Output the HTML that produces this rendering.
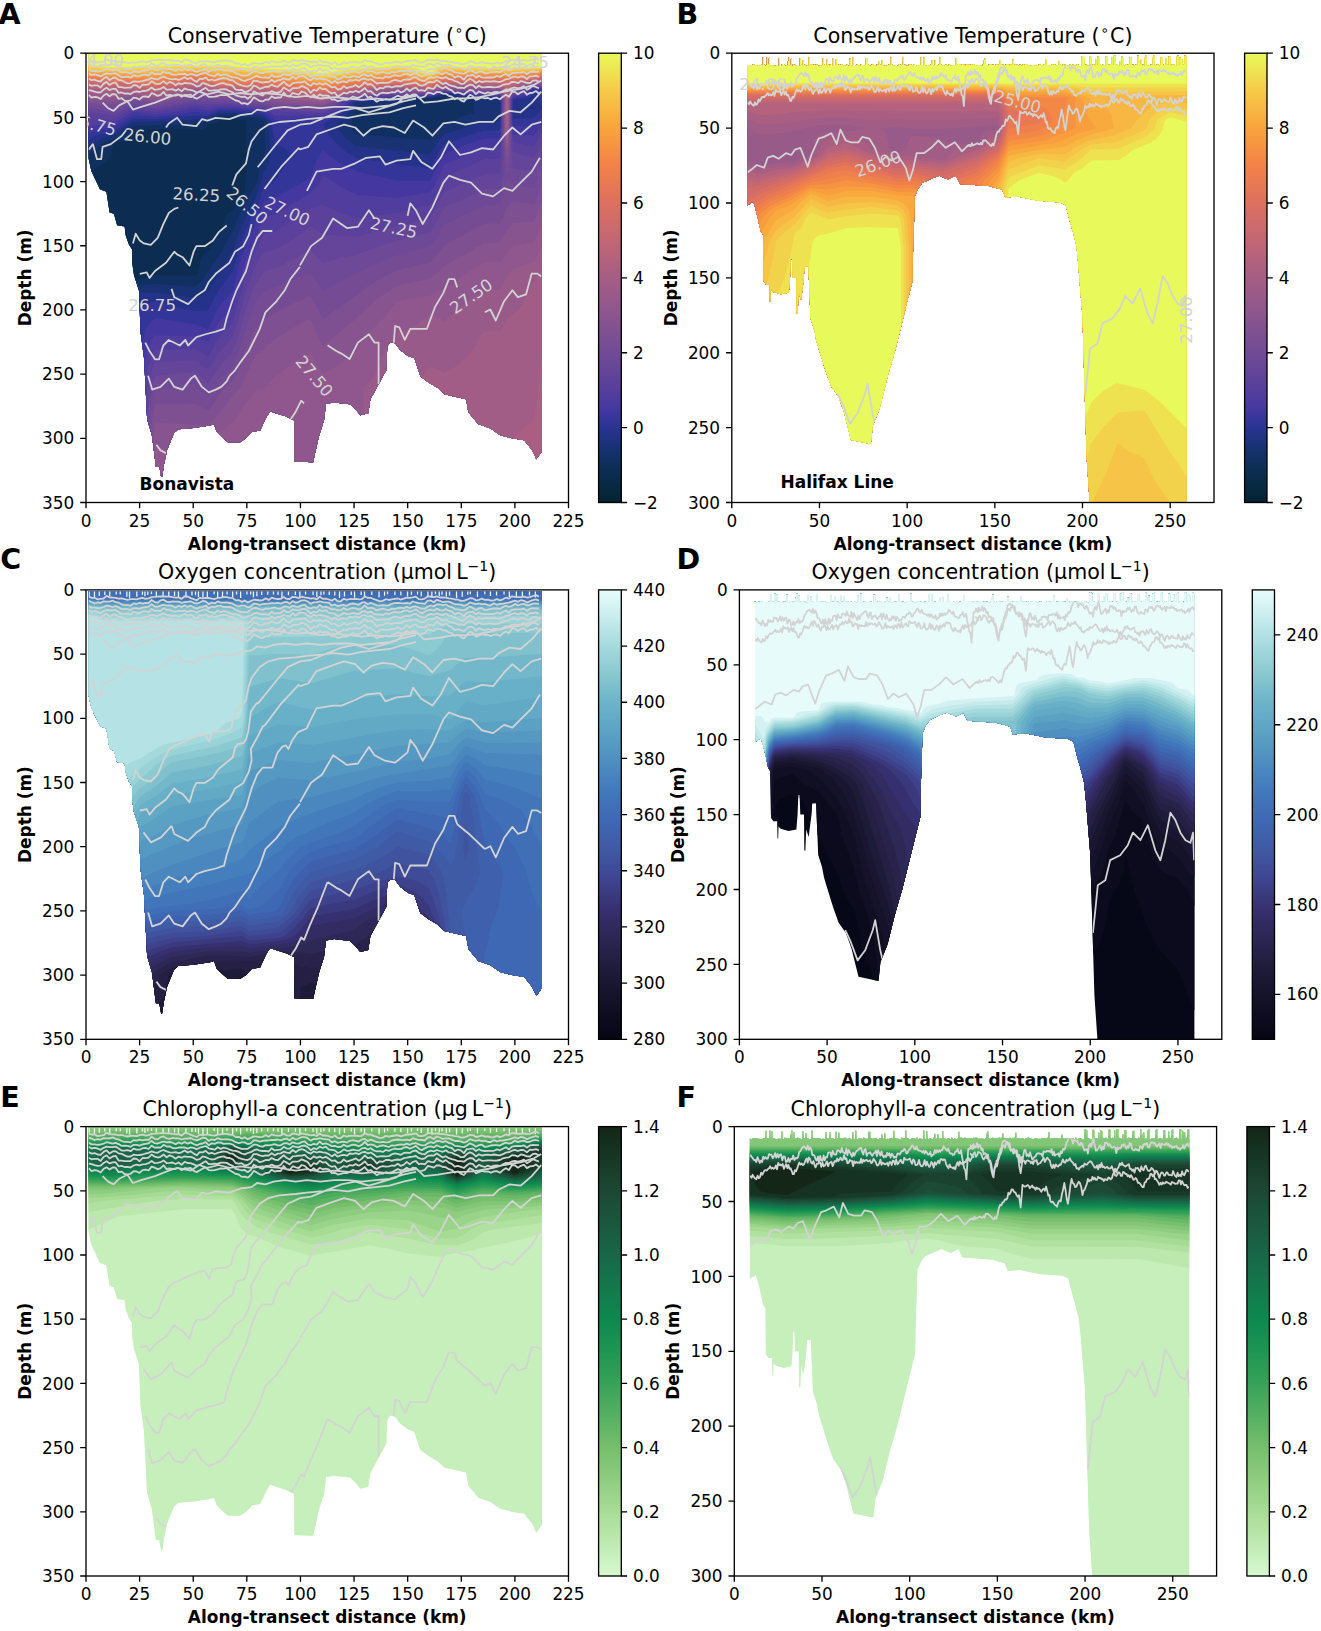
<!DOCTYPE html><html><head><meta charset="utf-8"><style>html,body{margin:0;padding:0;background:#fff;}svg{display:block;}</style></head><body><svg width="1321" height="1631" viewBox="0 0 1321 1631" font-family="'DejaVu Sans','Liberation Sans',sans-serif">
<rect width="1321" height="1631" fill="#fff"/>
<defs><clipPath id="clipA"><polygon points="88.6,54.2 88.6,158.5 91.4,171.3 95.7,180.3 99.9,189.3 106.4,191.8 109.6,212.4 113.9,213.7 117.1,225.2 124.6,226.5 125.7,235.5 128.9,244.5 132.1,249.6 132.3,263.7 134.0,275.3 139.0,290.7 140.5,331.8 144.1,358.7 147.1,419.1 152.0,435.7 155.9,466.6 159.3,466.6 161.1,476.8 162.1,476.8 164.1,464.0 167.1,449.9 173.9,433.2 178.2,429.3 193.2,428.0 209.9,425.5 214.0,424.2 216.8,431.9 222.0,437.0 228.0,442.2 240.0,442.2 246.0,438.3 252.0,431.9 260.1,430.6 266.1,417.8 270.0,411.4 276.0,413.3 286.1,416.5 294.0,420.3 294.4,461.4 313.1,462.2 316.1,448.6 319.1,435.7 324.0,420.3 326.0,403.7 334.1,402.4 350.2,404.2 356.2,410.1 360.3,415.2 368.2,413.2 370.4,399.2 376.4,388.2 380.2,381.2 386.2,370.3 387.3,346.3 390.3,342.2 395.2,343.2 400.4,350.3 408.3,356.2 414.3,358.2 420.3,376.2 428.3,382.2 438.3,388.2 444.3,394.2 466.2,399.2 468.4,412.3 478.4,424.2 490.2,428.2 500.3,435.2 512.3,438.2 524.3,440.2 532.3,450.3 536.3,459.2 541.9,451.2 541.9,54.2"/></clipPath><clipPath id="axA"><rect x="86.0" y="53.2" width="482.5" height="449.3"/></clipPath><linearGradient id="gA" x1="0" y1="0" x2="0" y2="1"><stop offset="0.000" stop-color="#e8fa5b"/><stop offset="0.080" stop-color="#f5cc48"/><stop offset="0.170" stop-color="#faa23c"/><stop offset="0.250" stop-color="#f28248"/><stop offset="0.330" stop-color="#de705e"/><stop offset="0.420" stop-color="#c16676"/><stop offset="0.500" stop-color="#a55e84"/><stop offset="0.580" stop-color="#8c568e"/><stop offset="0.670" stop-color="#704a96"/><stop offset="0.750" stop-color="#563f9c"/><stop offset="0.792" stop-color="#4438a0"/><stop offset="0.833" stop-color="#2a3394"/><stop offset="0.875" stop-color="#183274"/><stop offset="0.920" stop-color="#0d2f57"/><stop offset="0.960" stop-color="#082942"/><stop offset="1.000" stop-color="#042333"/></linearGradient><clipPath id="clipB"><polygon points="747.4,65.2 747.4,205.4 753.4,201.5 757.0,214.6 760.7,231.4 763.0,234.4 763.4,280.8 766.0,284.4 769.5,284.4 769.8,301.8 770.6,301.8 770.9,289.8 773.0,292.1 780.9,294.3 788.8,292.8 790.0,277.9 790.7,258.4 791.9,258.4 792.6,277.9 796.3,277.9 796.7,313.8 797.7,313.8 798.6,292.8 801.1,300.3 803.5,280.8 804.6,266.5 808.4,266.5 810.5,318.3 814.4,330.3 816.3,340.8 820.0,352.7 825.6,370.7 830.9,385.7 838.2,396.2 843.7,411.1 850.9,440.0 870.8,444.1 872.8,425.5 880.0,407.4 887.2,378.2 894.5,352.7 901.7,324.0 907.1,302.1 912.6,280.4 912.9,256.9 914.9,196.1 918.5,188.0 922.2,183.0 929.6,179.5 939.1,175.7 948.2,179.5 955.7,175.7 959.9,184.1 988.9,186.0 1002.2,189.8 1005.2,197.6 1017.6,196.5 1036.9,200.4 1060.0,202.4 1065.8,205.2 1069.7,220.6 1073.5,234.1 1076.4,245.7 1078.3,264.4 1079.5,280.8 1082.5,316.8 1084.9,400.1 1086.7,458.2 1089.7,502.5 1186.6,502.5 1186.6,65.2 1186.6,56.2 1185.6,56.2 1185.6,55.8 1184.6,55.8 1184.6,64.4 1183.6,64.4 1183.6,64.9 1182.6,64.9 1182.6,59.2 1181.6,59.2 1181.6,58.9 1180.6,58.9 1180.6,57.4 1179.6,57.4 1179.6,65.8 1178.7,65.8 1178.7,55.7 1177.7,55.7 1177.7,55.9 1176.7,55.9 1176.7,66.0 1175.7,66.0 1175.7,65.0 1174.7,65.0 1174.7,64.4 1173.7,64.4 1173.7,64.8 1172.7,64.8 1172.7,64.5 1171.7,64.5 1171.7,65.7 1170.7,65.7 1170.7,55.9 1169.7,55.9 1169.7,56.8 1168.7,56.8 1168.7,65.0 1167.7,65.0 1167.7,64.4 1166.7,64.4 1166.7,57.9 1165.7,57.9 1165.7,65.1 1164.7,65.1 1164.7,65.3 1163.7,65.3 1163.7,64.8 1162.7,64.8 1162.7,57.2 1161.7,57.2 1161.7,57.0 1160.7,57.0 1160.7,65.3 1159.7,65.3 1159.7,65.9 1158.7,65.9 1158.7,64.8 1157.7,64.8 1157.7,64.5 1156.7,64.5 1156.7,65.6 1155.7,65.6 1155.7,65.2 1154.7,65.2 1154.7,55.5 1153.7,55.5 1153.7,56.9 1152.7,56.9 1152.7,65.3 1151.7,65.3 1151.7,64.8 1150.7,64.8 1150.7,65.4 1149.7,65.4 1149.7,65.1 1148.7,65.1 1148.7,66.0 1147.7,66.0 1147.7,65.5 1146.7,65.5 1146.7,55.6 1145.7,55.6 1145.7,57.0 1144.7,57.0 1144.7,66.1 1143.7,66.1 1143.7,64.8 1142.7,64.8 1142.7,65.5 1141.7,65.5 1141.7,59.0 1140.7,59.0 1140.7,64.5 1139.7,64.5 1139.7,60.4 1138.7,60.4 1138.7,55.7 1137.7,55.7 1137.7,65.0 1136.7,65.0 1136.7,64.4 1135.7,64.4 1135.7,65.3 1134.7,65.3 1134.7,65.8 1133.7,65.8 1133.7,64.8 1132.7,64.8 1132.7,64.9 1131.7,64.9 1131.7,57.4 1130.7,57.4 1130.7,57.6 1129.7,57.6 1129.7,64.6 1128.7,64.6 1128.7,64.7 1127.7,64.7 1127.7,65.3 1126.7,65.3 1126.7,64.3 1125.7,64.3 1125.7,64.9 1124.7,64.9 1124.7,66.0 1123.7,66.0 1123.7,57.0 1122.7,57.0 1122.7,56.6 1121.7,56.6 1121.7,65.5 1120.7,65.5 1120.7,61.0 1119.7,61.0 1119.7,65.9 1118.7,65.9 1118.7,65.0 1117.7,65.0 1117.7,64.5 1116.7,64.5 1116.7,64.4 1115.7,64.4 1115.7,55.6 1114.7,55.6 1114.7,55.9 1113.7,55.9 1113.7,64.9 1112.7,64.9 1112.7,56.9 1111.7,56.9 1111.7,64.5 1110.7,64.5 1110.7,64.3 1109.7,64.3 1109.7,65.4 1108.7,65.4 1108.7,64.7 1107.7,64.7 1107.7,56.2 1106.7,56.2 1106.7,56.3 1105.7,56.3 1105.7,65.8 1104.7,65.8 1104.7,65.1 1103.7,65.1 1103.7,64.4 1102.7,64.4 1102.7,64.9 1101.7,64.9 1101.7,65.8 1100.7,65.8 1100.7,64.3 1099.7,64.3 1099.7,57.6 1098.7,57.6 1098.7,56.6 1097.7,56.6 1097.7,65.3 1096.7,65.3 1096.7,59.3 1095.7,59.3 1095.7,65.8 1094.7,65.8 1094.7,64.8 1093.7,64.8 1093.7,64.6 1092.7,64.6 1092.7,65.2 1091.7,65.2 1091.7,57.2 1090.7,57.2 1090.7,56.2 1089.7,56.2 1089.7,65.7 1088.7,65.7 1088.7,65.8 1087.7,65.8 1087.7,65.8 1086.7,65.8 1086.7,64.7 1085.7,64.7 1085.7,64.9 1084.7,64.9 1084.7,57.1 1083.7,57.1 1083.7,56.1 1082.7,56.1 1082.7,56.0 1081.7,56.0 1081.7,66.0 1080.7,66.0 1080.7,66.0 1079.7,66.0 1079.7,66.0 1078.7,66.0 1078.7,64.7 1077.7,64.7 1077.7,64.6 1076.7,64.6 1076.7,65.4 1075.7,65.4 1075.7,65.8 1074.7,65.8 1074.7,65.5 1073.7,65.5 1073.7,64.4 1072.7,64.4 1072.7,65.9 1071.7,65.9 1071.7,65.6 1070.7,65.6 1070.7,64.6 1069.7,64.6 1069.7,64.9 1068.7,64.9 1068.7,66.0 1067.7,66.0 1067.7,65.0 1066.7,65.0 1066.7,65.6 1065.7,65.6 1065.7,64.5 1064.7,64.5 1064.7,65.9 1063.7,65.9 1063.7,64.5 1062.7,64.5 1062.7,66.0 1061.7,66.0 1061.7,64.9 1060.7,64.9 1060.7,64.5 1059.7,64.5 1059.7,61.3 1058.7,61.3 1058.7,65.2 1057.7,65.2 1057.7,65.1 1056.7,65.1 1056.7,65.8 1055.7,65.8 1055.7,64.7 1054.7,64.7 1054.7,64.7 1053.7,64.7 1053.7,64.7 1052.7,64.7 1052.7,64.5 1051.7,64.5 1051.7,64.9 1050.7,64.9 1050.7,65.3 1049.7,65.3 1049.7,65.0 1048.7,65.0 1048.7,65.2 1047.7,65.2 1047.7,65.2 1046.7,65.2 1046.7,58.9 1045.7,58.9 1045.7,64.3 1044.7,64.3 1044.7,64.6 1043.7,64.6 1043.7,65.6 1042.7,65.6 1042.7,64.9 1041.7,64.9 1041.7,65.3 1040.7,65.3 1040.7,64.5 1039.7,64.5 1039.7,64.7 1038.7,64.7 1038.7,65.7 1037.7,65.7 1037.7,65.3 1036.7,65.3 1036.7,65.9 1035.7,65.9 1035.7,65.4 1034.7,65.4 1034.7,65.2 1033.7,65.2 1033.7,65.1 1032.7,65.1 1032.7,65.1 1031.7,65.1 1031.7,65.5 1030.7,65.5 1030.7,66.0 1029.7,66.0 1029.7,65.3 1028.7,65.3 1028.7,65.8 1027.7,65.8 1027.7,64.5 1026.7,64.5 1026.7,64.4 1025.7,64.4 1025.7,64.4 1024.7,64.4 1024.7,65.7 1023.7,65.7 1023.7,64.6 1022.7,64.6 1022.7,65.5 1021.7,65.5 1021.7,65.9 1020.7,65.9 1020.7,64.7 1019.7,64.7 1019.7,65.0 1018.7,65.0 1018.7,66.1 1017.7,66.1 1017.7,64.6 1016.7,64.6 1016.7,65.2 1015.7,65.2 1015.7,64.6 1014.7,64.6 1014.7,65.6 1013.7,65.6 1013.7,59.4 1012.7,59.4 1012.7,64.3 1011.7,64.3 1011.7,65.4 1010.7,65.4 1010.7,64.4 1009.7,64.4 1009.7,65.7 1008.7,65.7 1008.7,64.5 1007.7,64.5 1007.7,64.4 1006.7,64.4 1006.7,64.8 1005.7,64.8 1005.7,65.0 1004.7,65.0 1004.7,65.8 1003.7,65.8 1003.7,64.6 1002.7,64.6 1002.7,65.3 1001.7,65.3 1001.7,64.4 1000.7,64.4 1000.7,60.0 999.7,60.0 999.7,64.4 998.7,64.4 998.7,65.4 997.7,65.4 997.7,64.4 996.7,64.4 996.7,64.4 995.7,64.4 995.7,65.1 994.7,65.1 994.7,65.3 993.7,65.3 993.7,64.8 992.7,64.8 992.7,65.2 991.7,65.2 991.7,64.5 990.8,64.5 990.8,64.4 989.8,64.4 989.8,64.8 988.8,64.8 988.8,65.6 987.8,65.6 987.8,65.2 986.8,65.2 986.8,64.9 985.8,64.9 985.8,58.1 984.8,58.1 984.8,60.2 983.8,60.2 983.8,64.6 982.8,64.6 982.8,66.0 981.8,66.0 981.8,65.8 980.8,65.8 980.8,65.2 979.8,65.2 979.8,65.0 978.8,65.0 978.8,65.5 977.8,65.5 977.8,64.9 976.8,64.9 976.8,65.6 975.8,65.6 975.8,65.0 974.8,65.0 974.8,64.4 973.8,64.4 973.8,64.4 972.8,64.4 972.8,64.7 971.8,64.7 971.8,64.4 970.8,64.4 970.8,65.8 969.8,65.8 969.8,64.8 968.8,64.8 968.8,64.8 967.8,64.8 967.8,64.6 966.8,64.6 966.8,64.8 965.8,64.8 965.8,66.0 964.8,66.0 964.8,64.7 963.8,64.7 963.8,64.8 962.8,64.8 962.8,64.3 961.8,64.3 961.8,65.1 960.8,65.1 960.8,64.6 959.8,64.6 959.8,64.3 958.8,64.3 958.8,64.4 957.8,64.4 957.8,64.4 956.8,64.4 956.8,58.3 955.8,58.3 955.8,65.3 954.8,65.3 954.8,65.6 953.8,65.6 953.8,65.6 952.8,65.6 952.8,65.0 951.8,65.0 951.8,66.1 950.8,66.1 950.8,65.6 949.8,65.6 949.8,64.4 948.8,64.4 948.8,65.9 947.8,65.9 947.8,65.6 946.8,65.6 946.8,64.5 945.8,64.5 945.8,65.2 944.8,65.2 944.8,65.7 943.8,65.7 943.8,65.3 942.8,65.3 942.8,65.5 941.8,65.5 941.8,64.7 940.8,64.7 940.8,57.5 939.8,57.5 939.8,64.5 938.8,64.5 938.8,65.3 937.8,65.3 937.8,65.4 936.8,65.4 936.8,65.2 935.8,65.2 935.8,60.5 934.8,60.5 934.8,65.2 933.8,65.2 933.8,65.5 932.8,65.5 932.8,60.3 931.8,60.3 931.8,64.4 930.8,64.4 930.8,65.6 929.8,65.6 929.8,65.6 928.8,65.6 928.8,65.2 927.8,65.2 927.8,65.1 926.8,65.1 926.8,65.7 925.8,65.7 925.8,65.4 924.8,65.4 924.8,57.6 923.8,57.6 923.8,65.6 922.8,65.6 922.8,65.3 921.8,65.3 921.8,57.2 920.8,57.2 920.8,65.5 919.8,65.5 919.8,65.5 918.8,65.5 918.8,65.2 917.8,65.2 917.8,65.1 916.8,65.1 916.8,65.9 915.8,65.9 915.8,66.0 914.8,66.0 914.8,64.3 913.8,64.3 913.8,65.8 912.8,65.8 912.8,65.1 911.8,65.1 911.8,64.7 910.8,64.7 910.8,64.7 909.8,64.7 909.8,64.5 908.8,64.5 908.8,66.0 907.8,66.0 907.8,65.8 906.8,65.8 906.8,65.9 905.8,65.9 905.8,64.7 904.8,64.7 904.8,65.2 903.8,65.2 903.8,57.0 902.8,57.0 902.8,65.1 901.8,65.1 901.8,64.5 900.8,64.5 900.8,64.9 899.8,64.9 899.8,64.3 898.8,64.3 898.8,65.8 897.8,65.8 897.8,65.9 896.8,65.9 896.8,65.9 895.8,65.9 895.8,65.0 894.8,65.0 894.8,66.1 893.8,66.1 893.8,64.9 892.8,64.9 892.8,64.8 891.8,64.8 891.8,57.4 890.8,57.4 890.8,64.8 889.8,64.8 889.8,64.7 888.8,64.7 888.8,65.2 887.8,65.2 887.8,65.0 886.8,65.0 886.8,65.9 885.8,65.9 885.8,65.4 884.8,65.4 884.8,66.0 883.8,66.0 883.8,65.6 882.8,65.6 882.8,60.2 881.8,60.2 881.8,65.6 880.8,65.6 880.8,64.8 879.8,64.8 879.8,61.1 878.8,61.1 878.8,65.1 877.8,65.1 877.8,64.8 876.8,64.8 876.8,66.0 875.8,66.0 875.8,65.5 874.8,65.5 874.8,65.3 873.8,65.3 873.8,64.6 872.8,64.6 872.8,64.7 871.8,64.7 871.8,65.2 870.8,65.2 870.8,65.9 869.8,65.9 869.8,65.1 868.8,65.1 868.8,64.6 867.8,64.6 867.8,58.5 866.8,58.5 866.8,58.0 865.8,58.0 865.8,65.3 864.8,65.3 864.8,65.6 863.8,65.6 863.8,65.0 862.8,65.0 862.8,65.0 861.8,65.0 861.8,64.4 860.8,64.4 860.8,66.0 859.8,66.0 859.8,65.2 858.8,65.2 858.8,65.8 857.8,65.8 857.8,64.8 856.8,64.8 856.8,65.0 855.8,65.0 855.8,66.0 854.8,66.0 854.8,65.9 853.8,65.9 853.8,57.1 852.8,57.1 852.8,65.9 851.8,65.9 851.8,65.3 850.8,65.3 850.8,58.7 849.8,58.7 849.8,65.8 848.8,65.8 848.8,66.0 847.8,66.0 847.8,64.5 846.8,64.5 846.8,65.2 845.8,65.2 845.8,66.0 844.8,66.0 844.8,65.4 843.8,65.4 843.8,65.1 842.8,65.1 842.8,64.4 841.8,64.4 841.8,64.7 840.8,64.7 840.8,65.4 839.8,65.4 839.8,64.5 838.8,64.5 838.8,65.4 837.8,65.4 837.8,64.5 836.8,64.5 836.8,59.3 835.8,59.3 835.8,65.0 834.8,65.0 834.8,65.4 833.8,65.4 833.8,58.3 832.8,58.3 832.8,66.0 831.8,66.0 831.8,65.9 830.8,65.9 830.8,64.7 829.8,64.7 829.8,66.0 828.8,66.0 828.8,64.8 827.8,64.8 827.8,59.2 826.8,59.2 826.8,65.0 825.8,65.0 825.8,65.5 824.8,65.5 824.8,64.7 823.8,64.7 823.8,58.5 822.8,58.5 822.8,65.5 821.8,65.5 821.8,65.7 820.8,65.7 820.8,65.2 819.8,65.2 819.8,66.0 818.8,66.0 818.8,65.8 817.8,65.8 817.8,64.7 816.8,64.7 816.8,64.8 815.8,64.8 815.8,65.2 814.8,65.2 814.8,64.7 813.8,64.7 813.8,65.5 812.8,65.5 812.8,64.5 811.8,64.5 811.8,64.7 810.8,64.7 810.8,64.5 809.8,64.5 809.8,57.2 808.8,57.2 808.8,65.9 807.8,65.9 807.8,65.6 806.8,65.6 806.8,66.0 805.8,66.0 805.8,64.6 804.8,64.6 804.8,65.6 803.8,65.6 803.8,59.9 802.8,59.9 802.8,65.0 801.9,65.0 801.9,64.6 800.9,64.6 800.9,58.2 799.9,58.2 799.9,66.0 798.9,66.0 798.9,66.0 797.9,66.0 797.9,64.9 796.9,64.9 796.9,65.8 795.9,65.8 795.9,64.4 794.9,64.4 794.9,65.0 793.9,65.0 793.9,64.6 792.9,64.6 792.9,65.9 791.9,65.9 791.9,58.8 790.9,58.8 790.9,65.7 789.9,65.7 789.9,57.1 788.9,57.1 788.9,61.1 787.9,61.1 787.9,65.6 786.9,65.6 786.9,64.9 785.9,64.9 785.9,66.0 784.9,66.0 784.9,64.8 783.9,64.8 783.9,64.9 782.9,64.9 782.9,64.3 781.9,64.3 781.9,65.9 780.9,65.9 780.9,66.0 779.9,66.0 779.9,58.0 778.9,58.0 778.9,66.0 777.9,66.0 777.9,65.0 776.9,65.0 776.9,65.1 775.9,65.1 775.9,66.0 774.9,66.0 774.9,65.7 773.9,65.7 773.9,65.8 772.9,65.8 772.9,65.4 771.9,65.4 771.9,64.9 770.9,64.9 770.9,65.7 769.9,65.7 769.9,57.8 768.9,57.8 768.9,64.7 767.9,64.7 767.9,57.1 766.9,57.1 766.9,64.9 765.9,64.9 765.9,65.9 764.9,65.9 764.9,64.8 763.9,64.8 763.9,57.4 762.9,57.4 762.9,65.6 761.9,65.6 761.9,64.7 760.9,64.7 760.9,65.4 759.9,65.4 759.9,65.6 758.9,65.6 758.9,65.5 757.9,65.5 757.9,65.8 756.9,65.8 756.9,65.3 755.9,65.3 755.9,65.6 754.9,65.6 754.9,64.7 753.9,64.7 753.9,64.6 752.9,64.6 752.9,65.3 751.9,65.3 751.9,65.0 750.9,65.0 750.9,65.2 749.9,65.2 749.9,65.7 748.9,65.7 748.9,66.1 747.9,66.1 747.9,65.1 746.9,65.1 747.4,65.2"/></clipPath><clipPath id="axB"><rect x="731.8" y="53.2" width="482.2" height="449.3"/></clipPath><linearGradient id="gB" x1="0" y1="0" x2="0" y2="1"><stop offset="0.000" stop-color="#e8fa5b"/><stop offset="0.080" stop-color="#f5cc48"/><stop offset="0.170" stop-color="#faa23c"/><stop offset="0.250" stop-color="#f28248"/><stop offset="0.330" stop-color="#de705e"/><stop offset="0.420" stop-color="#c16676"/><stop offset="0.500" stop-color="#a55e84"/><stop offset="0.580" stop-color="#8c568e"/><stop offset="0.670" stop-color="#704a96"/><stop offset="0.750" stop-color="#563f9c"/><stop offset="0.792" stop-color="#4438a0"/><stop offset="0.833" stop-color="#2a3394"/><stop offset="0.875" stop-color="#183274"/><stop offset="0.920" stop-color="#0d2f57"/><stop offset="0.960" stop-color="#082942"/><stop offset="1.000" stop-color="#042333"/></linearGradient><clipPath id="clipC"><polygon points="88.6,590.9 88.6,695.2 91.4,708.0 95.7,717.0 99.9,726.0 106.4,728.6 109.6,749.1 113.9,750.4 117.1,762.0 124.6,763.2 125.7,772.2 128.9,781.2 132.1,786.4 132.3,800.5 134.0,812.0 139.0,827.4 140.5,868.5 144.1,895.5 147.1,955.8 152.0,972.5 155.9,1003.3 159.3,1003.3 161.1,1013.6 162.1,1013.6 164.1,1000.8 167.1,986.7 173.9,970.0 178.2,966.1 193.2,964.8 209.9,962.3 214.0,961.0 216.8,968.7 222.0,973.8 228.0,979.0 240.0,979.0 246.0,975.1 252.0,968.7 260.1,967.4 266.1,954.6 270.0,948.1 276.0,950.1 286.1,953.3 294.0,957.1 294.4,998.2 313.1,999.0 316.1,985.4 319.1,972.5 324.0,957.1 326.0,940.4 334.1,939.1 350.2,940.9 356.2,946.9 360.3,952.0 368.2,949.9 370.4,935.9 376.4,925.0 380.2,918.0 386.2,907.0 387.3,883.0 390.3,878.9 395.2,880.0 400.4,887.0 408.3,892.9 414.3,895.0 420.3,913.0 428.3,919.0 438.3,925.0 444.3,930.9 466.2,935.9 468.4,949.0 478.4,961.0 490.2,965.0 500.3,972.0 512.3,975.0 524.3,977.0 532.3,987.0 536.3,996.0 541.9,987.9 541.9,590.9"/></clipPath><linearGradient id="gC" x1="0" y1="0" x2="0" y2="1"><stop offset="0.000" stop-color="#e8fbfb"/><stop offset="0.062" stop-color="#c8eced"/><stop offset="0.125" stop-color="#a5dadc"/><stop offset="0.194" stop-color="#86c6cf"/><stop offset="0.256" stop-color="#6ab2c8"/><stop offset="0.325" stop-color="#5aa0c4"/><stop offset="0.387" stop-color="#4d8cc0"/><stop offset="0.450" stop-color="#4278bb"/><stop offset="0.512" stop-color="#3f68b4"/><stop offset="0.581" stop-color="#4058a3"/><stop offset="0.644" stop-color="#3f4590"/><stop offset="0.713" stop-color="#372f6e"/><stop offset="0.775" stop-color="#2c2652"/><stop offset="0.844" stop-color="#1f1b3a"/><stop offset="0.906" stop-color="#141228"/><stop offset="1.000" stop-color="#050614"/></linearGradient><clipPath id="clipD"><polygon points="755.0,601.9 755.0,742.1 761.0,738.2 764.7,751.4 768.3,768.2 770.6,771.2 771.0,817.6 773.6,821.2 777.1,821.2 777.5,838.6 778.2,838.6 778.5,826.6 780.6,828.8 788.5,831.1 796.4,829.6 797.6,814.6 798.3,795.1 799.6,795.1 800.3,814.6 804.0,814.6 804.3,850.6 805.4,850.6 806.2,829.6 808.7,837.1 811.1,817.6 812.2,803.2 816.1,803.2 818.2,855.0 822.0,867.0 824.0,877.5 827.6,889.5 833.2,907.5 838.5,922.5 845.9,932.9 851.3,947.9 858.5,976.8 878.5,980.9 880.4,962.3 887.6,944.2 894.8,915.0 902.2,889.5 909.4,860.7 914.8,838.9 920.3,817.1 920.6,793.6 922.5,732.8 926.2,724.7 929.9,719.8 937.3,716.2 946.7,712.4 955.9,716.2 963.4,712.4 967.6,720.8 996.6,722.8 1009.9,726.5 1012.9,734.3 1025.3,733.3 1044.6,737.2 1067.8,739.1 1073.6,741.9 1077.4,757.4 1081.3,770.9 1084.1,782.4 1086.0,801.1 1087.3,817.6 1090.2,853.5 1092.7,936.8 1094.4,995.0 1097.4,1039.3 1194.4,1039.3 1194.4,601.9 1194.4,592.9 1193.4,592.9 1193.4,592.5 1192.4,592.5 1192.4,601.1 1191.4,601.1 1191.4,601.6 1190.4,601.6 1190.4,595.9 1189.4,595.9 1189.4,595.6 1188.4,595.6 1188.4,594.1 1187.4,594.1 1187.4,602.5 1186.4,602.5 1186.4,592.4 1185.4,592.4 1185.4,592.6 1184.4,592.6 1184.4,602.7 1183.4,602.7 1183.4,601.7 1182.4,601.7 1182.4,601.1 1181.4,601.1 1181.4,601.5 1180.4,601.5 1180.4,601.2 1179.4,601.2 1179.4,602.5 1178.4,602.5 1178.4,592.6 1177.4,592.6 1177.4,593.5 1176.4,593.5 1176.4,601.7 1175.4,601.7 1175.4,601.1 1174.4,601.1 1174.4,594.6 1173.4,594.6 1173.4,601.8 1172.4,601.8 1172.4,602.0 1171.4,602.0 1171.4,601.5 1170.4,601.5 1170.4,593.9 1169.4,593.9 1169.4,593.7 1168.4,593.7 1168.4,602.0 1167.4,602.0 1167.4,602.6 1166.4,602.6 1166.4,601.5 1165.4,601.5 1165.4,601.2 1164.4,601.2 1164.4,602.3 1163.4,602.3 1163.4,601.9 1162.4,601.9 1162.4,592.2 1161.4,592.2 1161.4,593.6 1160.4,593.6 1160.4,602.0 1159.4,602.0 1159.4,601.5 1158.4,601.5 1158.4,602.1 1157.4,602.1 1157.4,601.8 1156.4,601.8 1156.4,602.7 1155.4,602.7 1155.4,602.2 1154.4,602.2 1154.4,592.3 1153.4,592.3 1153.4,593.7 1152.4,593.7 1152.4,602.8 1151.4,602.8 1151.4,601.5 1150.4,601.5 1150.4,602.2 1149.4,602.2 1149.4,595.7 1148.4,595.7 1148.4,601.2 1147.4,601.2 1147.4,597.1 1146.4,597.1 1146.4,592.4 1145.4,592.4 1145.4,601.7 1144.4,601.7 1144.4,601.1 1143.4,601.1 1143.4,602.0 1142.4,602.0 1142.4,602.5 1141.4,602.5 1141.4,601.5 1140.4,601.5 1140.4,601.6 1139.4,601.6 1139.4,594.1 1138.4,594.1 1138.4,594.3 1137.4,594.3 1137.4,601.3 1136.4,601.3 1136.4,601.4 1135.4,601.4 1135.4,602.0 1134.4,602.0 1134.4,601.0 1133.4,601.0 1133.4,601.6 1132.4,601.6 1132.4,602.7 1131.4,602.7 1131.4,593.7 1130.4,593.7 1130.4,593.3 1129.4,593.3 1129.4,602.2 1128.4,602.2 1128.4,597.7 1127.4,597.7 1127.4,602.6 1126.4,602.6 1126.4,601.7 1125.4,601.7 1125.4,601.2 1124.4,601.2 1124.4,601.1 1123.4,601.1 1123.4,592.3 1122.4,592.3 1122.4,592.6 1121.4,592.6 1121.4,601.6 1120.4,601.6 1120.4,593.6 1119.4,593.6 1119.4,601.2 1118.4,601.2 1118.4,601.0 1117.4,601.0 1117.4,602.1 1116.4,602.1 1116.4,601.4 1115.4,601.4 1115.4,592.9 1114.4,592.9 1114.4,593.0 1113.4,593.0 1113.4,602.5 1112.4,602.5 1112.4,601.8 1111.4,601.8 1111.4,601.1 1110.4,601.1 1110.4,601.6 1109.4,601.6 1109.4,602.5 1108.4,602.5 1108.4,601.0 1107.4,601.0 1107.4,594.3 1106.4,594.3 1106.4,593.3 1105.4,593.3 1105.4,602.0 1104.4,602.0 1104.4,596.0 1103.4,596.0 1103.4,602.5 1102.4,602.5 1102.4,601.5 1101.4,601.5 1101.4,601.3 1100.4,601.3 1100.4,601.9 1099.4,601.9 1099.4,593.9 1098.4,593.9 1098.4,592.9 1097.4,592.9 1097.4,602.4 1096.4,602.4 1096.4,602.5 1095.4,602.5 1095.4,602.5 1094.4,602.5 1094.4,601.4 1093.4,601.4 1093.4,601.6 1092.4,601.6 1092.4,593.8 1091.4,593.8 1091.4,592.8 1090.4,592.8 1090.4,592.7 1089.4,592.7 1089.4,602.7 1088.4,602.7 1088.4,602.7 1087.4,602.7 1087.4,602.7 1086.4,602.7 1086.4,601.4 1085.4,601.4 1085.4,601.3 1084.4,601.3 1084.4,602.1 1083.4,602.1 1083.4,602.5 1082.4,602.5 1082.4,602.2 1081.4,602.2 1081.4,601.1 1080.4,601.1 1080.4,602.6 1079.4,602.6 1079.4,602.3 1078.4,602.3 1078.4,601.3 1077.4,601.3 1077.4,601.6 1076.4,601.6 1076.4,602.7 1075.4,602.7 1075.4,601.7 1074.4,601.7 1074.4,602.3 1073.4,602.3 1073.4,601.2 1072.4,601.2 1072.4,602.6 1071.4,602.6 1071.4,601.2 1070.4,601.2 1070.4,602.7 1069.4,602.7 1069.4,601.6 1068.4,601.6 1068.4,601.2 1067.4,601.2 1067.4,598.0 1066.4,598.0 1066.4,601.9 1065.4,601.9 1065.4,601.8 1064.4,601.8 1064.4,602.5 1063.5,602.5 1063.5,601.4 1062.5,601.4 1062.5,601.4 1061.5,601.4 1061.5,601.5 1060.5,601.5 1060.5,601.2 1059.5,601.2 1059.5,601.6 1058.5,601.6 1058.5,602.0 1057.5,602.0 1057.5,601.7 1056.5,601.7 1056.5,601.9 1055.5,601.9 1055.5,601.9 1054.5,601.9 1054.5,595.6 1053.5,595.6 1053.5,601.0 1052.5,601.0 1052.5,601.3 1051.5,601.3 1051.5,602.3 1050.5,602.3 1050.5,601.6 1049.5,601.6 1049.5,602.0 1048.5,602.0 1048.5,601.2 1047.5,601.2 1047.5,601.4 1046.5,601.4 1046.5,602.4 1045.5,602.4 1045.5,602.0 1044.5,602.0 1044.5,602.6 1043.5,602.6 1043.5,602.1 1042.5,602.1 1042.5,601.9 1041.5,601.9 1041.5,601.8 1040.5,601.8 1040.5,601.8 1039.5,601.8 1039.5,602.2 1038.5,602.2 1038.5,602.7 1037.5,602.7 1037.5,602.0 1036.5,602.0 1036.5,602.5 1035.5,602.5 1035.5,601.2 1034.5,601.2 1034.5,601.1 1033.5,601.1 1033.5,601.1 1032.5,601.1 1032.5,602.4 1031.5,602.4 1031.5,601.3 1030.5,601.3 1030.5,602.2 1029.5,602.2 1029.5,602.6 1028.5,602.6 1028.5,601.4 1027.5,601.4 1027.5,601.7 1026.5,601.7 1026.5,602.8 1025.5,602.8 1025.5,601.3 1024.5,601.3 1024.5,601.9 1023.5,601.9 1023.5,601.3 1022.5,601.3 1022.5,602.3 1021.5,602.3 1021.5,596.1 1020.5,596.1 1020.5,601.0 1019.5,601.0 1019.5,602.1 1018.5,602.1 1018.5,601.1 1017.5,601.1 1017.5,602.4 1016.5,602.4 1016.5,601.2 1015.5,601.2 1015.5,601.1 1014.5,601.1 1014.5,601.5 1013.5,601.5 1013.5,601.7 1012.5,601.7 1012.5,602.5 1011.5,602.5 1011.5,601.3 1010.5,601.3 1010.5,602.0 1009.5,602.0 1009.5,601.1 1008.5,601.1 1008.5,596.7 1007.5,596.7 1007.5,601.1 1006.5,601.1 1006.5,602.1 1005.5,602.1 1005.5,601.1 1004.5,601.1 1004.5,601.1 1003.5,601.1 1003.5,601.8 1002.5,601.8 1002.5,602.0 1001.5,602.0 1001.5,601.5 1000.5,601.5 1000.5,601.9 999.5,601.9 999.5,601.2 998.5,601.2 998.5,601.1 997.5,601.1 997.5,601.5 996.5,601.5 996.5,602.4 995.5,602.4 995.5,601.9 994.5,601.9 994.5,601.6 993.5,601.6 993.5,594.8 992.5,594.8 992.5,596.9 991.5,596.9 991.5,601.3 990.5,601.3 990.5,602.7 989.5,602.7 989.5,602.5 988.5,602.5 988.5,601.9 987.5,601.9 987.5,601.7 986.5,601.7 986.5,602.2 985.5,602.2 985.5,601.6 984.5,601.6 984.5,602.3 983.5,602.3 983.5,601.7 982.5,601.7 982.5,601.1 981.5,601.1 981.5,601.1 980.5,601.1 980.5,601.4 979.5,601.4 979.5,601.1 978.5,601.1 978.5,602.6 977.5,602.6 977.5,601.5 976.5,601.5 976.5,601.5 975.5,601.5 975.5,601.3 974.5,601.3 974.5,601.5 973.5,601.5 973.5,602.7 972.5,602.7 972.5,601.4 971.5,601.4 971.5,601.5 970.5,601.5 970.5,601.0 969.5,601.0 969.5,601.8 968.5,601.8 968.5,601.3 967.5,601.3 967.5,601.0 966.5,601.0 966.5,601.1 965.5,601.1 965.5,601.1 964.5,601.1 964.5,595.0 963.5,595.0 963.5,602.0 962.5,602.0 962.5,602.3 961.5,602.3 961.5,602.3 960.5,602.3 960.5,601.7 959.5,601.7 959.5,602.8 958.5,602.8 958.5,602.3 957.5,602.3 957.5,601.1 956.5,601.1 956.5,602.6 955.5,602.6 955.5,602.3 954.5,602.3 954.5,601.2 953.5,601.2 953.5,601.9 952.5,601.9 952.5,602.4 951.5,602.4 951.5,602.0 950.5,602.0 950.5,602.2 949.5,602.2 949.5,601.4 948.5,601.4 948.5,594.2 947.5,594.2 947.5,601.2 946.5,601.2 946.5,602.0 945.5,602.0 945.5,602.1 944.5,602.1 944.5,601.9 943.5,601.9 943.5,597.2 942.5,597.2 942.5,601.9 941.5,601.9 941.5,602.2 940.5,602.2 940.5,597.0 939.5,597.0 939.5,601.1 938.5,601.1 938.5,602.3 937.5,602.3 937.5,602.3 936.5,602.3 936.5,601.9 935.5,601.9 935.5,601.8 934.5,601.8 934.5,602.4 933.5,602.4 933.5,602.1 932.5,602.1 932.5,594.3 931.5,594.3 931.5,602.3 930.5,602.3 930.5,602.0 929.5,602.0 929.5,593.9 928.5,593.9 928.5,602.2 927.5,602.2 927.5,602.2 926.5,602.2 926.5,601.9 925.5,601.9 925.5,601.8 924.5,601.8 924.5,602.6 923.5,602.6 923.5,602.7 922.5,602.7 922.5,601.0 921.5,601.0 921.5,602.5 920.5,602.5 920.5,601.8 919.5,601.8 919.5,601.4 918.5,601.4 918.5,601.4 917.5,601.4 917.5,601.2 916.5,601.2 916.5,602.7 915.5,602.7 915.5,602.5 914.5,602.5 914.5,602.6 913.5,602.6 913.5,601.4 912.5,601.4 912.5,601.9 911.5,601.9 911.5,593.7 910.5,593.7 910.5,601.8 909.5,601.8 909.5,601.2 908.5,601.2 908.5,601.6 907.5,601.6 907.5,601.0 906.5,601.0 906.5,602.5 905.5,602.5 905.5,602.7 904.5,602.7 904.5,602.6 903.5,602.6 903.5,601.7 902.5,601.7 902.5,602.8 901.5,602.8 901.5,601.6 900.5,601.6 900.5,601.5 899.5,601.5 899.5,594.1 898.5,594.1 898.5,601.5 897.5,601.5 897.5,601.4 896.5,601.4 896.5,601.9 895.5,601.9 895.5,601.7 894.5,601.7 894.5,602.6 893.5,602.6 893.5,602.1 892.5,602.1 892.5,602.7 891.5,602.7 891.5,602.3 890.5,602.3 890.5,596.9 889.5,596.9 889.5,602.3 888.5,602.3 888.5,601.5 887.5,601.5 887.5,597.8 886.5,597.8 886.5,601.8 885.5,601.8 885.5,601.5 884.5,601.5 884.5,602.7 883.5,602.7 883.5,602.2 882.5,602.2 882.5,602.0 881.5,602.0 881.5,601.3 880.5,601.3 880.5,601.4 879.5,601.4 879.5,601.9 878.5,601.9 878.5,602.6 877.5,602.6 877.5,601.8 876.5,601.8 876.5,601.3 875.5,601.3 875.5,595.2 874.5,595.2 874.5,594.7 873.5,594.7 873.5,602.0 872.5,602.0 872.5,602.3 871.5,602.3 871.5,601.7 870.5,601.7 870.5,601.7 869.5,601.7 869.5,601.1 868.5,601.1 868.5,602.7 867.5,602.7 867.5,601.9 866.5,601.9 866.5,602.5 865.5,602.5 865.5,601.5 864.5,601.5 864.5,601.7 863.5,601.7 863.5,602.7 862.5,602.7 862.5,602.6 861.5,602.6 861.5,593.8 860.5,593.8 860.5,602.6 859.5,602.6 859.5,602.0 858.5,602.0 858.5,595.4 857.5,595.4 857.5,602.5 856.5,602.5 856.5,602.7 855.5,602.7 855.5,601.2 854.5,601.2 854.5,601.9 853.5,601.9 853.5,602.7 852.5,602.7 852.5,602.1 851.5,602.1 851.5,601.8 850.5,601.8 850.5,601.1 849.5,601.1 849.5,601.4 848.5,601.4 848.5,602.1 847.5,602.1 847.5,601.2 846.5,601.2 846.5,602.1 845.5,602.1 845.5,601.2 844.5,601.2 844.5,596.0 843.5,596.0 843.5,601.7 842.5,601.7 842.5,602.1 841.5,602.1 841.5,595.0 840.5,595.0 840.5,602.7 839.5,602.7 839.5,602.6 838.5,602.6 838.5,601.4 837.5,601.4 837.5,602.7 836.5,602.7 836.5,601.5 835.5,601.5 835.5,595.9 834.5,595.9 834.5,601.7 833.5,601.7 833.5,602.2 832.5,602.2 832.5,601.4 831.5,601.4 831.5,595.2 830.5,595.2 830.5,602.2 829.5,602.2 829.5,602.4 828.5,602.4 828.5,601.9 827.5,601.9 827.5,602.7 826.5,602.7 826.5,602.5 825.5,602.5 825.5,601.4 824.5,601.4 824.5,601.5 823.5,601.5 823.5,601.9 822.5,601.9 822.5,601.4 821.5,601.4 821.5,602.2 820.5,602.2 820.5,601.2 819.5,601.2 819.5,601.4 818.5,601.4 818.5,601.2 817.5,601.2 817.5,593.9 816.5,593.9 816.5,602.6 815.5,602.6 815.5,602.3 814.5,602.3 814.5,602.7 813.5,602.7 813.5,601.3 812.5,601.3 812.5,602.3 811.5,602.3 811.5,596.6 810.5,596.6 810.5,601.7 809.5,601.7 809.5,601.3 808.5,601.3 808.5,594.9 807.5,594.9 807.5,602.7 806.5,602.7 806.5,602.7 805.5,602.7 805.5,601.6 804.5,601.6 804.5,602.5 803.5,602.5 803.5,601.1 802.5,601.1 802.5,601.7 801.5,601.7 801.5,601.3 800.5,601.3 800.5,602.6 799.5,602.6 799.5,595.5 798.5,595.5 798.5,602.4 797.5,602.4 797.5,593.8 796.5,593.8 796.5,597.8 795.5,597.8 795.5,602.3 794.5,602.3 794.5,601.6 793.5,601.6 793.5,602.7 792.5,602.7 792.5,601.5 791.5,601.5 791.5,601.6 790.5,601.6 790.5,601.0 789.5,601.0 789.5,602.6 788.5,602.6 788.5,602.7 787.5,602.7 787.5,594.7 786.5,594.7 786.5,602.7 785.5,602.7 785.5,601.7 784.5,601.7 784.5,601.8 783.5,601.8 783.5,602.7 782.5,602.7 782.5,602.4 781.5,602.4 781.5,602.5 780.5,602.5 780.5,602.1 779.5,602.1 779.5,601.6 778.5,601.6 778.5,602.4 777.5,602.4 777.5,594.5 776.5,594.5 776.5,601.4 775.5,601.4 775.5,593.8 774.5,593.8 774.5,601.6 773.5,601.6 773.5,602.6 772.5,602.6 772.5,601.5 771.5,601.5 771.5,594.1 770.5,594.1 770.5,602.3 769.5,602.3 769.5,601.4 768.5,601.4 768.5,602.1 767.5,602.1 767.5,602.3 766.5,602.3 766.5,602.2 765.5,602.2 765.5,602.5 764.5,602.5 764.5,602.0 763.5,602.0 763.5,602.3 762.5,602.3 762.5,601.4 761.5,601.4 761.5,601.3 760.5,601.3 760.5,602.0 759.5,602.0 759.5,601.7 758.5,601.7 758.5,601.9 757.5,601.9 757.5,602.4 756.5,602.4 756.5,602.8 755.5,602.8 755.5,601.8 754.5,601.8 755.0,601.9"/></clipPath><linearGradient id="gD" x1="0" y1="0" x2="0" y2="1"><stop offset="0.000" stop-color="#e8fbfb"/><stop offset="0.062" stop-color="#c8eced"/><stop offset="0.125" stop-color="#a5dadc"/><stop offset="0.194" stop-color="#86c6cf"/><stop offset="0.256" stop-color="#6ab2c8"/><stop offset="0.325" stop-color="#5aa0c4"/><stop offset="0.387" stop-color="#4d8cc0"/><stop offset="0.450" stop-color="#4278bb"/><stop offset="0.512" stop-color="#3f68b4"/><stop offset="0.581" stop-color="#4058a3"/><stop offset="0.644" stop-color="#3f4590"/><stop offset="0.713" stop-color="#372f6e"/><stop offset="0.775" stop-color="#2c2652"/><stop offset="0.844" stop-color="#1f1b3a"/><stop offset="0.906" stop-color="#141228"/><stop offset="1.000" stop-color="#050614"/></linearGradient><clipPath id="clipE"><polygon points="88.6,1127.6 88.6,1231.9 91.4,1244.7 95.7,1253.7 99.9,1262.7 106.4,1265.3 109.6,1285.8 113.9,1287.1 117.1,1298.7 124.6,1299.9 125.7,1308.9 128.9,1317.9 132.1,1323.1 132.3,1337.2 134.0,1348.7 139.0,1364.1 140.5,1405.2 144.1,1432.2 147.1,1492.5 152.0,1509.2 155.9,1540.0 159.3,1540.0 161.1,1550.3 162.1,1550.3 164.1,1537.5 167.1,1523.4 173.9,1506.7 178.2,1502.8 193.2,1501.5 209.9,1499.0 214.0,1497.7 216.8,1505.4 222.0,1510.5 228.0,1515.7 240.0,1515.7 246.0,1511.8 252.0,1505.4 260.1,1504.1 266.1,1491.3 270.0,1484.8 276.0,1486.8 286.1,1490.0 294.0,1493.8 294.4,1534.9 313.1,1535.7 316.1,1522.1 319.1,1509.2 324.0,1493.8 326.0,1477.1 334.1,1475.8 350.2,1477.6 356.2,1483.6 360.3,1488.7 368.2,1486.6 370.4,1472.6 376.4,1461.7 380.2,1454.7 386.2,1443.7 387.3,1419.7 390.3,1415.6 395.2,1416.7 400.4,1423.7 408.3,1429.6 414.3,1431.7 420.3,1449.7 428.3,1455.7 438.3,1461.7 444.3,1467.6 466.2,1472.6 468.4,1485.7 478.4,1497.7 490.2,1501.7 500.3,1508.7 512.3,1511.7 524.3,1513.7 532.3,1523.7 536.3,1532.7 541.9,1524.6 541.9,1127.6"/></clipPath><linearGradient id="gE" x1="0" y1="0" x2="0" y2="1"><stop offset="0.000" stop-color="#132618"/><stop offset="0.143" stop-color="#1c4834"/><stop offset="0.286" stop-color="#196748"/><stop offset="0.357" stop-color="#14784c"/><stop offset="0.429" stop-color="#0d8950"/><stop offset="0.500" stop-color="#1e9653"/><stop offset="0.571" stop-color="#37a258"/><stop offset="0.714" stop-color="#76be6c"/><stop offset="0.857" stop-color="#a8dc96"/><stop offset="1.000" stop-color="#d7f9d0"/></linearGradient><clipPath id="clipF"><polygon points="749.9,1138.6 749.9,1278.8 755.9,1274.9 759.6,1288.1 763.2,1304.9 765.5,1307.9 765.9,1354.3 768.5,1357.9 772.0,1357.9 772.4,1375.3 773.1,1375.3 773.4,1363.3 775.5,1365.5 783.4,1367.8 791.3,1366.3 792.5,1351.3 793.2,1331.8 794.5,1331.8 795.2,1351.3 798.8,1351.3 799.2,1387.3 800.2,1387.3 801.1,1366.3 803.6,1373.8 806.0,1354.3 807.1,1339.9 810.9,1339.9 813.0,1391.7 816.9,1403.7 818.8,1414.2 822.5,1426.2 828.1,1444.2 833.4,1459.2 840.8,1469.6 846.2,1484.6 853.4,1513.5 873.4,1517.6 875.3,1499.0 882.5,1480.9 889.7,1451.7 897.1,1426.2 904.2,1397.4 909.7,1375.6 915.1,1353.8 915.5,1330.3 917.4,1269.5 921.1,1261.4 924.8,1256.5 932.1,1252.9 941.6,1249.1 950.7,1252.9 958.3,1249.1 962.5,1257.5 991.4,1259.5 1004.7,1263.2 1007.7,1271.0 1020.2,1270.0 1039.5,1273.9 1062.6,1275.8 1068.4,1278.6 1072.3,1294.1 1076.1,1307.6 1078.9,1319.1 1080.9,1337.8 1082.1,1354.3 1085.1,1390.2 1087.5,1473.5 1089.3,1531.7 1092.3,1576.0 1189.2,1576.0 1189.2,1138.6 1189.2,1129.6 1188.2,1129.6 1188.2,1129.2 1187.2,1129.2 1187.2,1137.8 1186.2,1137.8 1186.2,1138.3 1185.2,1138.3 1185.2,1132.6 1184.2,1132.6 1184.2,1132.3 1183.2,1132.3 1183.2,1130.8 1182.2,1130.8 1182.2,1139.2 1181.2,1139.2 1181.2,1129.1 1180.2,1129.1 1180.2,1129.3 1179.2,1129.3 1179.2,1139.4 1178.2,1139.4 1178.2,1138.4 1177.2,1138.4 1177.2,1137.8 1176.2,1137.8 1176.2,1138.2 1175.2,1138.2 1175.2,1137.9 1174.2,1137.9 1174.2,1139.2 1173.2,1139.2 1173.2,1129.3 1172.2,1129.3 1172.2,1130.2 1171.2,1130.2 1171.2,1138.4 1170.2,1138.4 1170.2,1137.8 1169.2,1137.8 1169.2,1131.3 1168.2,1131.3 1168.2,1138.5 1167.2,1138.5 1167.2,1138.7 1166.2,1138.7 1166.2,1138.2 1165.2,1138.2 1165.2,1130.6 1164.2,1130.6 1164.2,1130.4 1163.2,1130.4 1163.2,1138.7 1162.2,1138.7 1162.2,1139.3 1161.2,1139.3 1161.2,1138.2 1160.2,1138.2 1160.2,1137.9 1159.3,1137.9 1159.3,1139.0 1158.3,1139.0 1158.3,1138.6 1157.3,1138.6 1157.3,1128.9 1156.3,1128.9 1156.3,1130.3 1155.3,1130.3 1155.3,1138.7 1154.3,1138.7 1154.3,1138.2 1153.3,1138.2 1153.3,1138.8 1152.3,1138.8 1152.3,1138.5 1151.3,1138.5 1151.3,1139.4 1150.3,1139.4 1150.3,1138.9 1149.3,1138.9 1149.3,1129.0 1148.3,1129.0 1148.3,1130.4 1147.3,1130.4 1147.3,1139.5 1146.3,1139.5 1146.3,1138.2 1145.3,1138.2 1145.3,1138.9 1144.3,1138.9 1144.3,1132.4 1143.3,1132.4 1143.3,1137.9 1142.3,1137.9 1142.3,1133.8 1141.3,1133.8 1141.3,1129.1 1140.3,1129.1 1140.3,1138.4 1139.3,1138.4 1139.3,1137.8 1138.3,1137.8 1138.3,1138.7 1137.3,1138.7 1137.3,1139.2 1136.3,1139.2 1136.3,1138.2 1135.3,1138.2 1135.3,1138.3 1134.3,1138.3 1134.3,1130.8 1133.3,1130.8 1133.3,1131.0 1132.3,1131.0 1132.3,1138.0 1131.3,1138.0 1131.3,1138.1 1130.3,1138.1 1130.3,1138.7 1129.3,1138.7 1129.3,1137.7 1128.3,1137.7 1128.3,1138.3 1127.3,1138.3 1127.3,1139.4 1126.3,1139.4 1126.3,1130.4 1125.3,1130.4 1125.3,1130.0 1124.3,1130.0 1124.3,1138.9 1123.3,1138.9 1123.3,1134.4 1122.3,1134.4 1122.3,1139.3 1121.3,1139.3 1121.3,1138.4 1120.3,1138.4 1120.3,1137.9 1119.3,1137.9 1119.3,1137.8 1118.3,1137.8 1118.3,1129.0 1117.3,1129.0 1117.3,1129.3 1116.3,1129.3 1116.3,1138.3 1115.3,1138.3 1115.3,1130.3 1114.3,1130.3 1114.3,1137.9 1113.3,1137.9 1113.3,1137.7 1112.3,1137.7 1112.3,1138.8 1111.3,1138.8 1111.3,1138.1 1110.3,1138.1 1110.3,1129.6 1109.3,1129.6 1109.3,1129.7 1108.3,1129.7 1108.3,1139.2 1107.3,1139.2 1107.3,1138.5 1106.3,1138.5 1106.3,1137.8 1105.3,1137.8 1105.3,1138.3 1104.3,1138.3 1104.3,1139.2 1103.3,1139.2 1103.3,1137.7 1102.3,1137.7 1102.3,1131.0 1101.3,1131.0 1101.3,1130.0 1100.3,1130.0 1100.3,1138.7 1099.3,1138.7 1099.3,1132.7 1098.3,1132.7 1098.3,1139.2 1097.3,1139.2 1097.3,1138.2 1096.3,1138.2 1096.3,1138.0 1095.3,1138.0 1095.3,1138.6 1094.3,1138.6 1094.3,1130.6 1093.3,1130.6 1093.3,1129.6 1092.3,1129.6 1092.3,1139.1 1091.3,1139.1 1091.3,1139.2 1090.3,1139.2 1090.3,1139.2 1089.3,1139.2 1089.3,1138.1 1088.3,1138.1 1088.3,1138.3 1087.3,1138.3 1087.3,1130.5 1086.3,1130.5 1086.3,1129.5 1085.3,1129.5 1085.3,1129.4 1084.3,1129.4 1084.3,1139.4 1083.3,1139.4 1083.3,1139.4 1082.3,1139.4 1082.3,1139.4 1081.3,1139.4 1081.3,1138.1 1080.3,1138.1 1080.3,1138.0 1079.3,1138.0 1079.3,1138.8 1078.3,1138.8 1078.3,1139.2 1077.3,1139.2 1077.3,1138.9 1076.3,1138.9 1076.3,1137.8 1075.3,1137.8 1075.3,1139.3 1074.3,1139.3 1074.3,1139.0 1073.3,1139.0 1073.3,1138.0 1072.3,1138.0 1072.3,1138.3 1071.3,1138.3 1071.3,1139.4 1070.3,1139.4 1070.3,1138.4 1069.3,1138.4 1069.3,1139.0 1068.3,1139.0 1068.3,1137.9 1067.3,1137.9 1067.3,1139.3 1066.3,1139.3 1066.3,1137.9 1065.3,1137.9 1065.3,1139.4 1064.3,1139.4 1064.3,1138.3 1063.3,1138.3 1063.3,1137.9 1062.3,1137.9 1062.3,1134.7 1061.3,1134.7 1061.3,1138.6 1060.3,1138.6 1060.3,1138.5 1059.3,1138.5 1059.3,1139.2 1058.3,1139.2 1058.3,1138.1 1057.3,1138.1 1057.3,1138.1 1056.3,1138.1 1056.3,1138.2 1055.3,1138.2 1055.3,1137.9 1054.3,1137.9 1054.3,1138.3 1053.3,1138.3 1053.3,1138.7 1052.3,1138.7 1052.3,1138.4 1051.3,1138.4 1051.3,1138.6 1050.3,1138.6 1050.3,1138.6 1049.3,1138.6 1049.3,1132.3 1048.3,1132.3 1048.3,1137.7 1047.3,1137.7 1047.3,1138.0 1046.3,1138.0 1046.3,1139.0 1045.3,1139.0 1045.3,1138.3 1044.3,1138.3 1044.3,1138.7 1043.3,1138.7 1043.3,1137.9 1042.3,1137.9 1042.3,1138.1 1041.3,1138.1 1041.3,1139.1 1040.3,1139.1 1040.3,1138.7 1039.3,1138.7 1039.3,1139.3 1038.3,1139.3 1038.3,1138.8 1037.3,1138.8 1037.3,1138.6 1036.3,1138.6 1036.3,1138.5 1035.3,1138.5 1035.3,1138.5 1034.3,1138.5 1034.3,1138.9 1033.3,1138.9 1033.3,1139.4 1032.3,1139.4 1032.3,1138.7 1031.3,1138.7 1031.3,1139.2 1030.3,1139.2 1030.3,1137.9 1029.3,1137.9 1029.3,1137.8 1028.3,1137.8 1028.3,1137.8 1027.3,1137.8 1027.3,1139.1 1026.3,1139.1 1026.3,1138.0 1025.3,1138.0 1025.3,1138.9 1024.3,1138.9 1024.3,1139.3 1023.3,1139.3 1023.3,1138.1 1022.3,1138.1 1022.3,1138.4 1021.3,1138.4 1021.3,1139.5 1020.3,1139.5 1020.3,1138.0 1019.3,1138.0 1019.3,1138.6 1018.3,1138.6 1018.3,1138.0 1017.3,1138.0 1017.3,1139.0 1016.3,1139.0 1016.3,1132.8 1015.3,1132.8 1015.3,1137.7 1014.3,1137.7 1014.3,1138.8 1013.3,1138.8 1013.3,1137.8 1012.3,1137.8 1012.3,1139.1 1011.3,1139.1 1011.3,1137.9 1010.3,1137.9 1010.3,1137.8 1009.3,1137.8 1009.3,1138.2 1008.3,1138.2 1008.3,1138.4 1007.3,1138.4 1007.3,1139.2 1006.3,1139.2 1006.3,1138.0 1005.3,1138.0 1005.3,1138.7 1004.3,1138.7 1004.3,1137.8 1003.3,1137.8 1003.3,1133.4 1002.3,1133.4 1002.3,1137.8 1001.3,1137.8 1001.3,1138.8 1000.3,1138.8 1000.3,1137.8 999.3,1137.8 999.3,1137.8 998.3,1137.8 998.3,1138.5 997.3,1138.5 997.3,1138.7 996.3,1138.7 996.3,1138.2 995.3,1138.2 995.3,1138.6 994.3,1138.6 994.3,1137.9 993.3,1137.9 993.3,1137.8 992.3,1137.8 992.3,1138.2 991.3,1138.2 991.3,1139.1 990.3,1139.1 990.3,1138.6 989.3,1138.6 989.3,1138.3 988.3,1138.3 988.3,1131.5 987.3,1131.5 987.3,1133.6 986.3,1133.6 986.3,1138.0 985.3,1138.0 985.3,1139.4 984.3,1139.4 984.3,1139.2 983.3,1139.2 983.3,1138.6 982.3,1138.6 982.3,1138.4 981.3,1138.4 981.3,1138.9 980.3,1138.9 980.3,1138.3 979.3,1138.3 979.3,1139.0 978.3,1139.0 978.3,1138.4 977.3,1138.4 977.3,1137.8 976.3,1137.8 976.3,1137.8 975.3,1137.8 975.3,1138.1 974.3,1138.1 974.3,1137.8 973.3,1137.8 973.3,1139.3 972.3,1139.3 972.3,1138.2 971.3,1138.2 971.3,1138.2 970.3,1138.2 970.3,1138.0 969.3,1138.0 969.3,1138.2 968.3,1138.2 968.3,1139.4 967.3,1139.4 967.3,1138.1 966.3,1138.1 966.3,1138.2 965.3,1138.2 965.3,1137.7 964.3,1137.7 964.3,1138.5 963.3,1138.5 963.3,1138.0 962.3,1138.0 962.3,1137.7 961.3,1137.7 961.3,1137.8 960.3,1137.8 960.3,1137.8 959.3,1137.8 959.3,1131.7 958.3,1131.7 958.3,1138.7 957.3,1138.7 957.3,1139.0 956.3,1139.0 956.3,1139.0 955.3,1139.0 955.3,1138.4 954.3,1138.4 954.3,1139.5 953.3,1139.5 953.3,1139.0 952.3,1139.0 952.3,1137.8 951.3,1137.8 951.3,1139.3 950.3,1139.3 950.3,1139.0 949.3,1139.0 949.3,1137.9 948.3,1137.9 948.3,1138.6 947.3,1138.6 947.3,1139.1 946.3,1139.1 946.3,1138.7 945.3,1138.7 945.3,1138.9 944.3,1138.9 944.3,1138.1 943.3,1138.1 943.3,1130.9 942.3,1130.9 942.3,1137.9 941.3,1137.9 941.3,1138.7 940.3,1138.7 940.3,1138.8 939.3,1138.8 939.3,1138.6 938.3,1138.6 938.3,1133.9 937.3,1133.9 937.3,1138.6 936.3,1138.6 936.3,1138.9 935.3,1138.9 935.3,1133.7 934.3,1133.7 934.3,1137.8 933.3,1137.8 933.3,1139.0 932.3,1139.0 932.3,1139.0 931.3,1139.0 931.3,1138.6 930.3,1138.6 930.3,1138.5 929.3,1138.5 929.3,1139.1 928.3,1139.1 928.3,1138.8 927.3,1138.8 927.3,1131.0 926.3,1131.0 926.3,1139.0 925.3,1139.0 925.3,1138.7 924.3,1138.7 924.3,1130.6 923.3,1130.6 923.3,1138.9 922.3,1138.9 922.3,1138.9 921.3,1138.9 921.3,1138.6 920.3,1138.6 920.3,1138.5 919.3,1138.5 919.3,1139.3 918.3,1139.3 918.3,1139.4 917.3,1139.4 917.3,1137.7 916.3,1137.7 916.3,1139.2 915.3,1139.2 915.3,1138.5 914.3,1138.5 914.3,1138.1 913.3,1138.1 913.3,1138.1 912.3,1138.1 912.3,1137.9 911.3,1137.9 911.3,1139.4 910.3,1139.4 910.3,1139.2 909.3,1139.2 909.3,1139.3 908.3,1139.3 908.3,1138.1 907.3,1138.1 907.3,1138.6 906.3,1138.6 906.3,1130.4 905.3,1130.4 905.3,1138.5 904.3,1138.5 904.3,1137.9 903.3,1137.9 903.3,1138.3 902.3,1138.3 902.3,1137.7 901.3,1137.7 901.3,1139.2 900.3,1139.2 900.3,1139.4 899.3,1139.4 899.3,1139.3 898.3,1139.3 898.3,1138.4 897.3,1138.4 897.3,1139.5 896.3,1139.5 896.3,1138.3 895.3,1138.3 895.3,1138.2 894.3,1138.2 894.3,1130.8 893.3,1130.8 893.3,1138.2 892.3,1138.2 892.3,1138.1 891.3,1138.1 891.3,1138.6 890.3,1138.6 890.3,1138.4 889.3,1138.4 889.3,1139.3 888.3,1139.3 888.3,1138.8 887.3,1138.8 887.3,1139.4 886.3,1139.4 886.3,1139.0 885.3,1139.0 885.3,1133.6 884.3,1133.6 884.3,1139.0 883.3,1139.0 883.3,1138.2 882.3,1138.2 882.3,1134.5 881.3,1134.5 881.3,1138.5 880.3,1138.5 880.3,1138.2 879.3,1138.2 879.3,1139.4 878.3,1139.4 878.3,1138.9 877.3,1138.9 877.3,1138.7 876.3,1138.7 876.3,1138.0 875.3,1138.0 875.3,1138.1 874.3,1138.1 874.3,1138.6 873.3,1138.6 873.3,1139.3 872.3,1139.3 872.3,1138.5 871.3,1138.5 871.3,1138.0 870.3,1138.0 870.3,1131.9 869.3,1131.9 869.3,1131.4 868.3,1131.4 868.3,1138.7 867.3,1138.7 867.3,1139.0 866.3,1139.0 866.3,1138.4 865.3,1138.4 865.3,1138.4 864.3,1138.4 864.3,1137.8 863.3,1137.8 863.3,1139.4 862.3,1139.4 862.3,1138.6 861.3,1138.6 861.3,1139.2 860.3,1139.2 860.3,1138.2 859.3,1138.2 859.3,1138.4 858.3,1138.4 858.3,1139.4 857.3,1139.4 857.3,1139.3 856.3,1139.3 856.3,1130.5 855.3,1130.5 855.3,1139.3 854.3,1139.3 854.3,1138.7 853.3,1138.7 853.3,1132.1 852.3,1132.1 852.3,1139.2 851.3,1139.2 851.3,1139.4 850.4,1139.4 850.4,1137.9 849.4,1137.9 849.4,1138.6 848.4,1138.6 848.4,1139.4 847.4,1139.4 847.4,1138.8 846.4,1138.8 846.4,1138.5 845.4,1138.5 845.4,1137.8 844.4,1137.8 844.4,1138.1 843.4,1138.1 843.4,1138.8 842.4,1138.8 842.4,1137.9 841.4,1137.9 841.4,1138.8 840.4,1138.8 840.4,1137.9 839.4,1137.9 839.4,1132.7 838.4,1132.7 838.4,1138.4 837.4,1138.4 837.4,1138.8 836.4,1138.8 836.4,1131.7 835.4,1131.7 835.4,1139.4 834.4,1139.4 834.4,1139.3 833.4,1139.3 833.4,1138.1 832.4,1138.1 832.4,1139.4 831.4,1139.4 831.4,1138.2 830.4,1138.2 830.4,1132.6 829.4,1132.6 829.4,1138.4 828.4,1138.4 828.4,1138.9 827.4,1138.9 827.4,1138.1 826.4,1138.1 826.4,1131.9 825.4,1131.9 825.4,1138.9 824.4,1138.9 824.4,1139.1 823.4,1139.1 823.4,1138.6 822.4,1138.6 822.4,1139.4 821.4,1139.4 821.4,1139.2 820.4,1139.2 820.4,1138.1 819.4,1138.1 819.4,1138.2 818.4,1138.2 818.4,1138.6 817.4,1138.6 817.4,1138.1 816.4,1138.1 816.4,1138.9 815.4,1138.9 815.4,1137.9 814.4,1137.9 814.4,1138.1 813.4,1138.1 813.4,1137.9 812.4,1137.9 812.4,1130.6 811.4,1130.6 811.4,1139.3 810.4,1139.3 810.4,1139.0 809.4,1139.0 809.4,1139.4 808.4,1139.4 808.4,1138.0 807.4,1138.0 807.4,1139.0 806.4,1139.0 806.4,1133.3 805.4,1133.3 805.4,1138.4 804.4,1138.4 804.4,1138.0 803.4,1138.0 803.4,1131.6 802.4,1131.6 802.4,1139.4 801.4,1139.4 801.4,1139.4 800.4,1139.4 800.4,1138.3 799.4,1138.3 799.4,1139.2 798.4,1139.2 798.4,1137.8 797.4,1137.8 797.4,1138.4 796.4,1138.4 796.4,1138.0 795.4,1138.0 795.4,1139.3 794.4,1139.3 794.4,1132.2 793.4,1132.2 793.4,1139.1 792.4,1139.1 792.4,1130.5 791.4,1130.5 791.4,1134.5 790.4,1134.5 790.4,1139.0 789.4,1139.0 789.4,1138.3 788.4,1138.3 788.4,1139.4 787.4,1139.4 787.4,1138.2 786.4,1138.2 786.4,1138.3 785.4,1138.3 785.4,1137.7 784.4,1137.7 784.4,1139.3 783.4,1139.3 783.4,1139.4 782.4,1139.4 782.4,1131.4 781.4,1131.4 781.4,1139.4 780.4,1139.4 780.4,1138.4 779.4,1138.4 779.4,1138.5 778.4,1138.5 778.4,1139.4 777.4,1139.4 777.4,1139.1 776.4,1139.1 776.4,1139.2 775.4,1139.2 775.4,1138.8 774.4,1138.8 774.4,1138.3 773.4,1138.3 773.4,1139.1 772.4,1139.1 772.4,1131.2 771.4,1131.2 771.4,1138.1 770.4,1138.1 770.4,1130.5 769.4,1130.5 769.4,1138.3 768.4,1138.3 768.4,1139.3 767.4,1139.3 767.4,1138.2 766.4,1138.2 766.4,1130.8 765.4,1130.8 765.4,1139.0 764.4,1139.0 764.4,1138.1 763.4,1138.1 763.4,1138.8 762.4,1138.8 762.4,1139.0 761.4,1139.0 761.4,1138.9 760.4,1138.9 760.4,1139.2 759.4,1139.2 759.4,1138.7 758.4,1138.7 758.4,1139.0 757.4,1139.0 757.4,1138.1 756.4,1138.1 756.4,1138.0 755.4,1138.0 755.4,1138.7 754.4,1138.7 754.4,1138.4 753.4,1138.4 753.4,1138.6 752.4,1138.6 752.4,1139.1 751.4,1139.1 751.4,1139.5 750.4,1139.5 750.4,1138.5 749.4,1138.5 749.9,1138.6"/></clipPath><linearGradient id="gF" x1="0" y1="0" x2="0" y2="1"><stop offset="0.000" stop-color="#132618"/><stop offset="0.143" stop-color="#1c4834"/><stop offset="0.286" stop-color="#196748"/><stop offset="0.357" stop-color="#14784c"/><stop offset="0.429" stop-color="#0d8950"/><stop offset="0.500" stop-color="#1e9653"/><stop offset="0.571" stop-color="#37a258"/><stop offset="0.714" stop-color="#76be6c"/><stop offset="0.857" stop-color="#a8dc96"/><stop offset="1.000" stop-color="#d7f9d0"/></linearGradient></defs>
<g clip-path="url(#clipA)">
<rect x="86.0" y="53.2" width="482.5" height="449.3" fill="#052538"/>
<path d="M87.0 53.2 569.0 53.2 569.0 503.2 86.0 503.2 86.0 53.2Z" fill="#082943"/>
<path d="M87.0 53.2 569.0 53.2 569.0 503.2 86.0 503.2 86.0 53.2Z" fill="#0c2d51"/>
<path d="M87.0 53.2 569.0 53.2 569.0 503.2 116.7 503.2 116.7 310.2 118.3 290.2 121.0 285.4 125.0 282.7 145.0 278.2 154.0 275.2 195.0 275.7 197.6 273.2 199.8 262.2 202.0 256.7 205.0 253.2 208.0 251.3 211.5 246.2 214.4 237.2 219.0 232.7 222.1 227.2 225.5 216.2 228.0 213.0 233.0 210.3 238.6 196.2 245.0 191.2 245.4 180.2 246.6 174.2 246.6 120.2 236.0 119.6 233.0 117.7 219.0 117.7 218.1 122.2 217.0 123.1 207.6 124.2 206.0 127.9 203.0 128.9 155.0 129.1 133.0 131.4 131.2 133.2 129.3 138.2 127.0 140.4 113.5 143.2 111.6 153.2 109.0 158.6 99.9 166.2 93.0 170.0 88.0 179.8 86.0 179.8 86.0 53.2Z" fill="#113062"/>
<path d="M87.0 53.2 569.0 53.2 569.0 503.2 122.2 503.2 122.2 310.2 126.2 291.2 133.0 286.2 155.0 283.7 195.0 286.7 202.5 280.2 218.6 256.2 233.0 230.5 239.6 214.2 256.0 184.3 258.7 175.2 261.0 162.2 265.7 149.2 264.3 120.2 255.0 117.7 245.0 117.3 233.0 115.2 219.0 115.2 210.0 120.6 195.0 123.7 133.0 126.0 121.0 135.7 103.2 143.2 100.0 146.4 93.0 150.8 88.0 156.0 86.0 156.0 86.0 53.2ZM443.5 94.2 442.0 96.6 440.0 97.5 406.0 100.2 401.0 105.7 397.0 108.5 356.0 108.7 352.6 118.2 351.4 125.2 351.8 130.2 357.0 134.3 430.0 140.1 433.8 135.2 436.0 129.8 439.0 127.0 453.0 122.2 461.0 116.6 473.6 113.2 473.6 100.2 451.9 98.2 444.0 94.1Z" fill="#183274"/>
<path d="M87.0 53.2 569.0 53.2 569.0 503.2 127.7 503.2 127.7 310.2 132.0 296.2 134.0 293.4 155.0 292.4 195.0 297.9 203.0 294.4 208.0 290.7 233.0 250.7 240.9 227.2 256.9 195.2 264.0 171.2 267.3 166.2 270.0 159.2 270.7 149.2 267.9 121.2 266.8 119.2 264.0 117.2 256.0 115.2 245.0 114.8 233.0 113.1 219.0 113.1 208.0 118.6 177.0 120.8 133.0 122.1 116.0 133.7 100.2 139.2 88.0 146.9 86.0 146.9 86.0 53.2ZM441.4 94.2 438.6 96.2 433.0 97.2 397.0 98.7 379.0 101.0 355.6 102.2 348.2 113.2 343.0 117.2 337.8 124.2 338.9 130.2 347.0 138.9 356.0 146.0 430.0 154.4 437.4 142.2 444.0 134.5 484.0 121.6 499.0 121.3 500.0 119.2 500.0 98.8 469.0 97.7 460.0 96.6 452.4 94.2 442.0 94.0ZM533.5 106.2 529.8 108.2 535.0 109.3 535.7 108.2 534.0 105.9Z" fill="#243389"/>
<path d="M87.0 53.2 569.0 53.2 569.0 503.2 133.1 503.2 133.6 310.2 155.0 301.1 174.0 306.4 195.0 310.9 208.0 310.2 219.0 289.8 233.0 270.9 241.0 242.4 250.1 220.2 258.0 204.2 264.0 185.7 274.9 181.2 290.9 156.2 289.0 152.2 285.0 148.3 275.0 144.1 271.0 120.2 264.0 114.7 255.0 112.3 219.0 111.0 208.0 116.1 195.0 115.7 155.0 119.2 133.0 118.7 114.0 130.9 95.0 135.7 88.0 140.5 86.0 140.5 86.0 53.2ZM534.6 91.2 532.8 95.2 530.0 97.5 513.0 100.0 513.0 118.8 534.0 118.0 542.9 108.2 535.0 90.3ZM443.3 93.2 431.0 96.8 398.0 97.9 355.8 101.2 352.5 102.2 348.9 107.2 342.3 113.2 333.1 117.2 323.3 125.2 329.9 136.2 337.0 144.6 346.0 152.1 356.0 157.9 430.0 168.6 438.0 152.9 444.0 144.0 484.0 130.5 499.0 130.2 500.0 128.3 500.8 113.2 500.7 100.2 500.0 97.8 477.0 97.0 459.7 94.2 444.0 93.1Z" fill="#333598"/>
<path d="M87.0 53.2 569.0 53.2 569.0 95.6 543.0 95.6 540.1 89.2 532.4 89.2 530.3 93.2 527.0 95.7 513.0 98.4 512.0 113.2 513.0 126.4 534.0 126.1 543.0 115.7 569.0 115.7 569.0 503.2 135.3 503.2 136.0 411.2 138.1 367.2 140.1 351.2 143.3 337.2 146.7 328.2 151.3 321.2 155.0 318.1 195.0 323.9 208.0 329.2 219.0 306.6 233.0 291.0 238.3 268.2 244.0 249.3 260.4 211.2 264.0 200.8 275.0 198.1 310.0 178.0 311.3 176.2 316.1 160.2 323.0 149.4 330.0 156.4 337.0 161.6 356.0 171.0 361.0 172.6 397.0 180.6 430.0 180.7 444.0 154.2 463.0 145.8 484.0 138.5 499.0 138.2 500.0 136.7 500.6 127.2 501.1 99.2 500.0 96.8 499.0 96.6 484.0 96.5 467.0 94.2 444.0 92.6 431.0 96.2 398.0 97.0 356.0 100.4 349.4 102.2 345.0 107.2 339.0 111.7 328.0 116.2 323.0 117.2 310.0 117.2 275.0 120.7 270.0 115.6 263.9 112.2 256.0 110.7 233.0 109.1 219.0 109.1 208.0 113.2 195.0 111.7 178.0 114.5 155.0 116.8 133.0 115.2 114.0 127.2 94.0 130.9 88.0 134.2 86.0 134.2 86.0 53.2Z" fill="#4438a0"/>
<path d="M87.0 53.2 569.0 53.2 569.0 88.7 535.0 88.0 530.1 89.2 528.0 92.2 524.0 94.8 513.0 97.3 511.9 100.2 511.6 113.2 513.0 134.2 534.0 135.7 543.0 122.9 569.0 122.9 569.0 503.2 137.5 503.2 138.4 427.2 140.9 384.2 142.7 369.2 145.4 356.2 148.5 347.2 154.0 336.2 155.0 335.2 195.0 336.8 208.0 342.6 219.0 322.2 233.0 308.1 245.0 261.8 264.0 216.9 275.0 214.8 310.0 193.2 317.9 185.2 323.0 175.2 342.0 187.4 357.0 195.0 397.0 197.8 430.0 192.8 433.5 187.2 444.0 164.5 459.0 158.6 476.8 149.2 484.0 146.6 499.0 146.3 500.0 145.2 501.7 114.2 501.6 99.2 500.0 95.8 499.0 95.6 485.0 95.6 444.0 92.0 431.0 95.6 398.0 96.2 357.0 99.5 346.3 102.2 341.0 107.2 336.0 110.5 323.0 115.4 275.0 115.8 269.0 111.6 264.0 110.1 233.0 107.3 219.0 107.3 208.0 110.2 195.0 108.0 176.0 111.7 155.0 114.4 133.0 111.8 114.0 123.4 93.0 125.9 88.0 128.1 86.0 128.1 86.0 53.2Z" fill="#503d9d"/>
<path d="M87.0 53.2 569.0 53.2 569.0 87.9 535.0 87.4 527.9 89.2 522.0 93.9 513.0 96.3 511.5 99.2 511.1 113.2 513.0 142.3 534.0 146.7 543.0 130.2 569.0 130.2 569.0 503.2 139.7 503.2 139.7 465.2 142.7 401.2 147.4 369.2 151.1 357.2 155.0 349.7 195.0 348.9 208.0 356.0 209.0 355.0 219.0 337.6 233.0 322.3 245.0 277.2 255.0 251.0 264.0 233.0 275.0 231.5 310.0 208.4 323.0 204.8 340.0 212.7 356.0 218.7 375.0 215.3 398.0 212.8 430.0 204.9 435.9 195.2 444.0 177.6 485.0 158.7 499.0 158.7 500.0 157.5 501.1 142.2 502.1 99.2 500.0 94.8 499.0 94.6 485.0 94.6 444.0 91.5 430.0 95.1 398.0 95.4 356.0 98.9 343.1 102.2 334.0 109.1 323.0 113.6 284.0 112.1 275.0 111.1 264.0 108.4 233.0 105.4 219.0 105.4 208.0 107.3 195.0 105.5 155.0 112.0 133.0 109.3 126.0 112.2 114.0 119.7 93.0 119.5 88.0 122.0 86.0 122.0 86.0 53.2Z" fill="#5b419b"/>
<path d="M87.0 53.2 569.0 53.2 569.0 87.0 535.0 86.9 525.7 89.2 521.9 92.2 513.0 95.3 512.3 96.2 511.1 99.2 510.7 113.2 513.0 151.3 522.0 154.8 534.0 157.9 543.0 141.3 569.0 141.3 569.0 503.2 141.8 503.2 141.8 465.2 144.6 411.2 149.2 381.2 152.2 369.2 155.0 362.6 195.0 360.3 208.0 369.6 209.0 368.7 219.0 353.0 233.0 336.5 238.2 320.2 245.0 292.6 255.0 266.9 264.0 251.9 274.0 250.2 278.0 248.3 294.6 238.2 310.0 226.8 324.0 234.6 356.0 236.8 375.0 231.5 430.0 218.5 444.0 192.6 485.0 174.0 500.0 173.4 501.7 154.2 502.5 99.2 500.2 94.2 499.0 93.7 485.0 93.7 444.0 91.0 430.0 94.5 398.0 94.6 356.0 98.1 340.0 102.2 332.0 107.9 323.0 111.8 275.0 109.1 264.0 106.7 245.0 105.4 233.0 103.6 208.0 104.4 195.0 103.0 155.0 109.5 133.0 106.9 122.0 111.1 114.0 115.9 93.0 112.6 88.0 115.9 86.0 115.9 86.0 53.2Z" fill="#644599"/>
<path d="M87.0 53.2 569.0 53.2 569.0 86.1 535.0 86.3 523.4 89.2 519.0 92.1 513.0 94.2 512.0 95.6 510.6 99.2 510.3 113.2 511.5 155.2 513.0 167.9 534.0 171.7 543.0 152.5 569.0 152.5 569.0 503.2 144.0 503.2 144.0 465.2 147.4 412.2 151.0 390.4 155.0 376.0 195.0 371.7 208.0 383.3 209.0 382.4 219.0 367.1 233.0 350.6 238.7 335.2 248.2 301.2 255.0 284.4 264.0 271.0 275.0 268.3 282.0 265.2 297.0 257.6 310.0 249.8 323.0 263.2 324.0 263.1 338.0 258.5 356.0 254.8 390.0 242.4 430.0 232.2 434.3 226.2 444.0 207.6 485.0 189.3 500.0 189.0 503.3 175.2 503.0 99.2 500.9 94.2 499.0 92.7 444.0 90.5 430.0 94.0 398.0 93.8 356.0 97.3 336.9 102.2 330.0 106.8 323.0 110.0 275.0 107.2 264.0 105.0 245.0 103.7 233.0 101.7 209.0 101.6 196.0 100.5 155.0 107.4 133.0 104.4 123.0 107.6 114.0 112.1 93.0 108.8 86.0 110.4 86.0 53.2Z" fill="#6d4997"/>
<path d="M87.0 53.2 569.0 53.2 569.0 85.3 534.0 85.8 521.2 89.2 513.0 93.2 512.0 94.4 510.1 100.2 510.4 138.2 509.4 164.2 508.6 171.2 507.0 175.2 505.3 166.2 503.5 142.2 503.5 99.2 500.0 91.9 444.0 89.9 430.0 93.4 397.0 93.0 357.0 96.5 336.6 101.2 323.0 108.2 275.0 105.3 264.0 103.3 245.0 102.0 233.0 99.8 219.0 99.8 196.0 98.0 155.0 105.5 133.0 101.9 123.0 104.6 114.0 108.4 93.0 106.1 86.0 107.3 86.0 53.2ZM543.0 163.7 569.0 163.7 569.0 503.2 146.2 503.2 146.2 465.2 148.2 435.2 150.4 411.2 155.0 390.1 177.0 387.0 195.0 383.2 201.4 391.2 208.0 397.1 219.0 380.8 233.0 365.4 239.6 349.2 255.0 302.5 264.0 292.5 274.0 287.2 294.0 279.9 310.0 272.8 316.5 281.2 323.0 292.0 346.0 277.9 376.0 263.5 397.0 255.2 430.0 246.0 437.0 237.7 444.0 224.5 485.0 204.7 500.0 204.5 504.0 193.0 507.0 175.3 509.7 181.2 513.0 184.6 534.0 188.0 535.0 187.1 542.8 164.2Z" fill="#754c94"/>
<path d="M87.0 53.2 569.0 53.2 569.0 84.4 543.0 84.4 534.0 85.3 521.0 88.4 512.1 93.2 509.7 100.2 509.8 139.2 507.0 162.8 503.9 136.2 503.9 99.2 502.3 94.2 500.0 90.9 444.0 89.4 430.0 92.8 398.0 92.1 390.0 92.8 349.0 97.1 333.4 101.2 323.0 106.4 275.0 103.5 264.0 101.6 245.0 100.3 233.0 98.0 219.0 98.0 208.0 95.7 196.0 95.5 155.0 103.6 133.0 99.4 114.0 104.6 93.0 103.3 86.0 104.2 86.0 53.2ZM543.0 181.6 569.0 181.6 569.0 503.2 148.3 503.2 148.3 465.2 152.4 418.2 155.0 404.3 195.0 404.0 208.0 410.8 212.6 405.2 219.0 394.5 234.6 378.2 239.1 369.2 245.0 351.5 255.0 328.5 264.0 320.0 283.0 308.6 310.0 295.8 323.0 319.0 324.0 318.7 356.0 295.8 368.0 286.2 381.0 278.1 398.0 270.2 430.0 262.4 436.2 256.2 444.0 245.7 457.0 238.2 485.0 223.8 500.0 223.5 507.0 206.9 512.0 201.8 534.0 204.4 535.0 203.5 542.7 182.2Z" fill="#7e5092"/>
<path d="M87.0 53.2 569.0 53.2 569.0 83.6 543.0 83.6 534.0 84.7 520.0 87.9 512.0 92.1 509.3 99.2 509.3 136.2 507.0 152.3 504.5 135.2 504.4 99.2 502.5 93.2 500.0 89.9 444.0 88.7 430.0 92.3 397.0 91.3 351.0 95.9 334.0 99.9 323.0 104.5 275.0 101.6 264.0 99.8 245.0 98.6 233.0 96.1 219.0 96.1 208.0 93.7 195.0 93.6 155.0 101.7 133.0 97.4 114.0 101.6 93.0 100.6 86.0 101.2 86.0 53.2ZM543.0 199.5 569.0 199.5 569.0 503.2 150.5 503.2 150.5 465.2 155.0 422.6 195.0 424.8 208.0 424.6 215.0 418.2 239.6 388.2 249.1 369.2 255.0 354.5 264.0 349.7 274.0 339.9 294.4 327.2 310.0 318.8 321.3 342.2 323.0 345.3 324.0 345.1 334.3 337.2 344.8 327.2 357.0 318.0 375.2 300.2 392.0 288.7 398.0 285.5 431.0 278.4 444.0 266.8 484.0 243.3 500.0 242.6 507.0 229.8 513.0 223.0 534.0 221.6 542.7 200.2Z" fill="#875490"/>
<path d="M87.0 53.2 569.0 53.2 569.0 82.8 542.0 82.9 522.0 86.5 512.0 90.9 508.9 99.2 508.7 135.2 507.0 148.0 505.1 135.2 504.9 99.2 503.0 92.7 500.0 88.9 444.0 87.9 430.0 91.6 397.0 90.4 352.0 94.9 336.0 98.3 323.0 102.8 245.0 96.9 233.0 94.3 219.0 94.3 208.0 92.5 196.0 92.1 155.0 99.9 133.0 95.8 114.0 99.4 86.0 98.1 86.0 53.2ZM543.0 217.6 569.0 217.6 569.0 503.2 208.3 503.2 208.6 438.2 224.4 429.2 235.0 420.3 244.0 405.6 256.0 389.9 264.0 388.2 275.0 376.5 310.0 351.6 316.0 363.2 323.0 373.4 334.9 367.2 346.0 359.9 356.0 351.7 373.1 328.2 386.0 315.2 397.6 301.2 431.0 295.0 452.0 283.7 466.1 273.2 485.0 261.9 500.0 261.8 513.0 245.8 534.0 241.9 537.0 235.7 542.8 218.2ZM155.0 445.2 163.0 448.5 170.0 453.2 175.0 458.5 179.0 465.2 179.1 503.2 152.7 503.2 152.7 465.2 155.0 445.2Z" fill="#8f578d"/>
<path d="M87.0 53.2 569.0 53.2 569.0 82.0 542.0 82.1 522.0 85.7 512.0 89.7 509.9 93.2 508.5 99.2 508.1 135.2 507.0 143.7 505.7 135.2 505.3 99.2 503.6 92.2 500.0 87.9 444.0 87.0 430.0 91.0 397.0 89.5 356.0 93.3 336.4 97.2 323.0 101.4 245.0 95.6 233.0 93.1 219.0 93.1 208.0 91.3 196.0 90.7 155.0 98.0 133.0 94.3 114.0 97.2 86.0 95.8 86.0 53.2ZM543.0 242.2 569.0 242.2 569.0 503.2 363.1 503.2 363.1 387.2 370.8 380.2 376.4 372.2 380.8 362.2 384.7 348.2 398.0 332.5 416.0 325.0 430.0 315.6 431.0 315.3 444.0 321.2 464.0 304.3 485.0 290.0 500.0 289.7 509.0 273.2 513.0 268.7 535.0 261.3 542.6 243.2Z" fill="#985a89"/>
<path d="M87.0 53.2 569.0 53.2 569.0 81.3 542.0 81.4 521.0 85.2 512.0 88.5 509.5 92.2 508.0 99.2 507.0 139.4 505.7 98.2 504.0 91.2 500.0 87.0 444.0 86.2 430.0 90.3 397.0 88.5 356.0 92.3 336.0 96.3 323.0 100.1 264.0 95.0 245.0 94.3 233.0 91.9 219.0 91.9 196.0 89.3 155.0 96.1 133.0 92.8 114.0 95.0 93.0 93.2 86.0 93.4 86.0 53.2ZM543.0 267.0 569.0 267.0 569.0 503.2 415.9 503.2 415.9 387.2 419.0 380.3 424.0 372.9 430.0 366.9 431.0 366.6 444.0 372.7 459.0 364.4 469.5 354.2 475.0 346.0 479.6 336.2 485.0 331.5 500.0 331.3 507.0 319.0 517.0 311.3 523.0 304.2 527.8 295.2 531.5 284.2 535.0 281.7 542.9 267.2Z" fill="#a15d86"/>
<path d="M87.0 53.2 569.0 53.2 569.0 80.6 542.0 80.7 519.0 84.8 511.0 88.1 508.7 92.2 507.6 99.2 507.0 132.6 505.8 95.2 504.0 89.2 500.0 86.0 444.0 85.3 430.0 89.5 397.0 87.6 356.0 91.2 323.0 98.8 264.0 93.4 245.0 93.0 233.0 90.7 219.0 90.7 196.0 87.9 155.0 94.2 133.0 91.2 114.0 92.8 93.0 90.8 86.0 91.1 86.0 53.2ZM543.0 344.2 569.0 344.2 569.0 503.2 512.0 503.2 512.0 439.2 534.0 419.5 537.6 396.2 543.0 344.2Z" fill="#aa5f82"/>
<path d="M87.0 53.2 569.0 53.2 569.0 79.9 543.0 79.9 525.0 82.7 513.0 85.6 510.0 87.6 508.3 90.2 507.0 102.5 505.2 89.2 502.2 86.2 499.0 85.0 444.0 84.4 430.0 88.8 397.0 86.7 356.0 90.2 323.0 97.5 264.0 91.9 245.0 91.7 233.0 89.6 219.0 89.6 196.0 86.4 155.0 92.6 133.0 89.7 114.0 90.6 93.0 88.4 86.0 88.7 86.0 53.2Z" fill="#b4627d"/>
<path d="M87.0 53.2 569.0 53.2 569.0 79.2 543.0 79.2 519.0 83.0 509.9 86.2 507.4 89.2 507.0 92.6 506.5 89.2 505.1 87.2 500.0 84.1 444.0 83.6 430.0 88.1 397.0 85.8 357.0 89.1 323.0 96.2 264.0 90.3 245.0 90.4 233.0 88.4 219.0 88.4 195.0 85.0 154.0 91.1 133.0 88.1 114.0 88.4 93.0 86.0 86.0 86.4 86.0 53.2Z" fill="#bd6578"/>
<path d="M87.0 53.2 569.0 53.2 569.0 78.4 543.0 78.4 526.0 80.8 512.0 83.7 507.0 87.6 504.0 84.7 499.0 83.0 444.0 82.7 430.0 87.4 397.0 84.9 356.0 88.1 323.0 94.9 264.0 88.7 255.0 88.3 245.0 89.1 233.0 87.2 219.0 87.2 195.0 83.5 154.0 89.5 133.0 86.6 113.0 86.1 93.0 83.8 86.0 84.1 86.0 53.2Z" fill="#c76871"/>
<path d="M87.0 53.2 569.0 53.2 569.0 77.7 542.0 77.9 515.0 81.9 509.9 83.2 507.0 85.1 504.0 83.2 499.0 82.1 444.0 81.9 430.0 86.7 397.0 83.9 356.0 87.1 323.0 93.6 264.0 87.1 255.0 86.7 245.0 87.8 233.0 86.0 219.0 86.0 195.0 82.1 154.0 87.9 133.0 85.4 114.0 84.9 93.0 82.4 86.0 82.8 86.0 53.2Z" fill="#d06b6a"/>
<path d="M87.0 53.2 569.0 53.2 569.0 77.0 543.0 77.0 519.0 80.1 507.0 82.6 500.0 81.1 444.0 81.0 430.0 86.0 397.0 83.0 356.0 86.1 323.0 92.3 264.0 85.6 255.0 85.1 245.0 86.5 233.0 84.9 219.0 84.9 195.0 80.7 154.0 86.3 93.0 81.3 86.0 81.6 86.0 53.2Z" fill="#d86e63"/>
<path d="M87.0 53.2 569.0 53.2 569.0 76.3 543.0 76.3 512.0 80.2 444.0 80.1 430.0 85.2 398.0 82.1 393.0 82.3 356.0 85.1 323.0 91.0 264.0 84.0 255.0 83.6 245.0 85.3 233.0 83.7 219.0 83.7 195.0 79.3 154.0 84.8 93.0 80.2 86.0 80.4 86.0 53.2Z" fill="#e1725b"/>
<path d="M87.0 53.2 569.0 53.2 569.0 75.5 543.0 75.5 512.0 79.1 444.0 78.8 430.0 84.2 398.0 81.2 385.0 81.8 351.0 84.6 323.0 89.6 310.0 87.4 264.0 82.6 255.0 82.2 245.0 84.0 233.0 82.5 219.0 82.5 195.0 77.9 154.0 83.2 93.0 79.0 86.0 79.2 86.0 53.2Z" fill="#e87953"/>
<path d="M87.0 53.2 569.0 53.2 569.0 74.6 543.0 74.6 512.0 78.0 444.0 77.5 430.0 83.1 397.0 79.9 357.0 82.6 323.0 88.2 310.0 85.8 264.0 81.2 255.0 80.8 245.0 82.7 233.0 81.3 219.0 81.3 208.0 78.5 195.0 76.5 154.0 81.7 86.0 78.0 86.0 53.2Z" fill="#ef7f4c"/>
<path d="M87.0 53.2 569.0 53.2 569.0 73.7 543.0 73.7 512.0 76.9 444.0 76.2 430.0 82.0 397.0 78.4 356.0 81.2 323.0 86.6 310.0 84.2 264.0 79.7 255.0 79.4 245.0 81.3 233.0 80.1 219.0 80.1 208.0 77.0 195.0 75.1 155.0 80.1 133.0 79.4 86.0 76.8 86.0 53.2Z" fill="#f38846"/>
<path d="M87.0 53.2 569.0 53.2 569.0 72.9 543.0 72.9 512.0 75.8 444.0 74.9 430.0 81.0 397.0 76.8 356.0 79.6 323.0 85.0 310.0 82.6 264.0 78.3 255.0 78.0 245.0 79.5 233.0 78.4 219.0 78.4 208.0 75.6 195.0 73.9 155.0 78.3 133.0 78.2 86.0 75.6 86.0 53.2Z" fill="#f69342"/>
<path d="M87.0 53.2 569.0 53.2 569.0 72.0 543.0 72.0 512.0 74.6 444.0 73.5 430.0 79.9 397.0 75.2 356.0 78.0 323.0 83.5 310.0 81.0 265.0 77.0 255.0 76.6 245.0 77.7 219.0 76.6 208.0 74.2 195.0 72.7 155.0 76.6 133.0 76.7 86.0 74.3 86.0 53.2Z" fill="#f99e3e"/>
<path d="M87.0 53.2 569.0 53.2 569.0 71.2 543.0 71.2 512.0 73.5 444.0 72.2 430.0 78.8 397.0 73.7 356.0 76.4 323.0 81.9 310.0 79.4 275.0 76.1 219.0 74.9 196.0 71.5 155.0 74.8 133.0 75.0 86.0 72.7 86.0 53.2Z" fill="#f9aa3e"/>
<path d="M87.0 53.2 569.0 53.2 569.0 70.3 543.0 70.3 512.0 72.4 485.0 72.4 444.0 70.9 430.0 77.7 397.0 72.1 356.0 74.9 323.0 80.3 310.0 77.8 275.0 74.6 219.0 73.1 196.0 70.3 155.0 73.0 134.0 73.3 86.0 71.2 86.0 53.2Z" fill="#f8b742"/>
<path d="M87.0 53.2 569.0 53.2 569.0 69.5 543.0 69.5 512.0 71.3 485.0 71.3 444.0 69.6 430.0 76.7 397.0 70.5 356.0 73.3 323.0 78.7 310.0 76.2 275.0 73.1 219.0 71.3 196.0 69.1 133.0 71.6 86.0 69.6 86.0 53.2Z" fill="#f6c446"/>
<path d="M87.0 53.2 569.0 53.2 569.0 68.6 485.0 70.2 444.0 68.2 430.0 75.6 397.0 69.0 356.0 71.7 323.0 77.2 310.0 74.6 275.0 71.5 219.0 69.5 196.0 67.9 133.0 69.9 114.0 69.8 86.0 68.1 86.0 53.2Z" fill="#f3d24b"/>
<path d="M87.0 53.2 569.0 53.2 569.0 67.7 485.0 69.1 444.0 66.9 439.0 68.4 435.0 72.2 430.0 74.5 417.6 72.2 409.0 69.0 397.0 67.4 354.0 70.3 323.0 75.6 304.0 72.4 233.0 67.8 195.0 66.6 114.0 68.4 86.0 66.6 86.0 53.2Z" fill="#efe251"/>
<path d="M87.0 53.2 569.0 53.2 569.0 66.9 485.0 68.0 444.0 65.6 436.0 67.5 432.8 72.2 430.0 73.4 424.1 72.2 421.0 69.6 416.0 67.8 397.0 65.8 345.0 69.3 323.0 74.0 311.0 71.5 289.0 69.4 255.0 68.3 233.0 66.0 195.0 65.4 114.0 67.0 93.0 65.7 86.0 65.0 86.0 53.2Z" fill="#e8fa5b"/>
<path d="M88.8 149.6 92.9 144.1 97.0 159.2 101.2 159.2 102.6 146.8 110.8 144.1 121.9 135.8 126.0 130.3M166.0 127.5 168.8 123.4 177.1 117.8 182.6 124.7 196.4 126.1 201.9 119.2 207.4 120.6 215.7 117.8 229.5 119.2 240.5 115.1 251.6 113.7 257.1 109.6 265.4 110.9 273.6 108.2 284.7 106.8 295.7 108.2 306.8 106.8 320.5 108.2 334.3 106.8 348.1 106.8 361.9 108.2 375.7 106.8 389.5 105.4 403.3 101.3 416.0 98.5M102.6 102.7 108.1 108.2 113.6 110.9 119.1 105.4 127.4 101.3 132.9 109.6 141.2 106.8 155.0 102.7 168.8 97.2 177.1 94.4 190.9 97.2 199.1 91.6 207.4 94.4 218.5 91.6 229.5 94.4 240.5 93.0 251.6 94.4 262.6 93.0 279.2 94.4 295.7 97.2 306.8 95.8 320.5 98.5 334.3 97.2 348.1 98.5 361.9 99.9 375.7 98.5 389.5 99.9 403.3 98.5 416.0 95.8M232.2 185.5 236.4 174.4 246.0 163.4 248.8 149.6 251.6 141.3 259.8 130.3 268.1 124.7 279.2 122.0 295.7 120.6 306.8 119.2 320.5 117.8 334.3 116.5 348.1 117.8 361.9 115.1 375.7 113.7 389.5 112.3 403.3 108.2 416.0 105.4M257.7 167.2 274.1 146.8 287.7 130.4 300.0 124.7M264.5 189.0 280.9 167.2 298.6 148.1 300.0 149.5M132.9 243.4 135.7 233.7 139.8 240.6 143.9 243.4 150.8 244.8 157.7 237.9 163.3 224.1 168.8 213.0 174.3 208.9 178.4 207.5M139.8 273.8 146.7 272.4 149.5 277.9 155.0 271.0 166.0 262.7 174.3 251.7 177.1 254.4 182.6 257.2 189.5 265.5 193.6 251.7 196.4 246.2 204.7 246.2 212.9 240.6 218.5 232.4 226.7 225.5M171.5 288.9 174.3 297.2 188.1 304.1 196.4 295.8 204.7 290.3 208.8 282.0 215.7 273.8 229.5 262.7 235.0 251.7 243.3 246.2 248.8 235.1 251.6 224.1M145.3 342.7 149.5 351.0 155.0 359.3 159.1 359.3 163.3 345.5 168.8 340.0 174.3 342.7 179.8 345.5 185.3 340.0 188.1 345.5 196.4 337.2 204.7 334.5 215.7 331.7 224.0 328.9 226.7 317.9 232.2 301.3 236.4 290.3 240.5 282.0 246.0 271.0 251.6 251.7 257.1 237.9 262.6 231.0 272.3 231.0M148.1 375.8 152.2 389.6 160.5 386.9 168.8 378.6 174.3 386.9 182.6 389.6 190.9 378.6 195.0 375.8 201.9 386.9 208.8 392.4 215.7 389.6 221.2 386.9 226.7 381.4 229.5 375.8 235.0 370.3 240.5 362.1 248.8 351.0 254.3 340.0 259.8 328.9 265.4 312.4 276.4 301.3 284.7 290.3 290.2 279.3 299.9 266.9M290.2 420.0 295.7 411.7 301.2 400.7 304.0 403.4M156.4 444.8 160.5 450.4 166.0 453.1M300.0 124.7 311.0 123.3 327.6 116.4 341.4 110.9 355.2 108.2 368.9 112.3 382.7 108.2 396.5 104.0 404.8 97.1 415.8 94.4 424.1 102.6 437.9 101.3 454.4 98.5 465.5 98.5 479.3 97.1 493.1 94.4 504.1 91.6 520.6 88.9 534.4 84.7 541.3 80.6M300.0 149.5 308.3 146.8 316.5 134.4 335.9 127.5 344.1 124.7 355.2 127.5 363.4 135.7 371.7 128.8 382.7 126.1 393.8 127.5 404.8 133.0 413.1 120.6 424.1 127.5 432.4 135.7 443.4 123.3 454.4 121.9 465.5 124.7 479.3 121.9 493.1 121.9 498.6 116.4 509.6 110.9 520.6 112.3 531.7 102.6 541.3 91.6M306.9 190.9 316.5 171.6 333.1 168.8 341.4 168.8 355.2 163.3 366.2 157.8 380.0 156.4 385.5 164.7 396.5 160.6 410.3 159.2 413.1 150.9 421.3 161.9 432.4 168.8 440.7 157.8 448.9 141.3 460.0 155.0 471.0 152.3 482.0 148.1 493.1 149.5 504.1 135.7 512.4 127.5 520.6 134.4 531.7 124.7 541.3 121.9M300.0 265.4 311.0 246.1 322.1 237.8 333.1 218.5 346.9 228.1 357.9 226.7 368.9 210.2 374.5 218.5M407.6 215.7 410.3 203.3 415.8 210.2 422.7 224.0 432.4 207.4 443.4 182.6 448.9 175.7 460.0 179.9 471.0 182.6 482.0 193.7 493.1 196.4 504.1 188.1 512.4 190.9 520.6 182.6 531.7 171.6 539.9 157.8M327.6 345.3 335.9 350.8 341.4 353.6 349.6 359.1 357.9 342.6 368.9 334.3 374.5 342.6 378.6 342.6 378.6 383.9M393.8 342.6 395.1 326.0 399.3 327.4 404.8 339.8 410.3 328.8 415.8 328.8 426.9 328.8 435.1 306.7 443.4 292.9 448.9 279.1 454.4 279.1 457.2 287.4M484.8 312.2 490.3 309.5 495.8 320.5 504.1 301.2 512.4 290.2 517.9 297.1 526.1 294.3 531.7 273.6 537.2 273.6 541.3 276.4M88.6 59.9 91.6 61.1 94.6 61.1 97.6 62.7 100.6 62.2 103.6 61.7 106.6 59.2 109.6 60.8 112.6 60.9 115.6 61.1 118.6 62.0 121.6 61.6 124.6 62.4 127.6 63.1 130.6 62.5 133.6 62.5 136.6 62.7 139.6 61.8 142.6 61.2 145.6 62.2 148.6 61.7 151.6 60.4 154.6 60.2 157.6 59.9 160.6 59.8 163.6 59.8 166.6 60.0 169.6 60.0 172.6 60.5 175.6 60.9 178.6 60.7 181.6 62.2 184.6 59.6 187.6 59.8 190.6 61.4 193.7 62.5 196.7 63.6 199.7 61.2 202.7 61.6 205.7 61.2 208.7 61.3 211.7 62.0 214.7 62.3 217.7 61.2 220.7 61.0 223.7 60.4 226.7 60.5 229.7 61.0 232.7 61.4 235.7 63.7 238.7 63.4 241.7 65.2 244.7 63.8 247.7 65.8 250.7 64.5 253.7 63.0 256.7 63.3 259.7 63.8 262.7 63.4 265.7 61.7 268.7 63.3 271.7 61.0 274.7 61.9 277.7 62.3 280.7 62.2 283.7 60.4 286.7 62.2 289.7 62.3 292.7 60.1 295.7 60.5 298.7 61.5 301.7 60.0 304.7 60.7 307.7 61.1 310.7 62.0 313.7 61.5 316.7 62.6 319.7 60.1 322.7 62.1 325.7 61.9 328.8 62.8 331.8 64.0 334.8 62.1 337.8 64.7 340.8 64.6 343.8 62.1 346.8 63.2 349.8 62.2 352.8 62.4 355.8 62.2 358.8 62.7 361.8 62.4 364.8 59.8 367.8 61.2 370.8 61.1 373.8 62.5 376.8 63.4 379.8 64.7 382.8 64.2 385.8 62.5 388.8 63.3 391.8 62.6 394.8 62.1 397.8 61.8 400.8 62.9 403.8 62.0 406.8 61.0 409.8 61.1 412.8 60.6 415.8 60.0 418.8 62.4 421.8 62.7 424.8 61.9 427.8 59.8 430.8 59.8 433.8 60.4 436.8 59.7 439.8 60.8 442.8 60.8 445.8 61.0 448.8 61.7 451.8 61.9 454.8 62.8 457.8 63.0 460.8 64.2 463.9 64.1 466.9 63.0 469.9 61.5 472.9 61.7 475.9 63.6 478.9 63.1 481.9 61.9 484.9 63.2 487.9 63.0 490.9 63.9 493.9 63.7 496.9 62.4 499.9 63.7 502.9 62.6 505.9 61.0 508.9 61.9 511.9 59.6 514.9 60.1 517.9 60.5 520.9 60.5 523.9 59.9 526.9 60.8 529.9 60.3 532.9 59.3 535.9 58.4 538.9 59.8M88.6 64.1 91.6 65.3 94.6 66.6 97.6 65.8 100.6 66.2 103.6 64.7 106.6 65.0 109.6 65.0 112.6 64.0 115.6 65.4 118.6 66.0 121.6 67.6 124.6 68.4 127.6 68.5 130.6 69.0 133.6 66.7 136.6 67.3 139.6 66.2 142.6 66.9 145.6 66.2 148.6 66.4 151.6 63.3 154.6 65.4 157.6 66.0 160.6 63.7 163.6 63.0 166.6 65.0 169.6 65.4 172.6 64.5 175.6 65.0 178.6 64.9 181.6 66.1 184.6 65.3 187.6 65.1 190.6 64.6 193.7 66.1 196.7 67.0 199.7 65.8 202.7 64.3 205.7 64.7 208.7 67.5 211.7 65.9 214.7 66.7 217.7 64.7 220.7 65.9 223.7 65.9 226.7 65.7 229.7 66.3 232.7 67.0 235.7 68.8 238.7 69.7 241.7 69.0 244.7 69.0 247.7 70.6 250.7 70.0 253.7 66.9 256.7 67.1 259.7 68.3 262.7 67.5 265.7 67.1 268.7 67.0 271.7 66.4 274.7 66.6 277.7 66.1 280.7 67.0 283.7 65.8 286.7 65.2 289.7 67.0 292.7 64.4 295.7 66.1 298.7 65.1 301.7 63.7 304.7 63.7 307.7 64.8 310.7 67.2 313.7 65.6 316.7 65.7 319.7 64.7 322.7 65.5 325.7 65.9 328.8 65.9 331.8 69.0 334.8 67.8 337.8 69.5 340.8 68.6 343.8 68.3 346.8 69.1 349.8 67.4 352.8 66.8 355.8 67.4 358.8 68.1 361.8 66.0 364.8 65.5 367.8 67.6 370.8 66.2 373.8 67.4 376.8 68.6 379.8 68.9 382.8 68.5 385.8 68.9 388.8 68.7 391.8 67.1 394.8 66.4 397.8 66.1 400.8 66.5 403.8 66.7 406.8 66.3 409.8 67.0 412.8 64.8 415.8 65.8 418.8 66.4 421.8 66.6 424.8 67.1 427.8 64.0 430.8 63.8 433.8 65.6 436.8 63.1 439.8 64.1 442.8 65.5 445.8 64.9 448.8 64.9 451.8 66.2 454.8 67.6 457.8 67.6 460.8 67.9 463.9 69.2 466.9 68.2 469.9 65.7 472.9 66.8 475.9 67.4 478.9 66.8 481.9 67.7 484.9 67.2 487.9 68.6 490.9 68.6 493.9 66.6 496.9 68.1 499.9 67.2 502.9 67.1 505.9 66.4 508.9 66.0 511.9 64.9 514.9 64.0 517.9 65.1 520.9 63.5 523.9 64.1 526.9 65.9 529.9 64.5 532.9 63.5 535.9 62.6 538.9 63.9M88.6 69.3 91.6 71.0 94.6 71.0 97.6 71.5 100.6 71.1 103.6 70.3 106.6 68.8 109.6 69.5 112.6 70.3 115.6 69.4 118.6 70.7 121.6 72.4 124.6 72.2 127.6 72.3 130.6 73.4 133.6 71.4 136.6 71.5 139.6 72.2 142.6 70.8 145.6 70.4 148.6 69.8 151.6 67.5 154.6 69.8 157.6 70.1 160.6 69.0 163.6 68.1 166.6 69.0 169.6 68.6 172.6 69.3 175.6 70.9 178.6 69.0 181.6 70.4 184.6 68.6 187.6 70.3 190.6 69.0 193.7 70.6 196.7 71.9 199.7 70.6 202.7 70.1 205.7 68.8 208.7 71.8 211.7 69.9 214.7 70.4 217.7 69.1 220.7 69.2 223.7 70.4 226.7 70.3 229.7 70.2 232.7 71.1 235.7 73.3 238.7 74.4 241.7 75.5 244.7 75.5 247.7 75.4 250.7 73.4 253.7 71.3 256.7 71.3 259.7 72.7 262.7 73.2 265.7 71.7 268.7 71.9 271.7 71.4 274.7 70.8 277.7 71.9 280.7 71.9 283.7 70.0 286.7 69.8 289.7 71.1 292.7 68.9 295.7 69.9 298.7 70.2 301.7 68.7 304.7 68.0 307.7 70.9 310.7 71.8 313.7 70.4 316.7 71.3 319.7 68.2 322.7 70.8 325.7 70.0 328.8 71.1 331.8 72.7 334.8 72.4 337.8 73.6 340.8 73.5 343.8 71.3 346.8 73.2 349.8 72.2 352.8 71.2 355.8 71.6 358.8 72.9 361.8 71.5 364.8 68.6 367.8 71.7 370.8 70.9 373.8 71.7 376.8 73.7 379.8 72.6 382.8 72.0 385.8 72.8 388.8 73.6 391.8 71.9 394.8 72.3 397.8 71.5 400.8 70.9 403.8 71.5 406.8 70.2 409.8 71.4 412.8 70.0 415.8 69.8 418.8 71.0 421.8 71.9 424.8 72.0 427.8 69.9 430.8 68.8 433.8 69.7 436.8 67.6 439.8 67.8 442.8 68.7 445.8 67.8 448.8 69.6 451.8 70.3 454.8 72.4 457.8 72.7 460.8 73.3 463.9 73.7 466.9 72.1 469.9 69.9 472.9 71.2 475.9 73.4 478.9 71.7 481.9 71.3 484.9 73.5 487.9 72.9 490.9 72.1 493.9 71.8 496.9 71.8 499.9 72.2 502.9 70.4 505.9 69.2 508.9 70.2 511.9 69.4 514.9 67.2 517.9 68.8 520.9 67.7 523.9 67.2 526.9 68.7 529.9 68.3 532.9 66.9 535.9 66.6 538.9 67.4M88.6 73.4 91.6 75.1 94.6 74.4 97.6 75.1 100.6 76.4 103.6 74.4 106.6 73.3 109.6 73.8 112.6 73.7 115.6 73.2 118.6 75.2 121.6 77.2 124.6 77.2 127.6 76.7 130.6 77.7 133.6 75.2 136.6 76.3 139.6 76.3 142.6 74.8 145.6 74.5 148.6 75.6 151.6 72.2 154.6 74.3 157.6 74.0 160.6 74.2 163.6 71.4 166.6 73.2 169.6 73.0 172.6 74.6 175.6 74.9 178.6 74.1 181.6 74.1 184.6 73.9 187.6 75.2 190.6 74.0 193.7 74.5 196.7 75.9 199.7 74.3 202.7 73.4 205.7 72.6 208.7 74.9 211.7 75.6 214.7 76.3 217.7 73.8 220.7 75.5 223.7 74.3 226.7 74.9 229.7 76.3 232.7 77.3 235.7 77.4 238.7 78.5 241.7 80.1 244.7 81.0 247.7 79.6 250.7 78.8 253.7 77.0 256.7 75.9 259.7 77.2 262.7 77.6 265.7 77.5 268.7 78.1 271.7 74.8 274.7 76.9 277.7 76.5 280.7 76.3 283.7 73.4 286.7 75.2 289.7 75.2 292.7 72.8 295.7 73.4 298.7 74.0 301.7 72.4 304.7 72.1 307.7 73.8 310.7 76.8 313.7 74.8 316.7 75.7 319.7 73.3 322.7 74.6 325.7 73.3 328.8 76.1 331.8 76.4 334.8 77.0 337.8 79.6 340.8 78.5 343.8 76.0 346.8 77.4 349.8 77.2 352.8 76.2 355.8 76.7 358.8 77.3 361.8 75.0 364.8 74.4 367.8 76.1 370.8 74.8 373.8 77.1 376.8 77.9 379.8 77.7 382.8 78.5 385.8 76.6 388.8 77.5 391.8 76.1 394.8 75.2 397.8 75.8 400.8 75.7 403.8 74.2 406.8 73.6 409.8 75.3 412.8 74.1 415.8 72.5 418.8 75.3 421.8 76.7 424.8 75.0 427.8 73.5 430.8 72.9 433.8 74.0 436.8 71.9 439.8 73.4 442.8 74.0 445.8 72.3 448.8 74.0 451.8 74.6 454.8 77.7 457.8 76.1 460.8 77.0 463.9 79.7 466.9 75.7 469.9 75.5 472.9 74.9 475.9 77.6 478.9 75.9 481.9 77.3 484.9 77.6 487.9 77.4 490.9 77.5 493.9 77.4 496.9 76.0 499.9 76.9 502.9 75.3 505.9 73.8 508.9 76.0 511.9 73.2 514.9 72.8 517.9 72.6 520.9 72.7 523.9 71.9 526.9 74.2 529.9 72.0 532.9 71.5 535.9 71.8 538.9 71.7M88.6 78.6 91.6 80.2 94.6 79.7 97.6 81.0 100.6 81.5 103.6 78.5 106.6 76.9 109.6 80.2 112.6 78.0 115.6 77.7 118.6 80.0 121.6 80.4 124.6 82.0 127.6 83.3 130.6 83.1 133.6 81.3 136.6 81.7 139.6 81.6 142.6 81.1 145.6 80.1 148.6 79.5 151.6 77.9 154.6 79.0 157.6 79.4 160.6 77.6 163.6 76.6 166.6 78.0 169.6 78.9 172.6 79.3 175.6 78.8 178.6 79.8 181.6 78.9 184.6 77.1 187.6 79.2 190.6 77.8 193.7 80.2 196.7 81.9 199.7 78.7 202.7 79.0 205.7 77.5 208.7 80.3 211.7 79.5 214.7 80.6 217.7 79.4 220.7 78.6 223.7 78.0 226.7 78.4 229.7 79.9 232.7 80.3 235.7 82.6 238.7 84.4 241.7 85.4 244.7 86.2 247.7 86.6 250.7 85.0 253.7 80.7 256.7 80.8 259.7 81.9 262.7 82.7 265.7 82.0 268.7 82.1 271.7 79.8 274.7 81.9 277.7 80.2 280.7 80.0 283.7 78.3 286.7 79.3 289.7 79.5 292.7 76.6 295.7 78.9 298.7 76.7 301.7 75.8 304.7 76.7 307.7 79.0 310.7 80.3 313.7 78.0 316.7 79.1 319.7 78.3 322.7 79.0 325.7 79.3 328.8 80.7 331.8 83.0 334.8 80.8 337.8 83.3 340.8 81.9 343.8 81.3 346.8 82.3 349.8 80.1 352.8 80.5 355.8 79.7 358.8 80.7 361.8 79.0 364.8 78.5 367.8 79.9 370.8 79.1 373.8 81.1 376.8 83.5 379.8 82.9 382.8 82.6 385.8 82.9 388.8 82.7 391.8 81.0 394.8 79.9 397.8 80.5 400.8 81.4 403.8 79.6 406.8 79.3 409.8 79.5 412.8 77.7 415.8 77.1 418.8 79.4 421.8 80.5 424.8 80.9 427.8 78.4 430.8 77.2 433.8 78.0 436.8 76.6 439.8 77.6 442.8 78.4 445.8 76.9 448.8 79.0 451.8 79.3 454.8 81.0 457.8 81.9 460.8 83.8 463.9 83.6 466.9 80.7 469.9 78.8 472.9 80.2 475.9 83.0 478.9 80.9 481.9 82.1 484.9 81.4 487.9 81.3 490.9 81.7 493.9 81.1 496.9 81.6 499.9 81.9 502.9 80.8 505.9 79.2 508.9 78.8 511.9 77.3 514.9 76.5 517.9 77.6 520.9 76.5 523.9 76.7 526.9 79.0 529.9 76.3 532.9 76.4 535.9 75.7 538.9 76.8M88.6 84.4 91.6 85.9 94.6 85.4 97.6 85.4 100.6 87.5 103.6 83.6 106.6 81.9 109.6 85.1 112.6 83.1 115.6 82.4 118.6 87.1 121.6 87.2 124.6 87.8 127.6 87.6 130.6 87.7 133.6 85.1 136.6 85.5 139.6 87.8 142.6 84.6 145.6 84.8 148.6 84.3 151.6 81.1 154.6 83.3 157.6 84.1 160.6 83.4 163.6 81.1 166.6 83.9 169.6 81.9 172.6 83.1 175.6 85.3 178.6 83.2 181.6 84.3 184.6 82.9 187.6 83.4 190.6 83.4 193.7 84.5 196.7 86.5 199.7 85.8 202.7 82.8 205.7 83.8 208.7 85.1 211.7 86.1 214.7 85.7 217.7 84.3 220.7 83.4 223.7 83.0 226.7 84.5 229.7 84.6 232.7 85.9 235.7 89.6 238.7 90.2 241.7 89.8 244.7 91.9 247.7 91.5 250.7 89.6 253.7 85.5 256.7 86.6 259.7 88.8 262.7 87.9 265.7 86.6 268.7 86.8 271.7 84.6 274.7 86.2 277.7 86.8 280.7 84.3 283.7 81.7 286.7 84.6 289.7 86.1 292.7 83.0 295.7 82.7 298.7 82.3 301.7 82.3 304.7 81.4 307.7 84.3 310.7 85.8 313.7 83.0 316.7 84.5 319.7 83.2 322.7 84.6 325.7 83.4 328.8 85.2 331.8 87.4 334.8 86.9 337.8 89.5 340.8 89.0 343.8 86.1 346.8 88.2 349.8 87.2 352.8 86.3 355.8 85.0 358.8 87.3 361.8 85.3 364.8 82.1 367.8 84.7 370.8 84.0 373.8 86.4 376.8 90.1 379.8 87.9 382.8 88.4 385.8 86.6 388.8 86.4 391.8 87.5 394.8 86.4 397.8 86.1 400.8 86.4 403.8 84.7 406.8 84.2 409.8 83.6 412.8 83.2 415.8 82.6 418.8 84.8 421.8 85.6 424.8 84.8 427.8 82.5 430.8 81.9 433.8 82.2 436.8 80.1 439.8 82.0 442.8 84.1 445.8 82.8 448.8 84.8 451.8 85.8 454.8 86.5 457.8 87.8 460.8 87.7 463.9 88.2 466.9 86.1 469.9 84.6 472.9 85.1 475.9 88.0 478.9 85.8 481.9 87.4 484.9 87.3 487.9 87.0 490.9 87.0 493.9 87.3 496.9 87.1 499.9 86.5 502.9 84.9 505.9 84.2 508.9 83.9 511.9 81.8 514.9 82.0 517.9 83.2 520.9 81.0 523.9 81.8 526.9 83.0 529.9 83.1 532.9 80.6 535.9 80.3 538.9 81.8M88.6 90.1 91.6 90.7 94.6 91.7 97.6 92.5 100.6 92.3 103.6 89.6 106.6 87.8 109.6 90.0 112.6 88.9 115.6 88.8 118.6 92.9 121.6 92.5 124.6 93.6 127.6 93.4 130.6 94.1 133.6 92.1 136.6 91.3 139.6 92.0 142.6 91.0 145.6 90.8 148.6 89.8 151.6 87.6 154.6 89.8 157.6 89.4 160.6 88.8 163.6 87.0 166.6 89.6 169.6 89.4 172.6 89.1 175.6 90.6 178.6 89.1 181.6 91.4 184.6 88.4 187.6 89.6 190.6 89.8 193.7 90.9 196.7 92.5 199.7 91.4 202.7 89.5 205.7 87.8 208.7 90.7 211.7 90.6 214.7 90.2 217.7 90.5 220.7 89.3 223.7 89.2 226.7 89.5 229.7 91.2 232.7 92.4 235.7 95.4 238.7 96.1 241.7 97.0 244.7 96.6 247.7 98.8 250.7 96.6 253.7 91.4 256.7 92.8 259.7 94.4 262.7 95.5 265.7 92.6 268.7 92.6 271.7 91.2 274.7 92.4 277.7 92.7 280.7 91.6 283.7 87.5 286.7 89.2 289.7 91.0 292.7 88.2 295.7 88.2 298.7 87.9 301.7 85.9 304.7 87.2 307.7 88.6 310.7 92.9 313.7 89.7 316.7 90.7 319.7 87.4 322.7 89.2 325.7 88.8 328.8 91.8 331.8 93.4 334.8 92.5 337.8 96.6 340.8 94.7 343.8 92.7 346.8 93.5 349.8 91.7 352.8 92.2 355.8 90.7 358.8 92.3 361.8 90.5 364.8 88.0 367.8 91.5 370.8 91.2 373.8 94.0 376.8 95.7 379.8 93.5 382.8 92.7 385.8 93.2 388.8 93.0 391.8 92.1 394.8 92.4 397.8 90.3 400.8 92.5 403.8 91.3 406.8 88.5 409.8 91.0 412.8 88.5 415.8 87.6 418.8 90.7 421.8 90.2 424.8 91.0 427.8 87.7 430.8 88.4 433.8 88.8 436.8 84.8 439.8 87.0 442.8 88.5 445.8 86.7 448.8 89.2 451.8 90.4 454.8 93.3 457.8 92.4 460.8 93.4 463.9 94.6 466.9 91.9 469.9 89.9 472.9 90.7 475.9 94.1 478.9 91.5 481.9 92.7 484.9 93.6 487.9 92.3 490.9 93.4 493.9 92.2 496.9 92.0 499.9 92.6 502.9 91.0 505.9 89.5 508.9 89.6 511.9 88.1 514.9 87.5 517.9 88.3 520.9 87.6 523.9 86.1 526.9 89.8 529.9 88.1 532.9 85.8 535.9 87.0 538.9 88.3M88.6 94.8 91.6 97.7 94.6 96.8 97.6 97.3 100.6 99.1 103.6 95.5 106.6 93.8 109.6 96.2 112.6 94.1 115.6 94.3 118.6 98.8 121.6 98.2 124.6 100.6 127.6 100.9 130.6 100.4 133.6 97.7 136.6 98.1 139.6 99.5 142.6 96.7 145.6 96.3 148.6 97.1 151.6 93.2 154.6 94.2 157.6 95.9 160.6 94.8 163.6 91.9 166.6 95.7 169.6 95.0 172.6 95.5 175.6 95.6 178.6 94.6 181.6 96.8 184.6 94.8 187.6 95.1 190.6 94.6 193.7 97.4 196.7 98.7 199.7 97.0 202.7 95.2 205.7 94.1 208.7 96.8 211.7 96.9 214.7 96.7 217.7 96.0 220.7 95.0 223.7 95.2 226.7 94.8 229.7 96.9 232.7 98.7 235.7 100.5 238.7 101.1 241.7 103.5 244.7 103.2 247.7 104.3 250.7 101.8 253.7 97.4 256.7 99.0 259.7 100.9 262.7 101.4 265.7 99.6 268.7 99.5 271.7 96.3 274.7 98.1 277.7 97.5 280.7 97.6 283.7 92.6 286.7 95.9 289.7 96.5 292.7 92.8 295.7 93.9 298.7 94.6 301.7 91.5 304.7 92.5 307.7 95.2 310.7 97.3 313.7 94.7 316.7 97.3 319.7 94.4 322.7 95.9 325.7 95.3 328.8 96.0 331.8 99.7 334.8 99.4 337.8 101.2 340.8 100.4 343.8 99.5 346.8 99.8 349.8 98.6 352.8 96.5 355.8 97.6 358.8 97.6 361.8 96.0 364.8 93.6 367.8 97.5 370.8 96.6 373.8 99.3 376.8 101.7 379.8 100.0 382.8 100.2 385.8 98.8 388.8 99.4 391.8 98.8 394.8 97.2 397.8 95.7 400.8 97.0 403.8 96.4 406.8 94.3 409.8 96.4 412.8 94.3 415.8 94.7 418.8 97.8 421.8 97.4 424.8 96.5 427.8 92.6 430.8 93.2 433.8 94.1 436.8 91.9 439.8 92.1 442.8 93.6 445.8 93.8 448.8 95.8 451.8 96.6 454.8 99.3 457.8 97.9 460.8 100.3 463.9 101.6 466.9 98.1 469.9 94.8 472.9 96.2 475.9 99.9 478.9 98.8 481.9 97.4 484.9 98.3 487.9 98.0 490.9 99.4 493.9 98.0 496.9 97.7 499.9 99.3 502.9 96.7 505.9 94.8 508.9 96.7 511.9 91.9 514.9 91.9 517.9 94.3 520.9 92.3 523.9 91.2 526.9 94.7 529.9 93.0 532.9 92.8 535.9 91.0 538.9 93.5" fill="none" stroke="#d3d3d3" stroke-width="1.8" stroke-linejoin="round"/>
</g>
<g clip-path="url(#axA)" font-size="16.67" fill="#d3d3d3" text-anchor="middle">
<text x="147.5" y="142.6" transform="rotate(6 147.5 136.5)">26.00</text>
<text x="196.4" y="200.6" transform="rotate(3 196.4 194.5)">26.25</text>
<text x="247.4" y="211.6" transform="rotate(40 247.4 205.5)">26.50</text>
<text x="287.4" y="217.1" transform="rotate(25 287.4 211)">27.00</text>
<text x="152.2" y="311.1" transform="rotate(0 152.2 305)">26.75</text>
<text x="393.8" y="233.6" transform="rotate(12 393.8 227.5)">27.25</text>
<text x="471" y="302.1" transform="rotate(-35 471 296)">27.50</text>
<text x="314.5" y="382.1" transform="rotate(50 314.5 376)">27.50</text>
<text x="93" y="130.1" transform="rotate(15 93 124)">25.75</text>
<text x="100" y="66.1" transform="rotate(0 100 60)">24.00</text>
<text x="525" y="68.1" transform="rotate(0 525 62)">24.75</text>
</g>
<rect x="86.00" y="53.20" width="482.50" height="449.30" fill="none" stroke="#000" stroke-width="1.33"/>
<text x="86.00" y="526.5" font-size="16.9" text-anchor="middle">0</text>
<text x="139.61" y="526.5" font-size="16.9" text-anchor="middle">25</text>
<text x="193.22" y="526.5" font-size="16.9" text-anchor="middle">50</text>
<text x="246.83" y="526.5" font-size="16.9" text-anchor="middle">75</text>
<text x="300.44" y="526.5" font-size="16.9" text-anchor="middle">100</text>
<text x="354.06" y="526.5" font-size="16.9" text-anchor="middle">125</text>
<text x="407.67" y="526.5" font-size="16.9" text-anchor="middle">150</text>
<text x="461.28" y="526.5" font-size="16.9" text-anchor="middle">175</text>
<text x="514.89" y="526.5" font-size="16.9" text-anchor="middle">200</text>
<text x="568.50" y="526.5" font-size="16.9" text-anchor="middle">225</text>
<text x="74.33" y="59.3" font-size="16.9" text-anchor="end">0</text>
<text x="74.33" y="123.5" font-size="16.9" text-anchor="end">50</text>
<text x="74.33" y="187.6" font-size="16.9" text-anchor="end">100</text>
<text x="74.33" y="251.8" font-size="16.9" text-anchor="end">150</text>
<text x="74.33" y="316.0" font-size="16.9" text-anchor="end">200</text>
<text x="74.33" y="380.2" font-size="16.9" text-anchor="end">250</text>
<text x="74.33" y="444.4" font-size="16.9" text-anchor="end">300</text>
<text x="74.33" y="508.6" font-size="16.9" text-anchor="end">350</text>
<path d="M86.00 502.50v5.83 M139.61 502.50v5.83 M193.22 502.50v5.83 M246.83 502.50v5.83 M300.44 502.50v5.83 M354.06 502.50v5.83 M407.67 502.50v5.83 M461.28 502.50v5.83 M514.89 502.50v5.83 M568.50 502.50v5.83 M86.00 53.20h-5.83 M86.00 117.39h-5.83 M86.00 181.57h-5.83 M86.00 245.76h-5.83 M86.00 309.94h-5.83 M86.00 374.13h-5.83 M86.00 438.31h-5.83 M86.00 502.50h-5.83" stroke="#000" stroke-width="1.33" fill="none"/>
<text x="327.2" y="549.5" font-size="16.95" font-weight="bold" text-anchor="middle">Along-transect distance (km)</text>
<text transform="translate(31.0,277.9) rotate(-90)" font-size="16.95" font-weight="bold" text-anchor="middle">Depth (m)</text>
<text x="327.2" y="42.7" font-size="20.55" text-anchor="middle">Conservative Temperature (<tspan font-size="14.3" dy="-7.5" dx="0.6">∘</tspan><tspan dy="7.5" dx="0.9">C)</tspan></text>
<text x="-1.5" y="24.1" font-size="28.5" font-weight="bold">A</text>
<rect x="598.60" y="53.20" width="22.70" height="449.30" fill="url(#gA)" stroke="#000" stroke-width="1.33"/>
<text x="632.97" y="508.6" font-size="16.9">−2</text>
<text x="632.97" y="433.7" font-size="16.9">0</text>
<text x="632.97" y="358.8" font-size="16.9">2</text>
<text x="632.97" y="283.9" font-size="16.9">4</text>
<text x="632.97" y="209.0" font-size="16.9">6</text>
<text x="632.97" y="134.2" font-size="16.9">8</text>
<text x="632.97" y="59.3" font-size="16.9">10</text>
<path d="M621.30 502.50h5.83 M621.30 427.62h5.83 M621.30 352.73h5.83 M621.30 277.85h5.83 M621.30 202.97h5.83 M621.30 128.08h5.83 M621.30 53.20h5.83" stroke="#000" stroke-width="1.33" fill="none"/>
<g clip-path="url(#clipB)">
<rect x="731.8" y="53.2" width="482.2" height="449.3" fill="#052538"/>
<path d="M732.8 53.2 1214.8 53.2 1214.8 503.2 731.8 503.2 731.8 53.2Z" fill="#082943"/>
<path d="M732.8 53.2 1214.8 53.2 1214.8 503.2 731.8 503.2 731.8 53.2Z" fill="#0c2d51"/>
<path d="M732.8 53.2 1214.8 53.2 1214.8 503.2 731.8 503.2 731.8 53.2Z" fill="#113062"/>
<path d="M732.8 53.2 1214.8 53.2 1214.8 503.2 731.8 503.2 731.8 53.2Z" fill="#183274"/>
<path d="M732.8 53.2 1214.8 53.2 1214.8 503.2 731.8 503.2 731.8 53.2Z" fill="#243389"/>
<path d="M732.8 53.2 1214.8 53.2 1214.8 503.2 731.8 503.2 731.8 53.2Z" fill="#333598"/>
<path d="M732.8 53.2 1214.8 53.2 1214.8 503.2 731.8 503.2 731.8 53.2Z" fill="#4438a0"/>
<path d="M732.8 53.2 1214.8 53.2 1214.8 503.2 731.8 503.2 731.8 53.2Z" fill="#503d9d"/>
<path d="M732.8 53.2 1214.8 53.2 1214.8 503.2 731.8 503.2 731.8 53.2Z" fill="#5b419b"/>
<path d="M732.8 53.2 1214.8 53.2 1214.8 503.2 731.8 503.2 731.8 53.2Z" fill="#644599"/>
<path d="M732.8 53.2 1214.8 53.2 1214.8 503.2 731.8 503.2 731.8 53.2Z" fill="#6d4997"/>
<path d="M732.8 53.2 1214.8 53.2 1214.8 503.2 731.8 503.2 731.8 53.2Z" fill="#754c94"/>
<path d="M732.8 53.2 1214.8 53.2 1214.8 503.2 731.8 503.2 731.8 53.2Z" fill="#7e5092"/>
<path d="M732.8 53.2 1214.8 53.2 1214.8 503.2 731.8 503.2 731.8 53.2Z" fill="#875490"/>
<path d="M732.8 53.2 1214.8 53.2 1214.8 503.2 731.8 503.2 731.8 53.2Z" fill="#8f578d"/>
<path d="M732.8 53.2 1214.8 53.2 1214.8 503.2 731.8 503.2 731.8 53.2Z" fill="#985a89"/>
<path d="M732.8 53.2 1214.8 53.2 1214.8 503.2 731.8 503.2 731.8 160.5 748.8 160.8 752.0 162.2 754.5 165.2 757.8 167.2 772.8 163.2 792.8 162.3 796.2 161.2 800.8 157.8 810.8 156.2 812.4 155.2 815.0 139.2 816.8 135.9 819.8 133.6 827.8 131.9 857.4 130.2 867.4 128.2 845.8 124.6 827.8 124.6 810.8 126.5 797.3 130.2 775.8 133.7 758.8 133.7 753.8 132.1 747.8 126.7 731.8 126.5 731.8 53.2ZM991.2 125.2 941.8 129.3 913.8 129.3 898.8 126.6 881.1 128.2 884.8 131.2 887.0 135.2 889.6 150.2 898.8 152.1 905.2 150.2 908.4 140.2 911.3 137.2 914.8 135.6 937.8 138.8 948.8 143.6 976.8 144.6 979.4 143.2 980.8 135.5 983.1 132.2 987.8 130.6 997.8 129.8 998.8 128.3 997.8 124.6 991.8 125.1Z" fill="#a15d86"/>
<path d="M732.8 53.2 1214.8 53.2 1214.8 503.2 731.8 503.2 731.8 165.5 747.8 165.7 757.8 171.0 775.8 166.4 792.8 164.9 810.8 158.6 816.5 155.2 822.6 144.2 827.8 139.6 845.8 137.1 855.8 138.8 862.8 141.2 867.8 144.5 872.0 150.2 875.8 151.2 897.8 155.3 909.8 156.1 917.2 158.2 941.8 159.8 946.9 158.2 951.8 153.2 956.8 150.8 977.8 147.2 984.1 143.2 986.8 138.8 989.7 136.2 997.8 133.2 1000.0 128.2 997.8 117.6 941.8 120.4 914.8 120.4 897.8 118.8 871.8 120.2 845.8 117.6 827.8 117.6 809.8 118.9 774.8 124.3 758.8 124.3 747.8 118.9 731.8 118.8 731.8 53.2Z" fill="#aa5f82"/>
<path d="M732.8 53.2 1214.8 53.2 1214.8 503.2 731.8 503.2 731.8 170.5 747.8 170.6 757.8 174.8 775.8 170.0 792.8 167.6 814.8 158.8 820.5 155.2 828.8 146.6 845.8 143.1 857.8 147.6 864.6 151.2 872.8 153.7 903.8 159.4 942.8 162.5 955.4 158.2 964.8 153.4 977.8 150.2 988.8 143.2 992.9 139.2 997.8 136.6 1001.1 128.2 999.7 116.2 997.8 110.6 941.8 111.6 827.8 110.6 793.8 112.0 774.8 114.8 758.8 114.8 747.8 111.1 731.8 111.0 731.8 53.2Z" fill="#b4627d"/>
<path d="M732.8 53.2 1214.8 53.2 1214.8 503.2 731.8 503.2 731.8 175.5 747.8 175.6 757.8 178.6 778.8 172.8 792.8 170.2 812.8 162.4 828.4 152.2 845.8 147.8 871.8 156.5 897.8 161.8 942.8 165.5 977.8 153.2 997.8 140.0 1002.2 128.2 1001.0 113.2 997.8 103.4 731.8 103.4 731.8 53.2Z" fill="#bd6578"/>
<path d="M732.8 53.2 1214.8 53.2 1214.8 503.2 731.8 503.2 731.8 180.6 746.8 180.6 758.8 182.2 793.8 172.4 814.2 164.2 828.8 155.3 845.8 151.3 871.8 159.5 897.8 165.0 914.8 165.6 942.8 168.4 976.8 156.7 997.8 143.4 1001.3 135.2 1003.3 127.2 1003.0 113.2 999.9 103.2 997.8 100.9 731.8 100.9 731.8 53.2Z" fill="#c76871"/>
<path d="M732.8 53.2 1214.8 53.2 1214.8 503.2 731.8 503.2 731.8 188.0 747.8 187.9 758.8 185.9 793.8 175.1 815.8 166.0 828.8 158.5 845.8 154.8 869.8 161.9 897.8 168.3 914.8 168.1 941.8 171.5 947.8 170.1 976.8 159.7 997.8 146.4 1001.2 139.2 1004.4 128.2 1004.9 113.2 1001.1 102.2 997.8 99.0 731.8 99.0 731.8 53.2Z" fill="#d06b6a"/>
<path d="M732.8 53.2 1214.8 53.2 1214.8 503.2 731.8 503.2 731.8 195.5 747.8 195.3 763.4 188.2 793.8 177.7 814.8 169.0 828.8 161.8 845.8 158.3 897.8 171.6 914.8 170.6 942.8 175.3 965.0 168.2 976.8 163.4 997.8 149.4 1001.1 143.2 1004.4 133.2 1006.9 113.2 1002.8 102.2 997.8 97.1 731.8 97.1 731.8 53.2Z" fill="#d86e63"/>
<path d="M732.8 53.2 1214.8 53.2 1214.8 503.2 746.8 503.2 746.8 203.2 753.8 197.8 763.8 192.6 816.8 170.9 827.8 165.4 845.8 161.8 897.8 175.0 914.8 173.2 942.8 180.3 976.8 167.7 984.1 161.2 997.8 152.4 1001.2 146.2 1004.8 136.2 1008.9 113.2 1004.5 102.2 1001.6 98.2 997.8 95.2 731.8 95.2 731.8 53.2Z" fill="#e1725b"/>
<path d="M732.8 53.2 1214.8 53.2 1214.8 503.2 748.8 503.2 749.2 249.2 750.0 217.2 751.4 209.2 753.6 204.2 758.5 200.2 767.4 195.2 810.8 176.0 820.8 172.4 827.8 168.6 845.8 165.3 897.8 178.4 914.8 176.9 941.8 185.3 944.8 184.7 976.8 172.0 988.8 161.2 997.8 155.4 1001.4 149.2 1004.9 140.2 1008.8 120.8 1018.0 118.2 1022.4 113.2 1008.8 108.8 1003.8 98.5 1000.5 95.2 997.8 94.1 731.8 94.1 731.8 53.2Z" fill="#e87953"/>
<path d="M732.8 53.2 1214.8 53.2 1214.8 503.2 953.9 503.2 953.9 188.2 960.8 184.9 966.4 180.2 977.8 175.8 985.8 169.2 993.5 161.2 998.0 158.2 1004.8 144.6 1008.8 128.4 1038.8 123.8 1043.1 120.2 1038.8 115.4 1030.8 110.2 1021.8 107.2 1008.8 104.7 1004.7 97.2 1002.7 95.2 997.8 93.1 731.8 93.1 731.8 53.2ZM842.8 170.2 845.8 169.7 858.8 173.4 897.8 181.8 914.8 180.7 935.8 187.7 938.3 192.2 939.1 196.2 939.1 503.2 749.9 503.2 749.9 300.2 750.9 245.2 752.9 215.2 754.8 210.0 757.8 205.8 769.8 198.2 792.8 188.1 810.8 179.0 820.8 176.4 828.8 172.7 842.8 170.2Z" fill="#ef7f4c"/>
<path d="M732.8 53.2 1214.8 53.2 1214.8 503.2 977.0 503.2 977.1 181.2 989.8 170.5 998.8 160.4 1004.5 149.2 1008.8 135.7 1038.8 130.3 1045.8 126.8 1051.4 122.2 1052.8 120.2 1051.9 117.2 1049.8 112.7 1046.8 109.0 1041.8 105.8 1033.8 103.2 1008.8 100.5 1004.8 95.2 997.8 92.1 731.8 92.1 731.8 53.2ZM844.8 175.2 897.8 185.2 914.8 184.4 925.8 188.2 929.7 191.2 932.7 195.2 932.9 503.2 751.1 503.2 751.1 300.2 752.2 253.2 754.8 217.2 757.8 210.9 766.6 204.2 775.8 199.2 792.8 191.9 808.8 182.9 844.8 175.2Z" fill="#f38846"/>
<path d="M732.8 53.2 1214.8 53.2 1214.8 503.2 982.0 503.2 982.5 185.2 984.2 180.2 997.8 167.6 1005.4 151.2 1008.8 140.7 1038.8 136.8 1057.8 128.0 1062.1 121.2 1067.9 98.2 1064.8 97.2 1008.8 97.2 1004.0 93.2 997.8 91.1 731.8 91.1 731.8 53.2ZM841.8 181.2 845.8 180.3 871.8 183.5 897.8 188.6 913.8 188.0 920.8 190.9 926.4 195.2 926.6 503.2 752.3 503.2 752.3 300.2 753.5 256.2 756.9 218.2 758.8 214.9 770.8 205.7 792.8 195.6 810.8 185.0 827.8 184.2 841.6 181.2Z" fill="#f69342"/>
<path d="M732.8 53.2 1214.8 53.2 1214.8 503.2 986.6 503.2 986.6 188.2 989.8 181.2 998.8 171.8 1008.8 145.7 1044.8 140.6 1075.5 128.2 1075.2 98.2 1064.8 94.9 1008.8 94.9 1004.8 92.1 997.8 90.1 731.8 90.1 731.8 53.2ZM843.8 186.1 871.8 187.2 898.8 192.1 913.8 191.7 918.8 194.3 920.4 196.2 920.4 503.2 753.4 503.2 753.4 300.2 755.0 257.2 758.7 224.2 761.9 218.2 770.2 210.2 775.8 206.7 792.8 199.4 810.8 188.0 827.8 189.7 843.4 186.2Z" fill="#f99e3e"/>
<path d="M732.8 53.2 1214.8 53.2 1214.8 503.2 991.3 503.2 991.3 188.2 998.8 177.8 1008.8 150.7 1053.9 143.2 1061.8 140.7 1077.8 133.6 1096.1 128.2 1089.9 120.2 1087.2 115.2 1082.5 98.2 1064.8 92.6 1008.8 92.6 1004.8 90.6 997.8 89.1 731.8 89.1 731.8 53.2ZM810.8 191.0 828.8 195.3 845.8 191.0 871.8 191.0 897.8 195.5 913.8 196.2 914.4 503.2 754.6 503.2 754.6 300.2 756.0 263.2 757.8 243.1 759.0 238.2 764.8 226.0 769.6 218.2 775.8 210.6 788.8 206.0 810.4 191.2Z" fill="#f9aa3e"/>
<path d="M732.8 53.2 1214.8 53.2 1214.8 503.2 996.0 503.2 996.0 188.2 999.8 181.5 1008.8 155.7 1033.8 150.8 1064.8 146.8 1073.8 141.5 1083.6 137.2 1113.8 128.2 1111.4 115.2 1106.8 107.9 1100.8 104.4 1091.8 102.2 1089.8 98.2 1085.8 96.3 1064.8 90.3 1008.8 90.3 997.8 87.9 731.8 87.9 731.8 53.2ZM810.8 194.0 815.6 195.2 827.8 201.0 845.8 197.1 871.8 196.4 897.8 200.4 905.1 204.2 909.1 211.2 910.7 218.2 911.5 248.2 911.5 503.2 755.8 503.2 755.8 300.2 757.8 258.5 764.8 238.6 775.8 220.3 792.8 210.8 799.7 203.2 810.4 194.2Z" fill="#f8b742"/>
<path d="M732.8 53.2 1214.8 53.2 1214.8 95.1 1091.8 95.1 1077.8 90.6 1064.8 88.3 1008.8 88.3 997.8 86.6 731.8 86.6 731.8 53.2ZM1169.8 102.2 1185.8 103.1 1214.8 103.1 1214.8 503.2 999.5 503.2 999.8 189.2 1008.8 161.9 1018.3 158.2 1038.8 154.0 1064.8 154.3 1076.8 146.2 1089.6 140.2 1114.8 134.9 1131.3 128.2 1136.8 120.0 1149.8 107.7 1157.8 104.3 1169.5 102.2ZM810.8 198.9 827.8 206.8 845.8 203.3 871.8 201.8 897.8 205.4 903.5 210.2 906.9 217.2 908.9 248.2 908.9 503.2 756.9 503.2 756.9 300.2 758.8 273.7 766.3 254.2 769.9 240.2 775.2 231.2 782.8 224.7 792.8 218.5 810.5 199.2Z" fill="#f6c446"/>
<path d="M732.8 53.2 1214.8 53.2 1214.8 91.4 1091.8 91.4 1079.8 88.4 1064.8 86.6 1008.8 86.6 997.8 85.4 731.8 85.4 731.8 53.2ZM1170.8 107.2 1185.8 109.3 1214.8 109.4 1214.8 503.2 1170.1 503.2 1155.0 481.2 1143.8 457.6 1128.8 451.6 1117.8 443.0 1105.8 473.7 1091.6 503.2 1001.8 503.2 1001.8 203.2 1002.8 188.2 1008.8 169.4 1038.8 158.1 1064.8 161.8 1080.2 150.2 1090.8 144.8 1117.8 141.5 1143.8 130.4 1146.3 128.2 1149.4 120.2 1153.8 115.0 1160.8 110.4 1170.3 107.2ZM810.8 205.7 827.8 212.6 845.8 209.4 871.8 207.1 897.8 210.4 900.8 213.2 903.7 218.2 906.3 248.2 906.3 503.2 758.7 503.2 758.8 299.4 764.2 289.2 768.8 276.2 773.3 257.2 775.8 240.5 784.5 232.2 795.2 224.2 800.3 217.2 810.3 206.2Z" fill="#f3d24b"/>
<path d="M732.8 53.2 1214.8 53.2 1214.8 87.6 1091.8 87.6 1064.8 85.0 1008.8 85.0 997.8 84.2 731.8 84.2 731.8 53.2ZM1167.8 113.1 1170.8 112.2 1185.8 115.6 1214.8 115.6 1214.8 475.9 1185.8 475.6 1178.5 463.2 1169.8 452.0 1146.5 413.2 1143.8 410.5 1117.8 412.6 1102.8 427.8 1090.8 443.9 1086.8 458.2 1082.5 503.2 1004.2 503.2 1004.2 203.2 1005.8 188.2 1008.8 176.9 1038.8 165.5 1064.8 169.2 1077.8 161.5 1090.8 149.8 1117.8 148.9 1143.8 137.8 1147.8 135.3 1154.8 128.2 1157.3 120.2 1167.6 113.2ZM810.8 212.5 828.8 219.2 845.8 216.2 871.8 213.4 897.8 215.4 900.2 218.2 903.6 248.2 903.6 503.2 778.6 503.2 778.6 293.2 787.8 266.9 794.9 233.2 801.8 227.4 805.7 218.2 810.1 213.2Z" fill="#efe251"/>
<path d="M732.8 53.2 1214.8 53.2 1214.8 83.9 731.8 82.9 731.8 53.2ZM1168.8 117.9 1170.8 117.3 1185.8 121.8 1214.8 121.8 1214.8 427.6 1185.8 427.5 1159.6 401.2 1144.8 389.7 1116.8 383.0 1103.8 390.6 1093.8 399.6 1090.5 404.2 1083.7 420.2 1079.3 436.2 1076.0 457.2 1073.7 503.2 1006.5 503.2 1006.5 203.2 1008.8 188.2 1019.6 180.2 1038.8 173.0 1054.8 176.7 1060.8 179.7 1064.8 182.9 1069.2 179.2 1073.6 173.2 1082.8 167.7 1091.8 160.5 1118.8 160.0 1125.8 156.1 1132.4 150.2 1149.8 143.1 1155.8 139.4 1162.0 131.2 1164.6 121.2 1168.2 118.2ZM866.8 227.2 897.8 227.9 900.2 241.2 901.0 248.2 901.0 503.2 799.0 503.2 799.0 442.2 802.3 341.2 805.7 293.2 812.3 243.2 814.8 238.0 819.8 235.1 828.8 233.4 845.8 228.3 866.3 227.2Z" fill="#e8fa5b"/>
<path d="M747.7 81.4 749.0 83.2 750.2 84.6 751.4 86.6 752.6 86.4 753.8 88.6 755.0 83.8 756.1 86.5 757.3 89.4 758.4 87.2 759.5 88.6 760.7 83.2 761.8 85.3 763.0 83.6 764.1 85.4 765.3 85.0 766.5 80.7 767.7 81.4 768.9 81.2 770.1 84.8 771.4 83.2 772.6 79.7 773.8 84.3 775.0 80.4 776.2 84.0 777.4 81.3 778.6 80.9 779.8 86.9 781.0 82.9 782.3 83.2 783.5 88.6 784.7 88.1 785.9 84.6 787.1 88.6 788.3 85.3 789.5 85.8 790.7 82.2 791.9 86.6 793.1 84.5 794.4 85.1 795.6 83.4 796.8 78.3 798.0 77.5 799.2 75.0 800.4 73.7 801.6 73.0 802.8 74.4 804.0 76.2 805.3 72.1 806.5 76.4 807.7 74.0 808.8 76.0 809.9 81.6 810.9 81.5 812.0 82.6 813.1 85.9 814.3 87.2 815.4 82.8 816.5 88.8 817.7 82.4 818.8 87.1 819.9 87.6 821.1 82.0 822.2 87.0 823.3 83.4 824.5 84.0 825.6 79.5 826.7 78.9 827.9 79.0 829.0 83.3 830.2 77.5 831.3 80.4 832.4 81.3 833.6 81.2 834.7 77.0 835.8 76.9 837.0 77.8 838.1 79.2 839.2 74.6 840.4 78.6 841.5 79.3 842.6 80.2 843.8 75.2 844.9 81.7 846.0 76.5 847.2 78.6 848.3 80.8 849.4 83.3 850.6 79.0 851.7 82.4 852.9 79.5 854.0 77.5 855.1 77.1 856.3 75.7 857.4 74.6 858.5 74.6 859.7 78.6 860.8 81.1 861.9 76.0 863.1 75.8 864.2 82.4 865.3 79.9 866.5 79.5 867.6 78.8 868.7 81.1 869.9 82.5 871.0 79.9 872.1 79.6 873.3 77.1 874.4 82.6 875.6 76.7 876.7 79.6 877.8 82.2 879.0 77.9 880.1 82.2 881.2 84.0 882.4 82.2 883.5 83.6 884.6 79.4 885.8 81.9 886.9 79.8 888.0 84.2 889.2 80.3 890.3 81.1 891.4 84.5 892.6 83.3 893.7 83.9 894.8 80.2 896.0 80.0 897.1 81.2 898.3 79.0 899.4 77.4 900.5 77.6 901.7 75.5 902.8 76.6 903.9 80.1 905.1 79.5 906.2 76.8 907.3 75.5 908.5 74.0 909.6 71.9 910.7 72.7 911.9 75.6 913.0 75.7 914.1 73.0 915.3 76.5 916.4 77.1 917.6 77.3 918.7 77.8 919.8 79.1 921.0 77.1 922.1 80.1 923.2 77.5 924.4 79.1 925.5 81.2 926.6 80.9 927.8 78.5 928.9 83.0 930.0 81.3 931.2 81.1 932.3 76.6 933.4 79.4 934.4 76.7 935.5 78.8 936.6 76.7 937.7 78.3 938.8 76.4 939.9 76.7 941.0 73.0 942.1 74.2 943.3 75.8 944.5 77.3 945.7 75.0 946.9 79.2 948.1 80.3 949.3 80.0 950.5 81.6 951.6 81.3 952.7 78.2 953.9 78.0 955.0 75.4 956.1 79.6 957.3 80.0 958.4 76.8 959.5 83.6 960.6 89.3 961.7 94.8 962.8 96.5 963.9 106.0 965.7 75.6 966.8 75.8 967.9 73.8 969.1 74.8 970.2 75.5 971.3 73.3M747.7 102.3 749.0 104.4 750.2 101.4 751.4 103.7 752.6 105.0 753.8 105.8 755.0 102.3 756.2 104.8 757.4 103.8 758.6 99.3 759.8 101.4 760.9 99.0 762.0 97.0 763.2 96.8 764.3 97.2 765.5 95.5 766.6 94.8 767.7 92.9 768.9 95.3 770.0 94.3 771.1 95.4 772.3 94.8 773.4 92.0 774.5 95.9 775.7 89.5 776.8 91.7 777.9 91.1 779.1 92.2 780.2 90.5 781.3 95.4 782.5 92.7 783.6 90.7 784.7 94.7 785.9 91.5 787.0 95.4 788.1 94.9 789.2 97.4 790.2 100.8 791.3 100.8 792.4 96.7 793.5 97.9 794.6 95.3 795.7 92.0 796.8 89.1 798.0 91.2 799.2 90.0 800.4 91.7 801.6 90.9 802.8 87.6 804.0 85.0 805.2 89.3 806.3 84.1 807.4 85.5 808.6 89.2 809.7 90.2 810.9 87.7 812.0 91.6 813.1 94.0 814.3 90.4 815.4 90.5 816.5 89.0 817.7 89.2 818.8 93.4 819.9 89.3 821.1 92.9 822.2 92.4 823.3 90.3 824.5 88.0 825.6 92.8 826.7 89.6 827.9 89.1 829.0 88.4 830.2 92.8 831.3 89.6 832.4 87.5 833.6 88.1 834.7 85.1 835.8 87.7 837.0 85.9 838.1 84.2 839.2 86.7 840.4 86.3 841.5 81.7 842.6 85.8 843.8 84.7 844.9 89.8 846.0 89.4 847.2 86.6 848.3 87.4 849.4 87.4 850.6 92.6 851.7 87.8 852.9 89.7 854.0 88.6 855.1 89.4 856.3 89.0 857.4 89.6 858.5 85.3 859.7 89.5 860.8 86.5 861.9 88.0 863.1 86.7 864.2 86.5 865.3 88.0 866.5 87.6 867.6 86.9 868.7 89.7 869.9 88.9 871.0 85.4 872.1 87.1 873.3 88.7 874.4 91.9 875.6 92.0 876.7 89.9 877.8 86.4 879.0 91.5 880.1 89.2 881.2 90.1 882.4 91.0 883.5 90.5 884.6 89.5 885.8 92.3 886.9 88.8 888.0 88.7 889.2 91.6 890.3 87.2 891.4 87.7 892.6 91.1 893.7 86.0 894.8 90.9 896.0 89.7 897.1 87.6 898.3 86.3 899.4 89.2 900.5 89.7 901.7 84.3 902.8 86.2 903.9 86.3 905.1 86.4 906.2 85.8 907.3 85.1 908.5 88.4 909.6 90.3 910.7 85.9 911.9 87.4 913.0 91.7 914.1 91.6 915.3 90.7 916.4 86.5 917.6 91.1 918.7 92.8 919.8 92.9 921.0 91.0 922.1 86.7 923.2 92.1 924.4 88.2 925.5 91.3 926.6 93.5 927.8 92.2 928.9 88.6 930.0 89.9 931.2 94.2 932.3 88.7 933.4 91.3 934.6 89.5 935.7 87.4 936.8 90.0 938.0 85.7 939.1 85.7 940.3 87.0 941.4 85.9 942.5 86.7 943.7 91.0 944.8 93.0 945.9 94.8 947.1 90.9 948.2 93.7 949.3 93.9 950.5 95.1 951.6 93.6 952.7 95.9 953.9 91.5 955.0 88.7 956.1 92.3 957.3 88.0 958.4 90.5 959.5 89.2 960.7 91.4 961.8 88.6 963.0 88.6 964.1 85.8 965.2 87.2 966.4 84.8 967.5 87.6 968.8 85.5 970.0 82.4 971.3 84.2M747.7 172.3 751.4 169.6 756.8 165.0 764.1 167.7 767.7 157.7 773.2 155.9 778.6 158.7 785.9 153.2 791.3 155.0 795.0 149.6 800.4 147.8 807.7 166.8 811.3 155.0 818.6 138.7 824.0 136.9 831.3 133.2 836.7 144.1 840.4 129.6 845.8 140.5 851.3 142.3 858.5 142.3 862.2 136.9 869.4 138.7 874.9 147.8 880.3 162.3 885.8 156.8 891.2 160.5 898.5 156.8 905.7 167.7 909.4 180.5 913.0 169.6 916.6 153.2 923.9 153.2 931.2 147.8 938.4 140.5 945.7 147.8 954.8 142.3 962.0 151.4 967.5 145.9 971.3 145.9M967.3 71.5 968.5 72.3 969.7 74.5 970.9 70.7 972.1 74.1 973.4 73.5 974.6 69.6 975.7 74.4 976.7 71.5 977.8 72.6 978.9 76.6 980.0 75.2 981.1 80.9 982.2 79.7 983.3 80.1 984.4 84.7 985.5 81.1 986.6 88.6 987.6 87.1 988.7 90.6 989.8 98.8 990.9 99.9 992.1 93.9 993.3 90.1 994.5 92.7 995.6 86.7 996.7 83.7 997.8 75.3 998.9 74.5 1000.0 68.7 1001.2 67.3 1002.4 67.3 1003.6 68.6 1004.7 68.3 1005.8 70.0 1006.9 69.8 1008.0 75.8 1009.1 76.1 1010.2 77.5 1011.3 75.4 1012.3 78.5 1013.4 76.7 1014.5 77.5 1015.7 85.3 1016.9 94.2 1018.2 99.8 1019.4 90.6 1020.6 82.9 1021.8 76.8 1022.9 76.4 1024.1 82.7 1025.2 80.6 1026.3 83.2 1027.5 78.8 1028.6 82.6 1029.7 86.1 1030.9 85.0 1032.0 83.3 1033.1 83.0 1034.3 80.2 1035.4 80.1 1036.5 79.7 1037.7 80.6 1038.8 80.2 1039.9 83.1 1041.1 78.0 1042.2 78.5 1043.4 78.4 1044.5 77.4 1045.6 78.0 1046.8 77.4 1047.9 78.8 1049.0 75.6 1050.2 81.8 1051.3 78.3 1052.4 82.3 1053.6 80.9 1054.7 81.0 1055.8 79.9 1057.0 83.3 1058.1 78.0 1059.2 79.8 1060.4 75.5 1061.5 76.2 1062.6 74.8 1063.8 69.2 1064.9 67.7 1066.1 64.7 1067.2 64.2 1068.3 63.6 1069.4 66.1 1070.5 70.2 1071.5 66.6 1072.6 66.6 1073.8 68.2 1075.1 67.6 1076.3 71.2 1077.4 72.0 1078.5 69.2 1079.7 70.7 1080.8 74.4 1081.9 77.1 1083.1 76.1 1084.2 75.5 1085.3 80.0 1086.4 71.8 1087.5 70.4 1088.6 73.3 1089.7 69.1 1090.8 64.8 1092.0 71.2 1093.2 77.1 1094.4 77.0 1095.6 75.2 1096.7 72.9 1097.8 72.0 1099.0 76.8 1100.1 73.4 1101.2 75.7 1102.4 69.2 1103.5 69.8 1104.6 69.2 1105.8 72.2 1106.9 70.6 1108.1 72.6 1109.2 74.3 1110.3 74.3 1111.5 73.3 1112.6 73.9 1113.7 79.6 1114.9 73.9 1116.0 75.6 1117.1 74.5 1118.3 74.8 1119.4 71.5 1120.5 72.5 1121.7 70.7 1122.8 73.2 1123.9 75.3 1124.9 72.8 1126.0 74.2 1127.1 69.6 1128.3 70.1 1129.5 75.4 1130.8 76.8 1131.9 76.9 1133.0 75.2 1134.2 76.4 1135.3 76.6 1136.4 77.4 1137.6 72.9 1138.7 73.4 1139.8 75.4 1141.0 71.2 1142.1 70.3 1143.2 71.4 1144.4 69.7 1145.5 73.9 1146.6 74.0 1147.8 70.5 1148.9 69.0 1150.0 68.9 1151.2 70.2 1152.3 69.4 1153.5 71.9 1154.6 73.1 1155.7 71.1 1156.9 70.2 1158.0 74.6 1159.1 70.1 1160.3 70.8 1161.4 71.2 1162.5 71.5 1163.7 69.5 1164.8 71.4 1165.9 70.5 1167.1 73.1 1168.2 72.1 1169.3 74.5 1170.5 73.2 1171.6 74.1 1172.7 73.1 1173.9 72.4 1175.0 75.1 1176.2 74.3 1177.3 76.3 1178.4 74.8 1179.5 74.6 1180.6 71.8 1181.7 75.3 1182.8 72.5 1183.9 70.8 1185.0 70.4 1186.1 73.3M967.3 80.2 968.5 80.6 969.7 83.2 970.9 80.5 972.1 78.9 973.4 83.3 974.6 81.8 975.7 78.5 976.7 78.9 977.8 79.6 978.9 81.2 980.0 84.7 981.1 86.1 982.2 84.6 983.3 82.8 984.4 84.8 985.5 85.1 986.6 88.1 987.6 89.3 988.7 96.4 989.8 101.2 990.9 103.8 992.0 95.3 993.1 93.8 994.2 87.1 995.3 86.3 996.4 80.2 997.6 81.6 998.8 78.9 1000.0 72.6 1001.2 72.1 1002.4 74.2 1003.6 69.4 1004.8 70.4 1006.0 71.7 1007.3 75.0 1008.5 77.4 1009.7 75.9 1010.9 80.0 1012.1 79.1 1013.3 77.3 1014.5 83.5 1015.7 82.4 1016.9 81.5 1018.2 89.1 1019.3 83.4 1020.4 87.4 1021.6 87.2 1022.7 90.3 1023.8 87.6 1025.0 86.8 1026.1 87.7 1027.2 87.7 1028.4 89.8 1029.5 88.2 1030.6 90.6 1031.8 87.0 1032.9 87.5 1034.0 86.6 1035.2 91.2 1036.3 90.1 1037.5 89.8 1038.7 88.0 1039.9 86.3 1041.2 84.2 1042.4 88.5 1043.6 85.9 1044.8 84.2 1046.0 86.2 1047.2 87.0 1048.4 92.3 1049.6 94.7 1050.8 91.3 1052.1 94.6 1053.3 90.9 1054.5 92.7 1055.7 93.2 1056.9 91.0 1058.1 91.6 1059.2 88.6 1060.4 85.9 1061.5 89.0 1062.6 89.3 1063.8 86.4 1064.9 87.5 1066.1 86.8 1067.2 84.7 1068.3 87.3 1069.5 88.4 1070.6 89.7 1071.7 91.9 1072.9 90.6 1074.0 95.1 1075.1 94.7 1076.3 96.1 1077.4 94.1 1078.5 93.5 1079.7 92.1 1080.8 93.4 1081.9 90.1 1083.1 91.2 1084.2 91.3 1085.3 89.8 1086.5 88.7 1087.6 87.8 1088.8 88.3 1089.9 90.5 1091.0 92.4 1092.2 94.1 1093.3 94.2 1094.4 92.0 1095.6 95.9 1096.7 91.3 1097.8 94.0 1099.0 89.5 1100.1 93.8 1101.2 93.0 1102.4 94.7 1103.5 94.1 1104.6 93.4 1105.8 95.0 1106.9 95.1 1108.1 94.9 1109.2 92.9 1110.3 95.6 1111.5 98.8 1112.6 95.2 1113.7 99.1 1114.9 95.4 1116.0 93.5 1117.1 90.0 1118.3 91.6 1119.4 89.3 1120.5 91.5 1121.7 92.3 1122.8 93.2 1123.9 92.2 1125.1 91.6 1126.2 90.7 1127.3 95.4 1128.5 95.4 1129.6 97.4 1130.8 96.1 1131.9 99.2 1133.0 94.5 1134.2 94.9 1135.3 94.5 1136.4 96.6 1137.6 98.2 1138.7 93.1 1139.8 96.0 1141.0 96.8 1142.1 93.3 1143.2 92.2 1144.4 95.5 1145.5 97.3 1146.6 97.6 1147.8 96.6 1148.9 94.5 1150.0 95.5 1151.2 97.1 1152.3 100.5 1153.5 97.4 1154.6 98.2 1155.7 101.2 1156.9 104.5 1158.0 100.3 1159.1 99.0 1160.3 99.4 1161.4 102.1 1162.5 102.1 1163.7 99.1 1164.8 98.9 1165.9 101.4 1167.1 101.5 1168.2 101.8 1169.3 102.0 1170.5 97.6 1171.6 100.4 1172.7 102.7 1173.9 103.5 1175.0 99.3 1176.2 102.8 1177.3 101.3 1178.4 102.9 1179.5 98.1 1180.6 101.0 1181.7 101.8 1182.8 99.2 1183.9 96.5 1185.0 96.9 1186.1 98.7M967.3 146.2 968.4 145.2 969.6 144.8 970.7 146.2 971.8 143.3 973.0 145.5 974.1 144.7 975.2 144.4 976.4 143.7 977.5 143.3 978.7 144.2 979.8 144.4 980.9 142.9 982.1 144.4 983.2 140.5 984.3 140.5 985.5 140.3 986.6 141.5 987.8 142.8 989.0 143.7 990.1 145.2 991.3 146.0 992.5 143.6 993.6 145.5 995.0 140.7 996.4 134.5 997.6 131.5 998.8 131.8 1000.0 129.0 1001.2 128.6 1002.4 125.9 1003.6 126.2 1004.7 124.7 1005.8 119.3 1006.9 120.9 1008.0 119.3 1009.1 116.0 1010.3 116.1 1011.5 118.6 1012.7 118.9 1013.9 121.6 1015.1 123.3 1016.3 121.8 1018.2 134.1 1020.0 111.4 1021.2 112.6 1022.4 113.3 1023.6 112.7 1024.8 111.7 1026.0 112.2 1027.2 114.8 1028.4 113.8 1029.5 112.1 1030.6 114.2 1031.8 113.9 1032.9 116.3 1034.0 114.1 1035.2 115.4 1036.3 115.1 1037.5 116.5 1038.7 118.4 1039.9 116.2 1041.2 115.2 1042.4 117.3 1043.6 113.2 1044.7 117.3 1045.8 122.3 1046.8 121.6 1047.9 127.9 1049.0 129.0 1050.1 128.1 1051.2 129.9 1052.3 131.6 1053.4 132.0 1054.5 133.3 1055.7 128.8 1056.9 127.1 1058.1 128.1 1059.3 120.9 1060.5 116.1 1061.7 109.6 1063.0 116.5 1064.2 125.6 1065.4 130.4 1066.6 121.8 1067.8 111.8 1069.0 105.5 1070.2 109.7 1071.4 110.5 1072.6 113.7 1073.8 113.2 1075.1 110.3 1076.3 108.4 1077.5 109.9 1078.7 114.1 1079.9 121.7 1081.0 117.2 1082.1 116.4 1083.2 113.3 1084.3 110.7 1085.3 105.4 1086.5 108.0 1087.6 106.7 1088.8 107.1 1089.9 103.5 1091.0 106.1 1092.2 104.3 1093.3 106.5 1094.4 106.4 1095.6 103.3 1096.7 104.7 1097.8 104.5 1099.0 105.8 1100.1 105.5 1101.2 107.6 1102.4 105.6 1103.5 106.3 1104.6 106.7 1105.8 104.1 1106.9 104.5 1108.1 105.9 1109.2 105.0 1110.3 101.0 1111.5 99.3 1112.6 102.0 1113.7 102.6 1114.9 101.0 1116.0 98.9 1117.1 99.3 1118.3 102.4 1119.4 102.5 1120.5 98.4 1121.7 99.1 1122.8 100.7 1123.9 100.4 1125.1 103.0 1126.2 101.8 1127.3 104.0 1128.5 101.7 1129.6 103.8 1130.8 106.3 1131.9 106.2 1133.0 104.6 1134.2 105.8 1135.3 109.3 1136.4 109.3 1137.6 110.4 1138.7 112.0 1139.8 113.6 1141.0 113.7 1142.1 108.9 1143.2 108.8 1144.4 105.8 1145.5 105.5 1146.6 104.7 1147.8 100.5 1148.9 100.4 1150.0 102.8 1151.2 101.0 1152.3 105.8 1153.5 105.6 1154.6 107.4 1155.7 109.2 1156.9 111.4 1158.0 109.4 1159.1 111.2 1160.3 108.9 1161.4 110.2 1162.5 109.8 1163.7 108.1 1164.8 109.2 1165.9 109.6 1167.1 110.3 1168.2 111.3 1169.3 108.6 1170.5 109.1 1171.6 109.7 1172.7 110.4 1173.9 110.3 1175.0 110.2 1176.2 106.9 1177.3 106.9 1178.4 110.9 1179.5 107.7 1180.6 110.0 1181.7 111.9 1182.8 111.6 1183.9 111.5 1185.0 114.5 1186.1 113.2M1085.1 396.0 1087.6 373.6 1090.0 348.4 1097.6 343.4 1102.5 323.4 1112.5 318.4 1120.0 308.4 1125.1 296.0 1132.6 303.5 1140.2 288.5 1147.5 313.5 1152.6 323.5 1157.5 303.5 1162.6 275.9 1167.7 283.5 1172.6 296.0 1177.7 303.5 1182.6 306.0 1185.2 296.0 1186.3 323.5M837.5 393.5 842.4 403.5 850.0 423.6 857.5 413.5 865.1 393.5 867.5 383.4 872.6 413.5 875.1 423.6" fill="none" stroke="#d3d3d3" stroke-width="1.8" stroke-linejoin="round"/>
</g>
<g clip-path="url(#axB)" font-size="16.67" fill="#d3d3d3" text-anchor="middle">
<text x="763" y="90.1" transform="rotate(0 763 84)">24.00</text>
<text x="1017.7" y="107.6" transform="rotate(15 1017.7 101.5)">25.00</text>
<text x="878" y="169.6" transform="rotate(-20 878 163.5)">26.00</text>
<text x="1185.5" y="326.1" transform="rotate(-90 1185.5 320)">27.00</text>
</g>
<rect x="731.80" y="53.20" width="482.20" height="449.30" fill="none" stroke="#000" stroke-width="1.33"/>
<text x="731.80" y="526.5" font-size="16.9" text-anchor="middle">0</text>
<text x="819.47" y="526.5" font-size="16.9" text-anchor="middle">50</text>
<text x="907.15" y="526.5" font-size="16.9" text-anchor="middle">100</text>
<text x="994.82" y="526.5" font-size="16.9" text-anchor="middle">150</text>
<text x="1082.49" y="526.5" font-size="16.9" text-anchor="middle">200</text>
<text x="1170.16" y="526.5" font-size="16.9" text-anchor="middle">250</text>
<text x="720.13" y="59.3" font-size="16.9" text-anchor="end">0</text>
<text x="720.13" y="134.2" font-size="16.9" text-anchor="end">50</text>
<text x="720.13" y="209.0" font-size="16.9" text-anchor="end">100</text>
<text x="720.13" y="283.9" font-size="16.9" text-anchor="end">150</text>
<text x="720.13" y="358.8" font-size="16.9" text-anchor="end">200</text>
<text x="720.13" y="433.7" font-size="16.9" text-anchor="end">250</text>
<text x="720.13" y="508.6" font-size="16.9" text-anchor="end">300</text>
<path d="M731.80 502.50v5.83 M819.47 502.50v5.83 M907.15 502.50v5.83 M994.82 502.50v5.83 M1082.49 502.50v5.83 M1170.16 502.50v5.83 M731.80 53.20h-5.83 M731.80 128.08h-5.83 M731.80 202.97h-5.83 M731.80 277.85h-5.83 M731.80 352.73h-5.83 M731.80 427.62h-5.83 M731.80 502.50h-5.83" stroke="#000" stroke-width="1.33" fill="none"/>
<text x="972.9" y="549.5" font-size="16.95" font-weight="bold" text-anchor="middle">Along-transect distance (km)</text>
<text transform="translate(676.8,277.9) rotate(-90)" font-size="16.95" font-weight="bold" text-anchor="middle">Depth (m)</text>
<text x="972.9" y="42.7" font-size="20.55" text-anchor="middle">Conservative Temperature (<tspan font-size="14.3" dy="-7.5" dx="0.6">∘</tspan><tspan dy="7.5" dx="0.9">C)</tspan></text>
<text x="676.5" y="24.1" font-size="28.5" font-weight="bold">B</text>
<rect x="1244.60" y="53.20" width="22.40" height="449.30" fill="url(#gB)" stroke="#000" stroke-width="1.33"/>
<text x="1278.67" y="508.6" font-size="16.9">−2</text>
<text x="1278.67" y="433.7" font-size="16.9">0</text>
<text x="1278.67" y="358.8" font-size="16.9">2</text>
<text x="1278.67" y="283.9" font-size="16.9">4</text>
<text x="1278.67" y="209.0" font-size="16.9">6</text>
<text x="1278.67" y="134.2" font-size="16.9">8</text>
<text x="1278.67" y="59.3" font-size="16.9">10</text>
<path d="M1267.00 502.50h5.83 M1267.00 427.62h5.83 M1267.00 352.73h5.83 M1267.00 277.85h5.83 M1267.00 202.97h5.83 M1267.00 128.08h5.83 M1267.00 53.20h5.83" stroke="#000" stroke-width="1.33" fill="none"/>
<g clip-path="url(#clipC)">
<rect x="86.0" y="589.9" width="482.5" height="449.4" fill="#070817"/>
<path d="M87.0 589.9 569.0 589.9 569.0 1039.9 86.0 1039.9 86.0 589.9Z" fill="#0c0b1d"/>
<path d="M87.0 589.9 569.0 589.9 569.0 1039.9 86.0 1039.9 86.0 589.9Z" fill="#100f23"/>
<path d="M87.0 589.9 569.0 589.9 569.0 1039.9 86.0 1039.9 86.0 589.9Z" fill="#151229"/>
<path d="M87.0 589.9 569.0 589.9 569.0 1039.9 86.0 1039.9 86.0 589.9Z" fill="#1a1631"/>
<path d="M87.0 589.9 569.0 589.9 569.0 1039.9 244.0 1039.9 244.0 981.9 242.0 977.3 232.0 979.4 226.3 981.9 226.3 1039.9 86.0 1039.9 86.0 589.9Z" fill="#1e1b39"/>
<path d="M87.0 589.9 569.0 589.9 569.0 1039.9 325.5 1039.9 325.4 987.9 311.0 982.6 300.5 987.9 300.4 1039.9 246.8 1039.9 246.8 981.9 245.1 972.9 242.0 968.7 206.0 971.9 172.0 973.0 168.1 975.9 165.4 991.9 161.0 1000.9 157.6 1003.9 153.0 1006.3 140.0 1009.3 139.3 1013.9 139.3 1039.9 86.0 1039.9 86.0 589.9Z" fill="#241f43"/>
<path d="M87.0 589.9 569.0 589.9 569.0 1039.9 400.5 1039.9 400.5 936.9 399.2 923.9 397.0 921.9 393.0 923.9 391.0 936.5 388.0 945.2 385.0 949.5 381.0 952.7 372.0 956.1 354.0 958.7 339.8 961.9 327.0 966.2 311.0 968.3 301.0 966.7 291.8 962.9 288.6 959.9 286.2 955.9 279.0 955.0 274.1 955.9 269.0 959.1 262.0 960.4 220.0 962.2 172.0 967.2 159.0 974.9 155.3 982.9 151.4 988.9 146.2 993.9 140.0 997.7 138.0 1013.9 138.0 1039.9 86.0 1039.9 86.0 589.9Z" fill="#29234c"/>
<path d="M87.0 589.9 569.0 589.9 569.0 1039.9 414.8 1039.9 414.8 936.9 411.0 930.8 408.2 923.9 397.0 914.3 377.0 923.9 373.0 930.3 368.0 935.8 356.0 943.6 312.0 953.9 299.0 952.3 279.0 951.6 249.0 957.0 242.0 956.0 206.0 955.4 189.0 959.2 171.3 961.9 149.4 974.9 140.0 986.2 136.8 1013.9 136.8 1039.9 86.0 1039.9 86.0 589.9Z" fill="#2e2857"/>
<path d="M87.0 589.9 569.0 589.9 569.0 1039.9 429.0 1039.9 429.0 936.9 422.4 930.9 415.0 921.8 397.0 906.7 366.0 921.1 361.1 923.9 354.0 930.2 312.0 939.6 306.0 943.5 299.0 945.8 249.0 952.8 242.0 951.0 206.0 951.5 172.0 956.9 167.0 958.9 156.0 964.4 140.0 974.8 135.7 1012.9 135.6 1039.9 86.0 1039.9 86.0 589.9Z" fill="#332c63"/>
<path d="M87.0 589.9 569.0 589.9 569.0 1039.9 432.5 1039.9 432.3 935.9 429.0 927.0 425.2 922.9 407.0 905.9 397.0 899.0 375.0 907.9 354.0 918.5 312.0 925.3 302.8 936.9 297.0 940.2 289.0 942.8 249.0 948.7 242.0 946.0 204.0 947.8 172.0 952.1 159.0 957.2 140.0 968.0 139.0 971.3 134.5 1012.9 134.4 1039.9 86.0 1039.9 86.0 589.9Z" fill="#373070"/>
<path d="M87.0 589.9 569.0 589.9 569.0 1039.9 435.9 1039.9 435.5 934.9 429.0 917.4 412.9 900.9 405.8 895.9 397.0 891.4 375.0 899.4 354.0 909.0 311.0 916.5 301.0 929.0 295.0 935.0 291.0 937.5 282.0 940.6 249.0 944.5 242.0 941.0 183.0 946.0 171.0 947.6 150.0 955.7 140.0 961.2 138.5 966.9 136.8 975.9 133.3 1012.9 133.3 1039.9 86.0 1039.9 86.0 589.9Z" fill="#3b397e"/>
<path d="M87.0 589.9 569.0 589.9 569.0 1039.9 439.3 1039.9 439.3 936.9 437.0 926.3 429.0 905.5 423.9 898.9 413.0 890.4 397.0 883.8 375.0 890.9 354.0 899.5 311.0 907.9 304.0 917.0 293.0 928.9 284.0 935.9 279.0 937.9 249.0 940.3 242.0 936.0 172.0 942.6 156.0 947.4 142.0 953.3 140.0 954.3 139.0 957.3 135.5 975.9 132.1 1013.9 132.1 1039.9 86.0 1039.9 86.0 589.9Z" fill="#3e428c"/>
<path d="M87.0 589.9 569.0 589.9 569.0 1039.9 442.7 1039.9 442.7 936.9 439.4 918.9 433.0 897.9 429.0 888.0 423.0 883.9 416.3 880.9 397.0 876.2 376.0 882.0 354.0 890.0 311.0 899.3 296.6 917.9 287.0 927.1 279.0 933.0 249.0 936.1 242.0 931.0 206.0 936.0 172.0 937.9 155.0 942.1 140.0 947.5 134.1 975.9 130.9 1013.9 130.9 1039.9 86.0 1039.9 86.0 589.9Z" fill="#3f4b96"/>
<path d="M87.0 589.9 569.0 589.9 569.0 1039.9 446.1 1039.9 446.1 935.9 444.3 919.9 438.4 891.9 434.3 879.9 429.0 870.5 397.0 863.8 380.8 871.9 341.0 883.6 311.0 890.7 303.4 899.9 296.6 910.9 288.0 919.7 279.0 927.3 249.0 931.3 242.0 925.9 206.0 931.3 172.0 933.1 153.2 936.9 140.0 940.7 136.7 953.9 132.8 975.9 129.7 1013.9 129.7 1039.9 86.0 1039.9 86.0 589.9Z" fill="#40539e"/>
<path d="M87.0 589.9 569.0 589.9 569.0 1039.9 449.5 1039.9 449.3 923.9 446.5 894.9 443.0 876.1 441.6 871.9 436.2 862.9 429.0 854.5 397.0 846.7 382.9 856.9 366.0 865.3 354.0 869.7 311.0 881.7 299.0 895.9 290.5 910.9 279.0 921.6 249.0 925.8 242.0 920.9 206.0 925.8 172.0 928.0 140.0 934.4 136.1 948.9 131.5 974.9 128.5 1013.9 128.5 1039.9 86.0 1039.9 86.0 589.9ZM465.9 822.9 463.0 846.9 464.8 858.9 466.0 860.6 468.7 846.9 466.0 822.7Z" fill="#405ba6"/>
<path d="M87.0 589.9 569.0 589.9 569.0 1039.9 469.1 1039.9 469.3 961.9 461.8 910.9 464.2 904.9 474.7 887.9 480.6 871.9 478.6 862.9 477.1 846.9 469.4 795.9 466.0 790.9 463.0 795.9 459.5 826.9 455.3 852.9 453.7 859.9 451.0 865.8 441.0 851.5 430.0 841.7 397.0 831.0 378.0 846.4 360.0 856.6 354.0 859.3 311.0 871.7 296.0 888.9 289.8 898.9 284.4 910.9 279.0 915.9 249.0 920.4 242.0 915.9 206.0 920.4 172.0 922.3 140.0 928.7 135.5 943.9 130.2 974.9 127.4 1013.9 127.4 1039.9 86.0 1039.9 86.0 589.9Z" fill="#3f61ad"/>
<path d="M87.0 589.9 569.0 589.9 569.0 1039.9 483.4 1039.9 483.4 974.9 485.0 951.9 488.7 938.9 491.6 923.9 496.4 913.9 498.8 905.9 503.5 872.9 496.0 859.7 485.0 844.0 478.0 807.9 474.8 795.9 466.0 783.7 464.6 784.9 459.7 794.9 453.3 830.9 451.0 841.0 450.0 842.0 442.0 834.5 431.0 828.4 397.0 819.6 368.0 840.7 354.0 848.9 311.0 861.8 302.0 869.7 294.2 878.9 285.5 892.9 279.0 908.5 274.6 910.9 249.0 914.9 242.0 910.8 206.0 914.9 172.0 916.6 140.0 922.9 134.9 938.9 128.8 974.9 126.2 1013.9 126.2 1039.9 86.0 1039.9 86.0 589.9Z" fill="#3f68b4"/>
<path d="M87.0 589.9 311.0 589.9 354.0 594.4 569.0 594.4 569.0 910.9 541.0 910.9 540.0 909.9 532.4 893.9 526.6 871.9 516.0 850.2 501.8 827.9 485.0 808.5 477.0 789.6 472.0 782.5 466.0 776.4 462.0 781.9 456.5 793.9 450.0 818.7 439.8 815.9 397.0 808.2 381.0 818.7 354.0 838.5 312.0 851.5 306.0 855.2 297.8 861.9 290.6 869.9 284.4 878.9 279.0 889.5 261.9 905.9 249.0 909.4 242.0 905.7 206.0 909.5 172.0 910.9 140.0 917.2 133.6 936.9 127.5 974.9 125.0 1013.9 125.0 1039.9 86.0 1039.9 86.0 589.9Z" fill="#406fb7"/>
<path d="M87.0 594.6 108.0 599.0 569.0 599.4 569.0 845.7 541.0 845.7 530.7 824.9 520.8 808.9 506.0 801.5 485.0 794.0 477.0 779.5 472.0 773.9 466.0 769.2 463.0 772.5 458.2 780.9 450.0 801.6 429.0 802.2 397.0 799.6 386.0 804.4 375.0 810.6 354.0 826.4 336.5 833.9 311.0 841.9 299.0 848.7 288.0 858.2 279.0 870.5 263.0 883.6 249.0 898.0 245.2 892.9 242.0 890.7 206.0 900.8 187.3 903.9 161.0 906.7 140.0 911.5 136.2 920.9 132.1 935.9 127.1 966.9 123.8 1012.9 123.8 1039.9 86.0 1039.9 86.0 594.6Z" fill="#4276ba"/>
<path d="M87.0 598.2 108.0 600.0 569.0 600.4 569.0 798.5 541.0 798.5 515.8 787.9 485.0 779.7 477.0 769.3 466.0 762.0 463.0 764.9 458.0 772.3 450.0 789.6 429.0 791.3 397.0 791.1 390.0 793.4 370.0 802.3 354.0 812.8 328.0 822.6 294.0 838.4 287.0 843.3 279.0 851.5 263.0 862.3 249.0 874.1 206.0 885.6 172.0 892.5 140.0 901.2 130.5 934.9 126.3 961.9 122.7 1012.9 122.6 1039.9 86.0 1039.9 86.0 598.2Z" fill="#457ebd"/>
<path d="M87.0 599.1 108.0 600.9 569.0 601.4 569.0 775.7 541.0 775.7 515.9 769.9 485.0 765.4 477.0 759.2 466.0 754.4 458.0 763.3 450.0 777.6 429.0 780.5 397.0 782.5 376.0 788.8 364.0 793.8 354.0 799.2 333.0 805.6 300.0 817.2 285.0 823.7 275.0 830.2 249.0 850.3 242.0 859.6 204.2 870.9 172.0 878.9 140.0 890.2 129.3 931.9 125.4 956.9 123.4 974.9 121.9 1003.9 121.4 1039.9 86.0 1039.9 86.0 599.1Z" fill="#4a87bf"/>
<path d="M87.0 599.9 108.0 601.9 569.0 602.3 569.0 754.7 541.0 754.7 485.0 752.8 466.0 745.8 459.0 752.9 450.0 765.6 386.0 776.0 369.0 780.3 354.0 785.6 311.0 796.9 279.0 801.3 249.0 822.4 245.6 834.9 242.0 842.0 206.0 852.9 163.0 868.3 151.8 872.9 140.0 879.2 128.1 928.9 124.6 950.9 121.4 987.9 120.3 1039.9 86.0 1039.9 86.0 599.9Z" fill="#5090c1"/>
<path d="M87.0 600.8 108.0 602.9 569.0 603.3 569.0 742.5 485.0 742.7 466.0 737.2 459.3 742.9 450.0 753.8 430.0 758.5 397.0 761.7 354.0 772.0 311.0 780.1 279.0 777.6 266.1 782.9 249.0 793.9 245.7 812.9 242.0 824.5 206.0 834.0 180.0 842.4 140.0 859.3 130.5 910.9 125.8 930.9 123.3 948.9 120.4 982.9 119.1 1039.9 86.0 1039.9 86.0 600.8Z" fill="#5599c3"/>
<path d="M87.0 601.7 108.0 603.9 569.0 604.3 569.0 730.2 541.0 730.2 485.0 732.6 466.0 728.7 459.0 733.6 450.0 742.3 397.0 745.9 311.0 763.0 279.0 759.8 249.0 771.8 245.3 796.9 242.0 807.6 207.0 814.9 172.0 824.7 157.0 833.9 140.0 841.2 138.3 846.9 133.8 878.9 122.2 943.9 119.3 975.9 117.9 1039.9 86.0 1039.9 86.0 601.7Z" fill="#5ba1c4"/>
<path d="M87.0 602.6 108.0 604.8 569.0 605.3 569.0 717.8 541.0 717.8 485.0 722.6 466.0 720.1 459.2 723.9 450.0 730.8 429.0 729.1 397.0 730.0 311.0 745.1 279.0 741.9 249.0 754.0 244.5 784.9 242.0 794.7 172.0 806.6 152.4 819.9 140.0 826.9 134.8 846.9 130.8 878.9 121.2 937.9 118.0 975.9 116.7 1039.9 86.0 1039.9 86.0 602.6Z" fill="#62a9c6"/>
<path d="M87.0 603.4 108.0 605.8 569.0 606.2 569.0 697.0 540.0 697.1 485.0 705.2 466.0 701.8 460.0 707.9 452.5 717.9 450.0 719.3 429.0 713.8 397.0 714.2 354.0 719.3 311.0 727.3 279.0 724.1 249.0 736.1 245.3 765.9 242.0 781.8 206.0 789.6 172.0 795.2 157.0 805.0 140.0 813.4 136.0 825.2 131.3 846.9 127.8 878.9 119.5 936.9 116.7 974.9 115.5 1039.9 86.0 1039.9 86.0 603.4Z" fill="#68b0c8"/>
<path d="M87.0 604.3 108.0 606.8 569.0 607.2 569.0 676.3 540.0 676.3 485.0 682.3 466.0 681.0 450.0 695.5 429.0 696.3 396.0 694.0 354.0 699.1 334.5 704.9 311.0 709.4 279.0 702.0 263.0 709.6 249.0 718.2 246.3 744.9 242.0 768.9 206.0 777.9 172.0 783.7 157.0 795.2 140.0 805.0 135.7 811.9 132.1 823.9 127.8 846.9 124.9 878.9 117.7 936.9 115.3 974.9 114.4 1039.9 86.0 1039.9 86.0 604.3Z" fill="#73b8ca"/>
<path d="M87.0 605.4 108.0 607.8 311.0 607.8 354.0 609.2 429.0 609.4 569.0 609.0 569.0 653.9 540.0 653.9 485.0 657.7 466.0 657.7 461.0 660.8 450.0 670.3 429.0 675.9 397.0 668.2 355.0 670.5 311.0 683.3 279.0 677.9 249.0 686.9 247.0 725.9 244.4 745.9 242.0 756.0 206.0 766.2 172.0 772.3 157.0 785.5 140.0 796.5 132.0 809.4 128.9 818.9 124.5 845.9 116.1 935.9 114.0 974.9 113.2 1039.9 86.0 1039.9 86.0 605.4Z" fill="#80c1cd"/>
<path d="M87.0 607.4 108.0 610.8 242.0 610.8 249.0 612.1 311.0 612.1 429.0 614.3 451.0 612.5 569.0 612.5 569.0 633.0 451.0 633.0 447.0 634.9 439.5 646.9 429.0 655.5 408.5 647.9 397.0 645.4 355.0 645.4 334.3 647.9 311.0 654.8 279.0 653.7 249.0 655.5 246.3 718.9 243.8 738.9 242.0 746.2 218.6 752.9 171.0 762.4 149.0 781.9 139.0 789.0 133.0 796.7 128.3 805.9 125.1 814.9 121.3 842.9 114.5 932.9 112.6 974.9 112.0 1039.9 86.0 1039.9 86.0 607.4Z" fill="#8ccad2"/>
<path d="M87.0 609.8 108.0 614.1 242.0 614.1 249.0 616.9 397.0 617.6 429.0 619.1 451.0 616.0 569.0 616.0 569.0 623.7 451.0 623.7 438.0 627.9 429.0 634.8 354.0 634.0 311.0 637.0 249.0 637.0 247.3 652.9 245.1 717.9 242.0 736.9 217.1 745.9 172.0 755.6 165.2 758.9 157.2 763.9 135.0 784.0 129.5 790.9 125.0 799.9 120.5 814.9 117.4 846.9 112.1 947.9 110.8 1039.9 86.0 1039.9 86.0 609.8Z" fill="#99d2d7"/>
<path d="M87.0 612.2 108.0 617.4 242.0 617.4 249.0 621.8 398.8 621.9 249.0 622.6 247.1 631.9 245.6 646.9 243.8 717.9 242.0 727.5 228.0 734.4 212.0 740.2 172.0 749.2 165.0 752.1 148.0 762.0 133.2 773.9 128.0 779.9 123.0 788.2 119.4 797.9 116.2 812.9 115.2 824.9 110.7 937.9 109.6 1039.9 86.0 1039.9 86.0 612.2Z" fill="#a5dadc"/>
<path d="M87.0 614.6 92.4 615.9 98.0 619.2 107.0 620.6 242.0 620.7 244.3 621.9 244.4 622.9 242.0 713.8 240.1 717.9 227.0 722.4 221.6 725.9 217.4 730.9 208.0 734.7 166.0 744.1 158.2 746.9 140.0 758.8 131.7 761.9 126.0 765.4 121.0 771.0 117.0 779.6 113.0 797.4 111.0 823.9 108.9 936.9 108.4 1039.9 86.0 1039.9 86.0 614.6Z" fill="#b5e2e4"/>
<path d="M88.5 591.6h1.3v4.3h-1.3zM93.8 591.6h1.3v6.1h-1.3zM98.6 591.6h1.3v4.5h-1.3zM104.1 591.6h1.3v3.3h-1.3zM109.1 591.6h1.3v5.0h-1.3zM115.6 591.6h1.3v2.9h-1.3zM119.6 591.6h1.3v2.9h-1.3zM126.2 591.6h1.3v5.2h-1.3zM128.9 591.6h1.3v6.4h-1.3zM136.2 591.6h1.3v5.1h-1.3zM141.8 591.6h1.3v3.2h-1.3zM144.3 591.6h1.3v4.6h-1.3zM147.1 591.6h1.3v3.3h-1.3zM150.8 591.6h1.3v2.7h-1.3zM155.7 591.6h1.3v4.3h-1.3zM162.4 591.6h1.3v4.6h-1.3zM168.1 591.6h1.3v4.5h-1.3zM173.9 591.6h1.3v4.3h-1.3zM177.8 591.6h1.3v6.4h-1.3zM185.3 591.6h1.3v5.8h-1.3zM191.3 591.6h1.3v3.8h-1.3zM194.9 591.6h1.3v3.7h-1.3zM197.8 591.6h1.3v5.5h-1.3zM202.3 591.6h1.3v5.8h-1.3zM206.7 591.6h1.3v6.3h-1.3zM213.5 591.6h1.3v2.6h-1.3zM217.0 591.6h1.3v6.1h-1.3zM221.9 591.6h1.3v6.3h-1.3zM226.4 591.6h1.3v2.8h-1.3zM232.0 591.6h1.3v5.6h-1.3zM235.9 591.6h1.3v2.9h-1.3zM240.0 591.6h1.3v6.3h-1.3zM246.3 591.6h1.3v3.0h-1.3zM250.0 591.6h1.3v3.0h-1.3zM252.8 591.6h1.3v5.6h-1.3zM256.2 591.6h1.3v4.7h-1.3zM261.0 591.6h1.3v3.3h-1.3zM267.1 591.6h1.3v3.1h-1.3zM272.8 591.6h1.3v3.0h-1.3zM277.4 591.6h1.3v3.4h-1.3zM281.3 591.6h1.3v6.3h-1.3zM287.8 591.6h1.3v3.7h-1.3zM294.7 591.6h1.3v3.4h-1.3zM299.2 591.6h1.3v5.9h-1.3zM304.9 591.6h1.3v3.0h-1.3zM312.4 591.6h1.3v3.4h-1.3zM316.2 591.6h1.3v5.5h-1.3zM320.3 591.6h1.3v3.7h-1.3zM323.2 591.6h1.3v2.9h-1.3zM328.6 591.6h1.3v3.5h-1.3zM334.1 591.6h1.3v4.0h-1.3zM338.9 591.6h1.3v6.3h-1.3zM343.8 591.6h1.3v4.8h-1.3zM350.6 591.6h1.3v3.3h-1.3zM353.9 591.6h1.3v6.1h-1.3zM360.5 591.6h1.3v3.5h-1.3zM363.9 591.6h1.3v5.4h-1.3zM371.1 591.6h1.3v3.3h-1.3zM378.4 591.6h1.3v6.0h-1.3zM383.9 591.6h1.3v4.2h-1.3zM386.9 591.6h1.3v2.7h-1.3zM394.2 591.6h1.3v3.5h-1.3zM400.2 591.6h1.3v3.6h-1.3zM406.9 591.6h1.3v4.9h-1.3zM410.8 591.6h1.3v3.2h-1.3zM416.9 591.6h1.3v2.8h-1.3zM420.6 591.6h1.3v4.7h-1.3zM427.3 591.6h1.3v4.9h-1.3zM431.2 591.6h1.3v6.1h-1.3zM434.8 591.6h1.3v2.6h-1.3zM438.6 591.6h1.3v4.3h-1.3zM441.4 591.6h1.3v3.2h-1.3zM445.7 591.6h1.3v4.8h-1.3zM448.9 591.6h1.3v4.0h-1.3zM455.9 591.6h1.3v6.3h-1.3zM461.6 591.6h1.3v5.2h-1.3zM467.1 591.6h1.3v3.1h-1.3zM469.7 591.6h1.3v2.6h-1.3zM476.8 591.6h1.3v5.3h-1.3zM484.1 591.6h1.3v2.6h-1.3zM489.8 591.6h1.3v4.4h-1.3zM495.9 591.6h1.3v3.8h-1.3zM503.4 591.6h1.3v2.9h-1.3zM508.7 591.6h1.3v5.4h-1.3zM515.7 591.6h1.3v5.4h-1.3zM521.7 591.6h1.3v5.6h-1.3zM528.8 591.6h1.3v3.9h-1.3zM534.7 591.6h1.3v6.0h-1.3z" fill="#fff" opacity="0.9"/>
<path d="M88.8 686.3 92.9 680.8 97.0 696.0 101.2 696.0 102.6 683.5 110.8 680.8 121.9 672.5 126.0 667.0M166.0 664.2 168.8 660.1 177.1 654.6 182.6 661.5 196.4 662.8 201.9 655.9 207.4 657.3 215.7 654.6 229.5 655.9 240.5 651.8 251.6 650.4 257.1 646.3 265.4 647.7 273.6 644.9 284.7 643.5 295.7 644.9 306.8 643.5 320.5 644.9 334.3 643.5 348.1 643.5 361.9 644.9 375.7 643.5 389.5 642.1 403.3 638.0 416.0 635.2M102.6 639.4 108.1 644.9 113.6 647.7 119.1 642.1 127.4 638.0 132.9 646.3 141.2 643.5 155.0 639.4 168.8 633.9 177.1 631.1 190.9 633.9 199.1 628.3 207.4 631.1 218.5 628.3 229.5 631.1 240.5 629.7 251.6 631.1 262.6 629.7 279.2 631.1 295.7 633.9 306.8 632.5 320.5 635.2 334.3 633.9 348.1 635.2 361.9 636.6 375.7 635.2 389.5 636.6 403.3 635.2 416.0 632.5M232.2 722.2 236.4 711.1 246.0 700.1 248.8 686.3 251.6 678.0 259.8 667.0 268.1 661.5 279.2 658.7 295.7 657.3 306.8 655.9 320.5 654.6 334.3 653.2 348.1 654.6 361.9 651.8 375.7 650.4 389.5 649.0 403.3 644.9 416.0 642.1M257.7 703.9 274.1 683.5 287.7 667.1 300.0 661.4M264.5 725.7 280.9 703.9 298.6 684.8 300.0 686.2M132.9 780.1 135.7 770.5 139.8 777.4 143.9 780.1 150.8 781.5 157.7 774.6 163.3 760.8 168.8 749.8 174.3 745.6 178.4 744.3M139.8 810.5 146.7 809.1 149.5 814.6 155.0 807.7 166.0 799.5 174.3 788.4 177.1 791.2 182.6 793.9 189.5 802.2 193.6 788.4 196.4 782.9 204.7 782.9 212.9 777.4 218.5 769.1 226.7 762.2M171.5 825.7 174.3 834.0 188.1 840.9 196.4 832.6 204.7 827.1 208.8 818.8 215.7 810.5 229.5 799.5 235.0 788.4 243.3 782.9 248.8 771.9 251.6 760.8M145.3 879.5 149.5 887.8 155.0 896.1 159.1 896.1 163.3 882.3 168.8 876.7 174.3 879.5 179.8 882.3 185.3 876.7 188.1 882.3 196.4 874.0 204.7 871.2 215.7 868.5 224.0 865.7 226.7 854.7 232.2 838.1 236.4 827.1 240.5 818.8 246.0 807.7 251.6 788.4 257.1 774.6 262.6 767.7 272.3 767.7M148.1 912.6 152.2 926.4 160.5 923.7 168.8 915.4 174.3 923.7 182.6 926.4 190.9 915.4 195.0 912.6 201.9 923.7 208.8 929.2 215.7 926.4 221.2 923.7 226.7 918.1 229.5 912.6 235.0 907.1 240.5 898.8 248.8 887.8 254.3 876.7 259.8 865.7 265.4 849.1 276.4 838.1 284.7 827.1 290.2 816.0 299.9 803.6M290.2 956.8 295.7 948.5 301.2 937.5 304.0 940.2M156.4 981.6 160.5 987.1 166.0 989.9M300.0 661.4 311.0 660.0 327.6 653.1 341.4 647.6 355.2 644.9 368.9 649.0 382.7 644.9 396.5 640.7 404.8 633.8 415.8 631.1 424.1 639.4 437.9 638.0 454.4 635.2 465.5 635.2 479.3 633.8 493.1 631.1 504.1 628.3 520.6 625.6 534.4 621.4 541.3 617.3M300.0 686.2 308.3 683.5 316.5 671.1 335.9 664.2 344.1 661.4 355.2 664.2 363.4 672.5 371.7 665.6 382.7 662.8 393.8 664.2 404.8 669.7 413.1 657.3 424.1 664.2 432.4 672.5 443.4 660.0 454.4 658.7 465.5 661.4 479.3 658.7 493.1 658.7 498.6 653.1 509.6 647.6 520.6 649.0 531.7 639.4 541.3 628.3M306.9 727.6 316.5 708.3 333.1 705.6 341.4 705.6 355.2 700.0 366.2 694.5 380.0 693.1 385.5 701.4 396.5 697.3 410.3 695.9 413.1 687.6 421.3 698.7 432.4 705.6 440.7 694.5 448.9 678.0 460.0 691.8 471.0 689.0 482.0 684.9 493.1 686.2 504.1 672.5 512.4 664.2 520.6 671.1 531.7 661.4 541.3 658.7M300.0 802.1 311.0 782.8 322.1 774.5 333.1 755.2 346.9 764.9 357.9 763.5 368.9 746.9 374.5 755.2M407.6 752.4 410.3 740.0 415.8 746.9 422.7 760.7 432.4 744.2 443.4 719.3 448.9 712.5 460.0 716.6 471.0 719.3 482.0 730.4 493.1 733.1 504.1 724.9 512.4 727.6 520.6 719.3 531.7 708.3 539.9 694.5M327.6 882.1 335.9 887.6 341.4 890.4 349.6 895.9 357.9 879.3 368.9 871.1 374.5 879.3 378.6 879.3 378.6 920.7M393.8 879.3 395.1 862.8 399.3 864.2 404.8 876.6 410.3 865.5 415.8 865.5 426.9 865.5 435.1 843.5 443.4 829.7 448.9 815.9 454.4 815.9 457.2 824.2M484.8 849.0 490.3 846.2 495.8 857.3 504.1 838.0 512.4 826.9 517.9 833.8 526.1 831.1 531.7 810.4 537.2 810.4 541.3 813.1M88.6 596.6 91.6 597.8 94.6 597.8 97.6 599.4 100.6 598.9 103.6 598.5 106.6 595.9 109.6 597.5 112.6 597.6 115.6 597.8 118.6 598.7 121.6 598.3 124.6 599.1 127.6 599.8 130.6 599.2 133.6 599.2 136.6 599.4 139.6 598.5 142.6 597.9 145.6 598.9 148.6 598.4 151.6 597.1 154.6 596.9 157.6 596.6 160.6 596.5 163.6 596.5 166.6 596.7 169.6 596.7 172.6 597.2 175.6 597.6 178.6 597.4 181.6 598.9 184.6 596.3 187.6 596.5 190.6 598.1 193.7 599.2 196.7 600.3 199.7 597.9 202.7 598.3 205.7 597.9 208.7 598.0 211.7 598.7 214.7 599.0 217.7 597.9 220.7 597.7 223.7 597.1 226.7 597.2 229.7 597.8 232.7 598.1 235.7 600.4 238.7 600.1 241.7 601.9 244.7 600.5 247.7 602.5 250.7 601.2 253.7 599.7 256.7 600.0 259.7 600.5 262.7 600.1 265.7 598.4 268.7 600.0 271.7 597.7 274.7 598.6 277.7 599.0 280.7 598.9 283.7 597.1 286.7 598.9 289.7 599.0 292.7 596.8 295.7 597.2 298.7 598.2 301.7 596.7 304.7 597.4 307.7 597.8 310.7 598.7 313.7 598.2 316.7 599.3 319.7 596.8 322.7 598.8 325.7 598.6 328.8 599.5 331.8 600.7 334.8 598.8 337.8 601.4 340.8 601.3 343.8 598.8 346.8 599.9 349.8 599.0 352.8 599.1 355.8 598.9 358.8 599.4 361.8 599.1 364.8 596.5 367.8 597.9 370.8 597.8 373.8 599.2 376.8 600.1 379.8 601.4 382.8 600.9 385.8 599.2 388.8 600.0 391.8 599.3 394.8 598.8 397.8 598.5 400.8 599.6 403.8 598.7 406.8 597.7 409.8 597.8 412.8 597.3 415.8 596.7 418.8 599.1 421.8 599.4 424.8 598.6 427.8 596.5 430.8 596.5 433.8 597.1 436.8 596.4 439.8 597.5 442.8 597.5 445.8 597.7 448.8 598.4 451.8 598.6 454.8 599.5 457.8 599.7 460.8 600.9 463.9 600.8 466.9 599.7 469.9 598.2 472.9 598.4 475.9 600.3 478.9 599.8 481.9 598.6 484.9 599.9 487.9 599.7 490.9 600.6 493.9 600.4 496.9 599.1 499.9 600.4 502.9 599.3 505.9 597.7 508.9 598.6 511.9 596.3 514.9 596.8 517.9 597.2 520.9 597.2 523.9 596.6 526.9 597.5 529.9 597.1 532.9 596.0 535.9 595.1 538.9 596.6M88.6 600.8 91.6 602.0 94.6 603.3 97.6 602.5 100.6 602.9 103.6 601.4 106.6 601.7 109.6 601.7 112.6 600.7 115.6 602.1 118.6 602.7 121.6 604.3 124.6 605.1 127.6 605.2 130.6 605.7 133.6 603.4 136.6 604.0 139.6 602.9 142.6 603.6 145.6 602.9 148.6 603.1 151.6 600.0 154.6 602.1 157.6 602.7 160.6 600.4 163.6 599.7 166.6 601.7 169.6 602.1 172.6 601.3 175.6 601.7 178.6 601.6 181.6 602.8 184.6 602.0 187.6 601.8 190.6 601.3 193.7 602.8 196.7 603.7 199.7 602.5 202.7 601.0 205.7 601.4 208.7 604.2 211.7 602.6 214.7 603.4 217.7 601.4 220.7 602.6 223.7 602.6 226.7 602.4 229.7 603.0 232.7 603.7 235.7 605.5 238.7 606.4 241.7 605.7 244.7 605.7 247.7 607.3 250.7 606.7 253.7 603.6 256.7 603.8 259.7 605.0 262.7 604.2 265.7 603.8 268.7 603.7 271.7 603.1 274.7 603.3 277.7 602.8 280.7 603.7 283.7 602.5 286.7 601.9 289.7 603.7 292.7 601.1 295.7 602.8 298.7 601.8 301.7 600.4 304.7 600.4 307.7 601.5 310.7 603.9 313.7 602.3 316.7 602.4 319.7 601.4 322.7 602.2 325.7 602.6 328.8 602.6 331.8 605.7 334.8 604.5 337.8 606.2 340.8 605.3 343.8 605.0 346.8 605.8 349.8 604.1 352.8 603.5 355.8 604.1 358.8 604.8 361.8 602.7 364.8 602.2 367.8 604.3 370.8 602.9 373.8 604.1 376.8 605.3 379.8 605.6 382.8 605.2 385.8 605.6 388.8 605.4 391.8 603.8 394.8 603.1 397.8 602.8 400.8 603.2 403.8 603.4 406.8 603.0 409.8 603.7 412.8 601.5 415.8 602.5 418.8 603.1 421.8 603.3 424.8 603.8 427.8 600.7 430.8 600.5 433.8 602.3 436.8 599.8 439.8 600.8 442.8 602.2 445.8 601.6 448.8 601.6 451.8 602.9 454.8 604.3 457.8 604.3 460.8 604.6 463.9 605.9 466.9 604.9 469.9 602.4 472.9 603.5 475.9 604.1 478.9 603.5 481.9 604.4 484.9 603.9 487.9 605.3 490.9 605.3 493.9 603.3 496.9 604.8 499.9 603.9 502.9 603.8 505.9 603.1 508.9 602.7 511.9 601.6 514.9 600.7 517.9 601.8 520.9 600.2 523.9 600.8 526.9 602.6 529.9 601.2 532.9 600.2 535.9 599.3 538.9 600.6M88.6 606.0 91.6 607.7 94.6 607.7 97.6 608.2 100.6 607.8 103.6 607.0 106.6 605.5 109.6 606.2 112.6 607.0 115.6 606.1 118.6 607.4 121.6 609.1 124.6 608.9 127.6 609.1 130.6 610.1 133.6 608.1 136.6 608.2 139.6 608.9 142.6 607.6 145.6 607.1 148.6 606.6 151.6 604.2 154.6 606.5 157.6 606.8 160.6 605.7 163.6 604.8 166.6 605.7 169.6 605.3 172.6 606.0 175.6 607.6 178.6 605.7 181.6 607.1 184.6 605.3 187.6 607.0 190.6 605.7 193.7 607.3 196.7 608.6 199.7 607.3 202.7 606.8 205.7 605.5 208.7 608.5 211.7 606.6 214.7 607.1 217.7 605.8 220.7 605.9 223.7 607.1 226.7 607.0 229.7 606.9 232.7 607.8 235.7 610.0 238.7 611.1 241.7 612.2 244.7 612.2 247.7 612.1 250.7 610.1 253.7 608.0 256.7 608.0 259.7 609.4 262.7 609.9 265.7 608.4 268.7 608.6 271.7 608.2 274.7 607.5 277.7 608.6 280.7 608.6 283.7 606.7 286.7 606.5 289.7 607.8 292.7 605.6 295.7 606.6 298.7 606.9 301.7 605.4 304.7 604.7 307.7 607.6 310.7 608.5 313.7 607.1 316.7 608.0 319.7 604.9 322.7 607.5 325.7 606.7 328.8 607.8 331.8 609.4 334.8 609.1 337.8 610.3 340.8 610.2 343.8 608.0 346.8 609.9 349.8 608.9 352.8 607.9 355.8 608.3 358.8 609.6 361.8 608.2 364.8 605.3 367.8 608.4 370.8 607.6 373.8 608.4 376.8 610.4 379.8 609.3 382.8 608.7 385.8 609.5 388.8 610.3 391.8 608.6 394.8 609.0 397.8 608.2 400.8 607.6 403.8 608.2 406.8 606.9 409.8 608.1 412.8 606.7 415.8 606.5 418.8 607.7 421.8 608.6 424.8 608.7 427.8 606.6 430.8 605.5 433.8 606.4 436.8 604.3 439.8 604.5 442.8 605.4 445.8 604.5 448.8 606.3 451.8 607.0 454.8 609.1 457.8 609.4 460.8 610.0 463.9 610.4 466.9 608.8 469.9 606.6 472.9 607.9 475.9 610.1 478.9 608.4 481.9 608.0 484.9 610.2 487.9 609.6 490.9 608.8 493.9 608.5 496.9 608.5 499.9 608.9 502.9 607.1 505.9 605.9 508.9 606.9 511.9 606.1 514.9 603.9 517.9 605.5 520.9 604.4 523.9 603.9 526.9 605.4 529.9 605.0 532.9 603.6 535.9 603.3 538.9 604.1M88.6 610.1 91.6 611.8 94.6 611.1 97.6 611.8 100.6 613.1 103.6 611.1 106.6 610.0 109.6 610.5 112.6 610.4 115.6 609.9 118.6 611.9 121.6 613.9 124.6 613.9 127.6 613.4 130.6 614.5 133.6 611.9 136.6 613.0 139.6 613.0 142.6 611.5 145.6 611.2 148.6 612.3 151.6 608.9 154.6 611.0 157.6 610.7 160.6 610.9 163.6 608.1 166.6 609.9 169.6 609.7 172.6 611.3 175.6 611.7 178.6 610.8 181.6 610.8 184.6 610.6 187.6 611.9 190.6 610.7 193.7 611.2 196.7 612.6 199.7 611.0 202.7 610.1 205.7 609.3 208.7 611.6 211.7 612.3 214.7 613.0 217.7 610.5 220.7 612.2 223.7 611.0 226.7 611.6 229.7 613.0 232.7 614.0 235.7 614.1 238.7 615.2 241.7 616.8 244.7 617.7 247.7 616.3 250.7 615.5 253.7 613.7 256.7 612.6 259.7 614.0 262.7 614.3 265.7 614.2 268.7 614.8 271.7 611.5 274.7 613.7 277.7 613.2 280.7 613.0 283.7 610.1 286.7 611.9 289.7 611.9 292.7 609.5 295.7 610.1 298.7 610.7 301.7 609.1 304.7 608.8 307.7 610.5 310.7 613.5 313.7 611.5 316.7 612.4 319.7 610.0 322.7 611.3 325.7 610.0 328.8 612.8 331.8 613.1 334.8 613.7 337.8 616.3 340.8 615.2 343.8 612.7 346.8 614.1 349.8 613.9 352.8 612.9 355.8 613.5 358.8 614.0 361.8 611.7 364.8 611.1 367.8 612.8 370.8 611.5 373.8 613.8 376.8 614.6 379.8 614.4 382.8 615.2 385.8 613.3 388.8 614.2 391.8 612.8 394.8 611.9 397.8 612.5 400.8 612.4 403.8 610.9 406.8 610.3 409.8 612.0 412.8 610.8 415.8 609.2 418.8 612.0 421.8 613.4 424.8 611.7 427.8 610.2 430.8 609.6 433.8 610.7 436.8 608.6 439.8 610.1 442.8 610.7 445.8 609.0 448.8 610.7 451.8 611.3 454.8 614.4 457.8 612.8 460.8 613.7 463.9 616.4 466.9 612.4 469.9 612.2 472.9 611.6 475.9 614.3 478.9 612.6 481.9 614.0 484.9 614.3 487.9 614.1 490.9 614.2 493.9 614.1 496.9 612.7 499.9 613.6 502.9 612.0 505.9 610.5 508.9 612.7 511.9 609.9 514.9 609.5 517.9 609.3 520.9 609.4 523.9 608.6 526.9 610.9 529.9 608.7 532.9 608.2 535.9 608.5 538.9 608.4M88.6 615.3 91.6 616.9 94.6 616.4 97.6 617.8 100.6 618.2 103.6 615.2 106.6 613.6 109.6 616.9 112.6 614.7 115.6 614.4 118.6 616.7 121.6 617.1 124.6 618.7 127.6 620.0 130.6 619.8 133.6 618.0 136.6 618.4 139.6 618.3 142.6 617.8 145.6 616.8 148.6 616.2 151.6 614.6 154.6 615.7 157.6 616.1 160.6 614.3 163.6 613.3 166.6 614.7 169.6 615.6 172.6 616.0 175.6 615.5 178.6 616.5 181.6 615.6 184.6 613.8 187.6 615.9 190.6 614.5 193.7 616.9 196.7 618.6 199.7 615.4 202.7 615.7 205.7 614.2 208.7 617.0 211.7 616.2 214.7 617.3 217.7 616.1 220.7 615.3 223.7 614.7 226.7 615.1 229.7 616.6 232.7 617.0 235.7 619.3 238.7 621.1 241.7 622.1 244.7 622.9 247.7 623.3 250.7 621.7 253.7 617.4 256.7 617.5 259.7 618.6 262.7 619.4 265.7 618.7 268.7 618.9 271.7 616.5 274.7 618.6 277.7 616.9 280.7 616.7 283.7 615.0 286.7 616.0 289.7 616.3 292.7 613.3 295.7 615.6 298.7 613.4 301.7 612.5 304.7 613.4 307.7 615.7 310.7 617.0 313.7 614.7 316.7 615.8 319.7 615.0 322.7 615.7 325.7 616.0 328.8 617.4 331.8 619.7 334.8 617.5 337.8 620.0 340.8 618.6 343.8 618.1 346.8 619.0 349.8 616.8 352.8 617.2 355.8 616.4 358.8 617.5 361.8 615.7 364.8 615.2 367.8 616.6 370.8 615.8 373.8 617.8 376.8 620.2 379.8 619.6 382.8 619.4 385.8 619.6 388.8 619.4 391.8 617.7 394.8 616.6 397.8 617.2 400.8 618.1 403.8 616.3 406.8 616.0 409.8 616.2 412.8 614.4 415.8 613.8 418.8 616.1 421.8 617.2 424.8 617.6 427.8 615.1 430.8 613.9 433.8 614.7 436.8 613.3 439.8 614.3 442.8 615.1 445.8 613.6 448.8 615.7 451.8 616.0 454.8 617.7 457.8 618.6 460.8 620.5 463.9 620.3 466.9 617.4 469.9 615.5 472.9 616.9 475.9 619.7 478.9 617.6 481.9 618.8 484.9 618.1 487.9 618.0 490.9 618.4 493.9 617.8 496.9 618.3 499.9 618.6 502.9 617.5 505.9 615.9 508.9 615.5 511.9 614.0 514.9 613.2 517.9 614.3 520.9 613.2 523.9 613.4 526.9 615.7 529.9 613.0 532.9 613.1 535.9 612.4 538.9 613.6M88.6 621.1 91.6 622.6 94.6 622.1 97.6 622.1 100.6 624.2 103.6 620.3 106.6 618.6 109.6 621.8 112.6 619.8 115.6 619.1 118.6 623.8 121.6 623.9 124.6 624.5 127.6 624.4 130.6 624.4 133.6 621.8 136.6 622.2 139.6 624.5 142.6 621.3 145.6 621.5 148.6 621.0 151.6 617.8 154.6 620.0 157.6 620.8 160.6 620.1 163.6 617.8 166.6 620.6 169.6 618.6 172.6 619.8 175.6 622.0 178.6 619.9 181.6 621.0 184.6 619.6 187.6 620.1 190.6 620.1 193.7 621.2 196.7 623.2 199.7 622.5 202.7 619.6 205.7 620.5 208.7 621.8 211.7 622.8 214.7 622.4 217.7 621.0 220.7 620.1 223.7 619.7 226.7 621.2 229.7 621.3 232.7 622.6 235.7 626.3 238.7 627.0 241.7 626.5 244.7 628.7 247.7 628.2 250.7 626.3 253.7 622.2 256.7 623.3 259.7 625.5 262.7 624.6 265.7 623.3 268.7 623.5 271.7 621.3 274.7 622.9 277.7 623.5 280.7 621.0 283.7 618.5 286.7 621.3 289.7 622.8 292.7 619.7 295.7 619.4 298.7 619.0 301.7 619.0 304.7 618.1 307.7 621.0 310.7 622.5 313.7 619.7 316.7 621.2 319.7 619.9 322.7 621.3 325.7 620.1 328.8 621.9 331.8 624.2 334.8 623.6 337.8 626.2 340.8 625.7 343.8 622.8 346.8 625.0 349.8 623.9 352.8 623.0 355.8 621.7 358.8 624.0 361.8 622.0 364.8 618.8 367.8 621.5 370.8 620.7 373.8 623.1 376.8 626.8 379.8 624.6 382.8 625.1 385.8 623.3 388.8 623.1 391.8 624.2 394.8 623.1 397.8 622.8 400.8 623.1 403.8 621.4 406.8 620.9 409.8 620.3 412.8 619.9 415.8 619.3 418.8 621.5 421.8 622.3 424.8 621.6 427.8 619.2 430.8 618.6 433.8 618.9 436.8 616.8 439.8 618.7 442.8 620.8 445.8 619.5 448.8 621.5 451.8 622.5 454.8 623.2 457.8 624.5 460.8 624.4 463.9 625.0 466.9 622.8 469.9 621.3 472.9 621.8 475.9 624.7 478.9 622.5 481.9 624.1 484.9 624.0 487.9 623.7 490.9 623.7 493.9 624.0 496.9 623.8 499.9 623.3 502.9 621.6 505.9 620.9 508.9 620.6 511.9 618.5 514.9 618.7 517.9 619.9 520.9 617.7 523.9 618.5 526.9 619.7 529.9 619.8 532.9 617.3 535.9 617.0 538.9 618.6M88.6 626.8 91.6 627.4 94.6 628.4 97.6 629.2 100.6 629.0 103.6 626.3 106.6 624.5 109.6 626.7 112.6 625.6 115.6 625.5 118.6 629.6 121.6 629.2 124.6 630.3 127.6 630.1 130.6 630.8 133.6 628.8 136.6 628.0 139.6 628.7 142.6 627.7 145.6 627.5 148.6 626.5 151.6 624.3 154.6 626.5 157.6 626.1 160.6 625.5 163.6 623.7 166.6 626.4 169.6 626.2 172.6 625.8 175.6 627.3 178.6 625.8 181.6 628.1 184.6 625.1 187.6 626.3 190.6 626.5 193.7 627.6 196.7 629.2 199.7 628.1 202.7 626.2 205.7 624.5 208.7 627.4 211.7 627.3 214.7 626.9 217.7 627.2 220.7 626.0 223.7 625.9 226.7 626.2 229.7 627.9 232.7 629.1 235.7 632.1 238.7 632.8 241.7 633.7 244.7 633.3 247.7 635.5 250.7 633.3 253.7 628.1 256.7 629.5 259.7 631.1 262.7 632.2 265.7 629.3 268.7 629.3 271.7 627.9 274.7 629.1 277.7 629.4 280.7 628.3 283.7 624.3 286.7 625.9 289.7 627.7 292.7 625.0 295.7 624.9 298.7 624.6 301.7 622.6 304.7 623.9 307.7 625.3 310.7 629.6 313.7 626.4 316.7 627.4 319.7 624.1 322.7 625.9 325.7 625.5 328.8 628.5 331.8 630.1 334.8 629.3 337.8 633.3 340.8 631.4 343.8 629.4 346.8 630.2 349.8 628.4 352.8 628.9 355.8 627.4 358.8 629.0 361.8 627.3 364.8 624.7 367.8 628.3 370.8 627.9 373.8 630.7 376.8 632.4 379.8 630.2 382.8 629.4 385.8 629.9 388.8 629.7 391.8 628.8 394.8 629.1 397.8 627.0 400.8 629.2 403.8 628.0 406.8 625.2 409.8 627.7 412.8 625.2 415.8 624.3 418.8 627.4 421.8 626.9 424.8 627.7 427.8 624.4 430.8 625.1 433.8 625.5 436.8 621.5 439.8 623.7 442.8 625.2 445.8 623.4 448.8 625.9 451.8 627.1 454.8 630.0 457.8 629.1 460.8 630.1 463.9 631.3 466.9 628.6 469.9 626.6 472.9 627.4 475.9 630.8 478.9 628.2 481.9 629.4 484.9 630.3 487.9 629.0 490.9 630.1 493.9 628.9 496.9 628.8 499.9 629.3 502.9 627.7 505.9 626.2 508.9 626.3 511.9 624.8 514.9 624.3 517.9 625.0 520.9 624.3 523.9 622.8 526.9 626.5 529.9 624.8 532.9 622.5 535.9 623.7 538.9 625.0M88.6 631.5 91.6 634.4 94.6 633.5 97.6 634.0 100.6 635.8 103.6 632.2 106.6 630.6 109.6 632.9 112.6 630.8 115.6 631.0 118.6 635.5 121.6 634.9 124.6 637.3 127.6 637.6 130.6 637.1 133.6 634.5 136.6 634.8 139.6 636.2 142.6 633.4 145.6 633.0 148.6 633.8 151.6 629.9 154.6 630.9 157.6 632.6 160.6 631.5 163.6 628.6 166.6 632.4 169.6 631.7 172.6 632.2 175.6 632.3 178.6 631.3 181.6 633.5 184.6 631.5 187.6 631.8 190.6 631.3 193.7 634.1 196.7 635.4 199.7 633.7 202.7 631.9 205.7 630.8 208.7 633.5 211.7 633.6 214.7 633.5 217.7 632.7 220.7 631.7 223.7 631.9 226.7 631.5 229.7 633.6 232.7 635.4 235.7 637.2 238.7 637.8 241.7 640.2 244.7 639.9 247.7 641.0 250.7 638.5 253.7 634.2 256.7 635.7 259.7 637.6 262.7 638.1 265.7 636.3 268.7 636.2 271.7 633.0 274.7 634.8 277.7 634.2 280.7 634.3 283.7 629.3 286.7 632.6 289.7 633.3 292.7 629.5 295.7 630.6 298.7 631.3 301.7 628.3 304.7 629.2 307.7 631.9 310.7 634.0 313.7 631.4 316.7 634.0 319.7 631.1 322.7 632.6 325.7 632.0 328.8 632.7 331.8 636.4 334.8 636.1 337.8 637.9 340.8 637.1 343.8 636.3 346.8 636.5 349.8 635.3 352.8 633.2 355.8 634.3 358.8 634.3 361.8 632.7 364.8 630.3 367.8 634.2 370.8 633.3 373.8 636.0 376.8 638.4 379.8 636.7 382.8 636.9 385.8 635.5 388.8 636.1 391.8 635.5 394.8 633.9 397.8 632.4 400.8 633.7 403.8 633.1 406.8 631.0 409.8 633.1 412.8 631.0 415.8 631.4 418.8 634.5 421.8 634.1 424.8 633.2 427.8 629.3 430.8 630.0 433.8 630.9 436.8 628.6 439.8 628.8 442.8 630.3 445.8 630.5 448.8 632.5 451.8 633.3 454.8 636.0 457.8 634.6 460.8 637.0 463.9 638.3 466.9 634.8 469.9 631.5 472.9 632.9 475.9 636.6 478.9 635.5 481.9 634.2 484.9 635.0 487.9 634.7 490.9 636.1 493.9 634.7 496.9 634.4 499.9 636.0 502.9 633.4 505.9 631.5 508.9 633.4 511.9 628.6 514.9 628.6 517.9 631.0 520.9 629.1 523.9 627.9 526.9 631.4 529.9 629.7 532.9 629.5 535.9 627.7 538.9 630.2M126.0 667.0 136.0 669.7 147.0 671.7 157.0 668.7 166.0 664.2M178.4 744.2 190.0 738.7 200.0 735.1 204.8 733.9 209.1 741.8 212.1 732.7 218.2 731.5 226.6 730.9 231.5 727.8 232.3 722.2M226.7 762.2 232.7 757.5 235.1 747.8 237.5 744.2 243.6 743.0 246.0 739.4 248.4 730.9 250.9 711.5 253.3 707.9 256.9 703.0 257.7 703.9M251.6 760.8 250.9 749.0 256.9 738.1 263.0 726.0 264.5 725.7M272.3 767.7 277.5 752.7 282.4 746.6 286.0 745.4 288.4 749.0 292.1 740.6 298.1 732.1 306.6 728.5 308.1 725.7M143.5 832.4 151.0 842.4 161.0 837.4 171.5 825.8M374.5 755.2 385.0 760.7 395.0 762.7 407.6 752.4M457.2 824.2 470.0 834.8 484.8 849.0M304.0 940.2 310.0 924.8 318.0 906.8 327.4 882.3" fill="none" stroke="#d3d3d3" stroke-width="1.8" stroke-linejoin="round"/>
</g>
<rect x="86.00" y="589.90" width="482.50" height="449.40" fill="none" stroke="#000" stroke-width="1.33"/>
<text x="86.00" y="1063.3" font-size="16.9" text-anchor="middle">0</text>
<text x="139.61" y="1063.3" font-size="16.9" text-anchor="middle">25</text>
<text x="193.22" y="1063.3" font-size="16.9" text-anchor="middle">50</text>
<text x="246.83" y="1063.3" font-size="16.9" text-anchor="middle">75</text>
<text x="300.44" y="1063.3" font-size="16.9" text-anchor="middle">100</text>
<text x="354.06" y="1063.3" font-size="16.9" text-anchor="middle">125</text>
<text x="407.67" y="1063.3" font-size="16.9" text-anchor="middle">150</text>
<text x="461.28" y="1063.3" font-size="16.9" text-anchor="middle">175</text>
<text x="514.89" y="1063.3" font-size="16.9" text-anchor="middle">200</text>
<text x="568.50" y="1063.3" font-size="16.9" text-anchor="middle">225</text>
<text x="74.33" y="596.0" font-size="16.9" text-anchor="end">0</text>
<text x="74.33" y="660.2" font-size="16.9" text-anchor="end">50</text>
<text x="74.33" y="724.4" font-size="16.9" text-anchor="end">100</text>
<text x="74.33" y="788.6" font-size="16.9" text-anchor="end">150</text>
<text x="74.33" y="852.8" font-size="16.9" text-anchor="end">200</text>
<text x="74.33" y="917.0" font-size="16.9" text-anchor="end">250</text>
<text x="74.33" y="981.2" font-size="16.9" text-anchor="end">300</text>
<text x="74.33" y="1045.4" font-size="16.9" text-anchor="end">350</text>
<path d="M86.00 1039.30v5.83 M139.61 1039.30v5.83 M193.22 1039.30v5.83 M246.83 1039.30v5.83 M300.44 1039.30v5.83 M354.06 1039.30v5.83 M407.67 1039.30v5.83 M461.28 1039.30v5.83 M514.89 1039.30v5.83 M568.50 1039.30v5.83 M86.00 589.90h-5.83 M86.00 654.10h-5.83 M86.00 718.30h-5.83 M86.00 782.50h-5.83 M86.00 846.70h-5.83 M86.00 910.90h-5.83 M86.00 975.10h-5.83 M86.00 1039.30h-5.83" stroke="#000" stroke-width="1.33" fill="none"/>
<text x="327.2" y="1086.3" font-size="16.95" font-weight="bold" text-anchor="middle">Along-transect distance (km)</text>
<text transform="translate(31.0,814.6) rotate(-90)" font-size="16.95" font-weight="bold" text-anchor="middle">Depth (m)</text>
<text x="327.2" y="579.4" font-size="20.55" text-anchor="middle">Oxygen concentration (µmol L<tspan font-size="14" dy="-8">−1</tspan><tspan dy="8">)</tspan></text>
<text x="0.3" y="569.2" font-size="28.5" font-weight="bold">C</text>
<rect x="598.60" y="589.90" width="22.70" height="449.40" fill="url(#gC)" stroke="#000" stroke-width="1.33"/>
<text x="632.97" y="1045.4" font-size="16.9">280</text>
<text x="632.97" y="989.2" font-size="16.9">300</text>
<text x="632.97" y="933.0" font-size="16.9">320</text>
<text x="632.97" y="876.8" font-size="16.9">340</text>
<text x="632.97" y="820.7" font-size="16.9">360</text>
<text x="632.97" y="764.5" font-size="16.9">380</text>
<text x="632.97" y="708.3" font-size="16.9">400</text>
<text x="632.97" y="652.1" font-size="16.9">420</text>
<text x="632.97" y="596.0" font-size="16.9">440</text>
<path d="M621.30 1039.30h5.83 M621.30 983.12h5.83 M621.30 926.95h5.83 M621.30 870.77h5.83 M621.30 814.60h5.83 M621.30 758.42h5.83 M621.30 702.25h5.83 M621.30 646.08h5.83 M621.30 589.90h5.83" stroke="#000" stroke-width="1.33" fill="none"/>
<g clip-path="url(#clipD)">
<rect x="739.4" y="589.9" width="482.4" height="449.4" fill="#070817"/>
<path d="M740.4 589.9 1222.4 589.9 1222.4 1010.2 1194.4 1010.2 1193.4 1009.4 1178.4 970.6 1160.4 950.5 1153.8 939.9 1147.9 927.9 1134.6 891.9 1125.4 853.3 1123.8 868.9 1121.6 878.9 1118.9 884.9 1114.5 889.9 1108.4 904.8 1105.2 924.9 1102.4 935.9 1099.5 942.9 1090.4 959.1 1089.4 1039.9 872.7 1039.9 872.7 979.9 871.9 973.9 870.4 966.9 865.9 958.9 862.0 947.9 856.9 919.9 853.4 907.8 849.4 903.6 845.9 897.9 835.4 869.3 826.4 853.3 812.5 824.9 802.4 799.9 791.4 794.1 778.3 799.9 775.4 807.3 774.4 814.8 774.0 1039.9 739.4 1039.9 739.4 589.9Z" fill="#0c0b1d"/>
<path d="M740.4 589.9 1222.4 589.9 1222.4 906.1 1194.4 906.1 1188.0 889.9 1184.4 886.7 1178.4 878.4 1167.4 874.2 1160.4 870.1 1156.5 862.9 1149.8 845.9 1146.4 829.9 1143.4 821.4 1142.4 819.6 1132.0 810.9 1125.4 801.0 1115.7 833.9 1108.4 849.7 1102.4 872.4 1098.4 881.3 1092.7 889.9 1090.4 897.9 1088.9 949.9 1088.0 1039.9 878.8 1039.9 878.7 978.9 873.8 938.9 869.1 919.9 859.6 893.9 853.4 866.1 841.4 833.9 837.5 814.9 835.4 811.3 830.1 806.9 824.9 798.9 818.4 791.9 805.4 784.5 791.4 773.3 775.4 780.1 774.4 781.9 772.6 799.9 772.1 1039.9 739.4 1039.9 739.4 589.9Z" fill="#100f23"/>
<path d="M740.4 589.9 1222.4 589.9 1222.4 877.0 1193.4 876.7 1185.4 868.1 1177.4 856.6 1170.4 850.9 1160.4 845.8 1154.7 835.9 1142.4 802.0 1129.6 784.9 1125.4 781.0 1123.4 784.9 1119.2 801.9 1107.4 831.1 1096.8 861.9 1090.4 874.7 1088.8 889.9 1087.9 925.9 1086.6 1039.9 884.9 1039.9 884.8 978.9 882.7 934.9 864.5 880.9 853.4 834.5 842.3 807.9 836.4 797.6 830.4 790.6 818.4 778.0 807.6 769.9 791.4 766.6 774.4 768.5 770.5 799.9 770.3 1039.9 739.4 1039.9 739.4 589.9Z" fill="#151229"/>
<path d="M740.4 589.9 1222.4 589.9 1222.4 862.2 1193.4 861.8 1178.4 841.0 1160.4 832.8 1148.8 806.9 1143.4 790.2 1125.4 773.2 1119.5 784.9 1114.8 798.9 1109.7 807.9 1100.5 833.9 1090.4 857.2 1087.1 889.9 1085.3 1039.9 889.9 1039.9 889.5 931.9 888.4 925.9 878.8 899.9 869.4 870.8 862.5 843.9 853.4 813.7 843.4 793.0 838.1 784.9 832.1 777.9 825.8 773.9 821.8 769.9 818.4 768.3 792.4 762.9 774.4 765.5 773.0 769.9 769.4 796.2 769.3 1039.9 739.4 1039.9 739.4 589.9Z" fill="#1a1631"/>
<path d="M740.4 589.9 1222.4 589.9 1222.4 849.3 1193.4 849.0 1177.4 829.7 1160.4 819.8 1152.7 804.9 1147.9 791.9 1142.4 780.8 1125.4 765.4 1116.0 783.9 1111.6 794.9 1104.9 806.9 1090.4 842.9 1088.6 851.9 1085.4 889.9 1083.9 1039.9 893.4 1039.9 893.4 934.9 891.4 920.3 888.4 905.0 877.9 874.9 853.4 792.9 849.1 784.9 841.2 776.9 828.3 768.9 818.4 764.8 792.4 759.2 774.4 762.5 772.0 769.9 769.4 789.1 769.0 1039.9 739.4 1039.9 739.4 589.9Z" fill="#1e1b39"/>
<path d="M740.4 589.9 1222.4 589.9 1222.4 840.6 1193.4 840.2 1177.4 819.3 1168.8 813.9 1160.4 810.1 1155.7 801.9 1142.4 773.0 1128.1 761.9 1125.4 760.5 1123.9 761.9 1096.5 814.9 1090.4 829.8 1086.2 851.9 1083.7 889.9 1082.5 1039.9 896.9 1039.9 896.9 934.9 894.3 911.9 889.5 887.9 862.7 799.9 856.4 783.9 849.7 776.9 843.4 772.4 831.2 765.9 821.4 762.2 802.5 757.9 792.4 756.8 774.4 759.5 771.1 769.9 769.4 782.0 768.8 1039.9 739.4 1039.9 739.4 589.9Z" fill="#241f43"/>
<path d="M740.4 589.9 1222.4 589.9 1222.4 831.9 1193.4 831.5 1177.4 808.9 1160.4 802.5 1143.4 768.5 1133.7 761.9 1125.4 757.8 1121.2 761.9 1116.9 769.9 1111.1 777.9 1101.7 796.9 1091.2 814.9 1087.8 827.9 1084.2 848.9 1082.0 889.9 1081.2 1039.9 900.3 1039.9 900.3 934.9 897.3 897.9 894.8 882.9 891.2 868.9 880.4 832.2 869.7 799.9 860.4 780.8 853.4 772.6 847.4 768.6 833.4 762.2 823.0 758.9 810.4 756.5 792.4 755.2 774.4 757.1 770.1 769.9 769.4 774.9 768.6 799.9 768.6 1039.9 739.4 1039.9 739.4 589.9Z" fill="#29234c"/>
<path d="M740.4 589.9 1222.4 589.9 1222.4 823.3 1193.4 822.8 1178.4 802.9 1160.4 794.9 1147.2 769.9 1143.4 764.9 1135.7 759.9 1125.4 755.0 1118.4 761.9 1113.4 770.2 1107.8 776.9 1087.4 814.9 1081.3 851.9 1080.3 889.9 1079.8 1039.9 903.8 1039.9 903.8 933.9 901.0 875.9 894.9 848.9 877.6 799.9 863.4 775.6 857.4 768.6 851.4 764.0 839.4 759.1 824.4 755.3 792.4 753.6 774.4 755.6 769.3 769.9 768.3 799.9 768.3 1039.9 739.4 1039.9 739.4 589.9Z" fill="#2e2857"/>
<path d="M740.4 589.9 1222.4 589.9 1222.4 814.7 1193.4 814.3 1178.4 796.9 1160.4 787.4 1150.1 769.9 1142.4 760.4 1125.4 752.2 1116.4 761.0 1104.3 776.9 1088.4 805.4 1084.0 814.9 1078.8 851.9 1078.4 1039.9 909.6 1039.9 909.6 874.9 905.7 849.9 901.1 829.9 888.4 806.8 883.4 794.9 877.7 784.9 864.4 766.8 853.7 757.9 835.4 753.7 792.4 752.0 774.4 754.2 769.4 767.0 769.1 769.9 768.1 799.9 768.1 1039.9 739.4 1039.9 739.4 589.9Z" fill="#332c63"/>
<path d="M740.4 589.9 1222.4 589.9 1222.4 808.5 1193.4 808.1 1178.4 791.0 1160.4 781.8 1151.5 767.9 1142.4 756.8 1125.4 749.4 1115.4 758.8 1100.9 776.9 1087.3 799.9 1082.4 810.2 1080.6 814.9 1078.4 831.4 1077.2 852.9 1077.2 1039.9 919.3 1039.9 919.3 874.9 918.5 829.9 907.9 816.9 881.9 774.9 869.5 761.9 853.4 754.1 841.5 751.9 792.4 750.4 774.4 752.7 769.4 764.9 768.8 769.9 767.9 799.9 767.9 1039.9 739.4 1039.9 739.4 589.9Z" fill="#373070"/>
<path d="M740.4 589.9 1222.4 589.9 1222.4 802.4 1193.4 802.0 1177.4 784.2 1160.4 777.3 1151.5 763.9 1142.4 753.3 1125.4 746.8 1115.1 755.9 1097.5 776.9 1085.2 795.9 1078.4 811.2 1076.1 851.9 1076.1 1039.9 920.7 1039.9 920.7 829.9 919.4 812.3 912.8 802.9 905.4 788.7 899.6 779.9 889.4 769.2 877.4 761.4 854.4 750.9 835.4 748.6 792.4 748.8 775.4 751.0 774.4 751.2 772.4 754.9 769.4 762.8 767.7 799.9 767.7 1039.9 739.4 1039.9 739.4 589.9Z" fill="#3b397e"/>
<path d="M740.4 589.9 1222.4 589.9 1222.4 796.3 1193.4 795.9 1177.4 778.3 1160.4 772.9 1153.0 761.9 1143.4 750.7 1125.4 744.4 1112.9 754.9 1098.4 771.4 1085.4 787.6 1078.4 801.0 1076.4 814.9 1074.9 851.9 1074.9 1039.9 921.3 1039.9 921.3 829.9 919.4 794.3 914.1 784.9 906.4 774.8 884.4 760.4 853.4 747.0 836.4 746.0 818.4 747.1 792.4 747.2 775.4 749.5 774.4 749.8 771.6 754.9 769.4 760.7 768.3 769.9 767.5 799.9 767.5 1039.9 739.4 1039.9 739.4 589.9Z" fill="#3e428c"/>
<path d="M740.4 589.9 1222.4 589.9 1222.4 790.2 1193.4 789.8 1178.4 774.2 1160.4 768.4 1151.4 756.1 1143.4 747.7 1125.4 742.1 1118.6 746.9 1109.7 754.9 1098.4 767.1 1090.4 777.3 1081.7 784.9 1078.4 790.8 1075.1 814.9 1073.8 851.9 1073.8 1039.9 921.9 1039.9 921.9 829.9 920.1 783.9 919.4 781.9 906.4 769.1 884.4 755.3 853.4 743.4 836.4 743.3 818.4 745.3 792.4 745.7 775.4 748.1 774.4 748.3 769.4 758.6 768.1 769.9 767.3 799.9 767.3 1039.9 739.4 1039.9 739.4 589.9Z" fill="#3f4b96"/>
<path d="M740.4 589.9 1222.4 589.9 1222.4 784.1 1193.4 783.7 1178.4 769.7 1160.4 763.9 1151.1 751.9 1143.4 744.7 1125.4 739.8 1116.4 746.1 1105.4 755.6 1090.4 772.5 1078.4 782.6 1077.4 784.7 1073.8 814.9 1072.6 851.9 1072.6 1039.9 922.6 1039.9 922.6 829.9 920.4 779.2 919.4 776.2 906.4 763.5 888.4 751.9 853.4 739.9 836.4 740.7 818.4 743.4 791.4 744.6 775.4 746.7 774.4 746.9 769.6 755.9 767.8 769.9 767.1 799.9 767.1 1039.9 739.4 1039.9 739.4 589.9Z" fill="#40539e"/>
<path d="M740.4 589.9 1222.4 589.9 1222.4 778.6 1193.4 778.3 1178.4 765.3 1160.4 759.7 1152.5 749.9 1143.4 741.6 1125.4 737.5 1101.9 754.9 1090.4 767.7 1078.4 777.4 1076.8 780.9 1075.0 788.9 1072.6 813.9 1071.5 851.9 1071.5 1039.9 923.2 1039.9 923.2 829.9 921.8 784.9 920.4 773.5 919.4 770.7 906.4 757.9 888.4 746.3 853.4 737.2 836.4 738.1 818.4 741.7 792.4 743.4 775.4 745.5 774.4 745.7 769.4 754.6 767.6 769.9 766.9 799.9 766.9 1039.9 739.4 1039.9 739.4 589.9Z" fill="#405ba6"/>
<path d="M740.4 589.9 1222.4 589.9 1222.4 773.7 1193.4 773.3 1178.4 760.9 1160.4 755.5 1152.4 746.2 1143.4 738.6 1125.4 735.2 1098.7 753.9 1090.4 762.9 1078.4 772.2 1075.8 777.9 1073.8 784.9 1071.9 804.9 1070.4 846.9 1070.3 1039.9 923.8 1039.9 923.8 829.9 922.6 784.9 920.4 767.8 919.4 765.1 906.4 752.3 901.4 748.9 888.4 743.6 853.4 734.6 836.4 735.5 818.4 740.1 775.4 744.3 774.4 744.5 769.4 753.1 767.4 769.9 766.7 799.9 766.7 1039.9 739.4 1039.9 739.4 589.9Z" fill="#3f61ad"/>
<path d="M740.4 589.9 1222.4 589.9 1222.4 768.7 1193.4 768.4 1178.4 756.4 1160.4 751.3 1152.6 742.9 1143.4 735.6 1125.4 732.9 1096.6 751.9 1090.4 758.1 1078.4 767.0 1074.6 774.9 1072.0 784.9 1069.8 820.9 1069.2 1039.9 924.5 1039.9 924.5 829.9 923.3 784.9 920.4 762.1 919.4 759.6 906.4 747.9 888.4 741.3 853.4 732.0 836.4 732.9 827.4 736.3 817.4 738.6 775.4 743.0 774.4 743.3 769.4 751.8 767.2 769.9 766.5 799.9 766.5 1039.9 739.4 1039.9 739.4 589.9Z" fill="#3f68b4"/>
<path d="M740.4 589.9 1222.4 589.9 1222.4 763.7 1193.4 763.4 1178.4 752.0 1160.4 747.2 1152.1 738.9 1143.4 732.5 1125.4 729.9 1107.4 742.1 1097.4 747.4 1080.6 759.9 1076.8 763.9 1073.4 771.2 1070.3 784.9 1068.6 814.9 1068.1 1039.9 925.1 1039.9 925.1 828.9 924.0 784.9 920.4 756.4 919.4 754.4 905.4 745.1 888.4 739.0 853.4 729.4 836.4 730.3 826.4 734.6 816.4 737.2 774.4 742.1 769.4 750.4 767.0 768.9 766.3 799.9 766.3 1039.9 739.4 1039.9 739.4 589.9Z" fill="#406fb7"/>
<path d="M740.4 589.9 1222.4 589.9 1222.4 758.7 1193.4 758.4 1178.4 747.8 1160.4 743.0 1152.9 735.9 1143.4 729.1 1125.4 726.7 1108.4 738.6 1097.4 743.6 1078.4 755.6 1075.2 759.9 1072.0 766.9 1068.5 784.9 1067.3 814.9 1066.9 1039.9 925.7 1039.9 925.7 828.9 924.7 784.9 921.2 754.9 919.4 751.8 905.4 742.8 888.4 736.7 853.4 726.8 836.4 727.7 826.4 732.7 815.4 735.8 774.4 740.9 769.4 749.0 768.0 754.9 766.8 768.9 766.1 799.9 766.1 1039.9 739.4 1039.9 739.4 589.9Z" fill="#4276ba"/>
<path d="M740.4 589.9 1222.4 589.9 1222.4 753.8 1193.4 753.6 1178.4 743.7 1160.4 738.8 1154.4 733.3 1143.4 725.6 1125.4 723.6 1116.4 729.0 1107.4 736.0 1097.4 739.8 1078.4 749.4 1073.8 753.9 1070.9 759.9 1068.5 768.9 1067.1 779.9 1066.0 813.9 1065.8 1039.9 926.3 1039.9 926.3 828.9 925.5 784.9 922.2 754.9 919.4 749.2 906.3 740.9 888.4 734.4 853.4 724.4 836.4 725.1 828.7 729.9 818.4 733.6 801.4 736.6 774.4 739.6 769.4 747.6 767.7 754.9 766.7 766.9 765.9 798.9 765.9 1039.9 739.4 1039.9 739.4 589.9Z" fill="#457ebd"/>
<path d="M740.4 589.9 1222.4 589.9 1222.4 749.7 1193.4 749.5 1178.4 739.5 1160.4 734.3 1152.4 727.8 1143.4 722.1 1125.4 720.4 1116.4 725.4 1107.4 731.8 1073.4 745.2 1070.3 747.9 1068.2 751.9 1066.0 764.9 1065.0 785.9 1064.6 1039.9 927.0 1039.9 927.0 828.9 926.2 784.9 923.3 754.9 919.4 746.7 906.4 738.6 888.4 732.1 853.4 722.8 836.4 723.4 827.0 728.9 818.4 732.1 799.4 735.6 774.4 738.4 769.4 746.2 767.6 753.9 766.6 763.9 765.7 798.9 765.7 1039.9 739.4 1039.9 739.4 589.9Z" fill="#4a87bf"/>
<path d="M740.4 589.9 1222.4 589.9 1222.4 745.5 1193.4 745.3 1178.4 735.3 1160.4 729.8 1143.4 718.6 1125.4 717.2 1107.4 727.7 1090.4 733.8 1078.4 736.8 1063.4 736.5 1047.4 739.9 1047.4 1039.9 927.6 1039.9 927.6 828.9 926.9 784.9 924.4 754.9 920.4 745.2 906.4 736.3 888.4 730.0 853.4 721.2 836.4 721.9 825.4 728.0 818.4 730.7 795.8 734.9 774.4 737.2 769.4 744.9 766.8 757.9 765.7 789.9 765.5 1039.9 739.4 1039.9 739.4 589.9Z" fill="#5090c1"/>
<path d="M740.4 589.9 1222.4 589.9 1222.4 741.4 1193.4 741.1 1178.4 731.2 1160.4 725.4 1143.4 715.1 1125.4 714.0 1107.4 723.5 1090.4 728.6 1077.4 729.9 1063.4 728.1 1034.4 732.6 1033.4 734.7 1031.9 739.9 1031.9 1039.9 928.2 1039.9 928.2 828.9 927.6 784.9 925.2 753.9 920.4 742.6 906.4 734.0 888.4 728.4 853.4 719.6 836.4 720.4 818.4 729.4 792.4 734.2 774.4 736.0 769.2 743.9 766.8 754.9 765.5 784.9 765.3 1039.9 739.4 1039.9 739.4 589.9Z" fill="#5599c3"/>
<path d="M740.4 589.9 1222.4 589.9 1222.4 737.2 1193.4 737.0 1178.4 727.1 1160.4 720.9 1142.4 711.4 1125.4 710.7 1107.4 719.3 1090.4 723.4 1078.4 723.1 1063.4 720.4 1034.4 723.2 1033.0 724.9 1028.6 739.9 1028.6 1039.9 928.9 1039.9 928.9 828.9 928.3 783.9 926.1 752.9 923.9 745.9 920.4 740.1 908.1 732.9 889.4 727.0 853.4 718.1 836.4 718.9 818.4 728.1 792.4 733.1 774.4 734.7 768.7 743.9 766.5 754.9 765.3 784.9 765.1 1039.9 739.4 1039.9 739.4 589.9Z" fill="#5ba1c4"/>
<path d="M740.4 589.9 1222.4 589.9 1222.4 733.0 1193.4 732.8 1178.4 723.5 1160.4 716.6 1142.4 707.9 1125.4 707.4 1107.4 715.3 1090.4 718.2 1063.4 713.1 1034.4 716.9 1028.9 724.9 1025.4 739.9 1025.4 1039.9 929.5 1039.9 929.2 795.9 928.1 763.9 926.6 749.9 924.2 742.9 920.4 737.5 907.4 730.7 890.4 725.5 853.4 716.5 835.4 717.7 819.4 726.3 811.4 728.3 792.4 732.0 774.4 733.5 768.5 742.9 766.2 754.9 765.1 784.9 764.9 1039.9 739.4 1039.9 739.4 589.9Z" fill="#62a9c6"/>
<path d="M740.4 589.9 1222.4 589.9 1222.4 729.3 1193.4 729.1 1178.4 719.8 1142.4 704.3 1125.4 704.1 1107.4 711.4 1090.4 713.0 1063.4 705.9 1034.4 710.7 1025.9 721.9 1022.1 739.9 1022.1 1039.9 930.1 1039.9 929.8 784.9 928.6 754.9 927.4 747.7 925.4 741.4 922.4 736.8 907.6 728.9 853.4 714.9 835.4 716.1 818.4 725.4 807.4 727.9 792.4 730.8 774.4 732.2 768.4 741.6 765.9 754.9 764.9 784.9 764.7 1039.9 739.4 1039.9 739.4 589.9Z" fill="#68b0c8"/>
<path d="M740.4 589.9 1222.4 589.9 1222.4 725.7 1193.4 725.5 1177.4 715.7 1142.4 700.8 1125.4 700.8 1107.4 707.5 1090.4 707.9 1077.4 703.3 1064.4 700.6 1034.4 705.5 1021.3 721.9 1018.9 739.9 1018.9 1039.9 930.8 1039.9 930.5 784.9 929.7 754.9 928.1 743.9 925.9 737.9 923.4 734.9 906.4 726.5 853.4 713.3 835.4 714.6 818.4 724.1 801.6 727.9 792.4 729.7 774.4 731.0 768.0 740.9 765.6 754.9 764.7 784.9 764.5 1039.9 739.4 1039.9 739.4 589.9Z" fill="#73b8ca"/>
<path d="M740.4 589.9 1222.4 589.9 1222.4 722.1 1193.4 721.9 1177.4 712.1 1156.4 702.3 1142.4 697.2 1125.4 697.4 1107.4 703.6 1090.4 702.7 1077.4 697.5 1064.4 696.0 1034.4 702.0 1029.0 706.9 1016.7 721.9 1015.7 739.9 1015.7 1039.9 931.4 1039.9 931.3 784.9 930.7 754.9 929.0 739.9 927.6 735.9 924.9 732.9 906.4 724.7 853.4 711.8 835.4 713.1 818.4 722.8 795.8 727.9 774.4 729.7 769.4 736.2 767.8 739.9 765.3 754.9 764.3 799.9 764.1 1039.9 739.4 1039.9 739.4 589.9Z" fill="#80c1cd"/>
<path d="M740.4 589.9 1222.4 589.9 1222.4 718.5 1193.4 718.3 1178.4 708.9 1160.4 699.9 1142.4 693.6 1125.4 694.3 1107.4 699.7 1090.4 697.5 1077.4 691.8 1064.4 691.4 1034.4 698.5 1026.3 705.9 1013.4 720.6 976.4 720.9 970.8 721.9 964.0 724.9 964.0 1039.9 932.1 1039.9 931.9 768.9 931.5 743.9 930.2 733.9 927.4 730.4 919.4 728.5 906.4 722.8 853.4 710.3 835.4 711.5 818.4 721.3 816.0 721.9 792.4 727.3 774.4 728.4 769.4 734.8 767.4 738.9 765.0 754.9 763.9 795.9 763.7 1039.9 739.4 1039.9 739.4 589.9Z" fill="#8ccad2"/>
<path d="M740.4 589.9 1222.4 589.9 1222.4 714.9 1193.4 714.7 1179.3 705.9 1161.8 696.9 1143.4 690.7 1125.4 692.0 1107.4 696.5 1089.4 693.3 1078.4 687.9 1064.4 686.9 1034.4 695.0 1012.4 716.7 976.4 716.7 932.4 723.2 925.6 725.9 920.4 726.7 902.4 719.7 859.1 709.9 850.4 708.9 835.4 709.8 818.4 719.5 808.9 721.9 792.4 725.7 774.4 726.9 767.9 735.9 765.7 743.9 763.4 797.3 761.0 814.9 761.0 1039.9 739.4 1039.9 739.4 589.9Z" fill="#99d2d7"/>
<path d="M740.4 589.9 1222.4 589.9 1222.4 711.2 1193.4 711.0 1180.1 702.9 1162.1 693.9 1143.4 688.0 1125.4 689.7 1107.4 693.8 1090.4 690.9 1078.4 685.8 1064.4 683.8 1033.8 691.9 1012.4 712.6 976.4 712.6 932.4 720.1 920.4 724.5 905.4 718.5 857.4 708.0 853.4 707.2 836.4 707.9 817.4 717.9 792.4 724.1 774.4 725.1 767.9 733.9 766.1 738.9 763.4 774.1 759.4 773.5 757.0 771.9 756.0 768.9 755.0 742.9 739.4 742.7 739.4 589.9Z" fill="#a5dadc"/>
<path d="M740.4 589.9 1222.4 589.9 1222.4 707.4 1193.4 707.1 1180.4 699.6 1160.4 690.0 1143.4 685.4 1125.4 687.4 1107.4 691.2 1090.4 688.3 1078.4 683.7 1064.4 681.2 1032.4 689.7 1028.9 691.9 1012.4 708.4 975.4 708.8 932.4 717.0 920.4 721.7 905.4 716.4 855.4 706.1 836.4 706.2 831.7 707.9 818.4 715.8 810.9 717.9 792.4 722.5 774.4 723.3 769.7 728.9 766.1 735.9 763.4 759.2 760.1 750.9 758.5 742.9 755.4 737.9 739.4 737.6 739.4 589.9Z" fill="#b5e2e4"/>
<path d="M740.4 589.9 1222.4 589.9 1222.4 703.5 1193.4 703.3 1180.4 696.2 1160.4 686.9 1143.4 682.8 1125.4 685.0 1107.4 688.6 1090.4 685.7 1078.4 681.6 1063.4 678.5 1029.4 688.0 1025.1 690.9 1022.2 694.9 1012.4 704.3 976.4 705.3 965.4 707.0 932.4 713.2 920.4 718.9 904.4 714.1 853.4 704.2 835.4 704.7 829.4 706.8 818.4 713.9 804.3 717.9 792.4 720.8 774.4 721.4 767.3 729.9 765.3 735.9 763.4 748.1 760.3 739.9 755.4 733.0 739.4 732.8 739.4 589.9Z" fill="#c4eaeb"/>
<path d="M740.4 589.9 1222.4 589.9 1222.4 699.7 1193.4 699.5 1164.4 685.0 1143.4 680.2 1107.4 686.0 1090.4 683.1 1063.4 675.8 1053.4 677.6 1025.5 685.9 1021.4 688.9 1018.1 694.9 1012.4 700.1 975.4 702.1 945.4 706.6 932.4 709.1 920.4 716.2 903.4 711.9 855.4 702.9 836.4 702.9 831.4 703.6 825.7 705.9 822.2 709.9 818.4 712.1 807.1 713.9 800.7 716.9 792.4 719.2 773.8 719.9 766.4 727.5 763.4 739.0 755.4 724.5 739.4 724.3 739.4 589.9Z" fill="#d3f1f2"/>
<path d="M740.4 589.9 1222.4 589.9 1222.4 695.8 1193.4 695.7 1188.4 690.3 1177.3 687.9 1174.0 683.9 1171.4 682.3 1150.4 678.1 1135.4 678.1 1107.4 683.4 1099.4 681.3 1090.4 680.5 1084.4 678.0 1076.1 676.9 1073.8 674.9 1070.4 673.7 1055.4 673.4 1043.5 674.9 1039.4 676.8 1036.6 679.9 1019.4 682.9 1016.2 685.9 1014.1 694.9 1012.4 695.9 947.4 700.6 938.3 703.9 925.4 706.6 920.4 713.4 913.4 711.0 903.9 709.9 898.0 707.9 888.4 707.2 881.2 704.9 870.4 704.1 863.4 701.8 831.4 701.4 822.4 703.0 820.5 704.9 818.4 710.2 800.4 711.5 796.4 713.1 793.9 716.9 792.4 717.4 774.4 717.7 770.9 718.9 769.4 722.2 764.4 722.3 763.2 717.9 760.6 715.9 739.4 715.3 739.4 589.9Z" fill="#e8fbfb"/>
<path d="M755.4 618.1 756.6 619.9 757.8 621.3 759.0 623.3 760.2 623.1 761.4 625.3 762.6 620.5 763.8 623.2 764.9 626.1 766.0 623.9 767.2 625.3 768.3 619.9 769.4 622.0 770.6 620.4 771.7 622.1 772.9 621.7 774.1 617.4 775.3 618.1 776.5 617.9 777.8 621.5 779.0 619.9 780.2 616.4 781.4 621.0 782.6 617.1 783.8 620.8 785.0 618.0 786.2 617.6 787.4 623.6 788.7 619.6 789.9 619.9 791.1 625.3 792.3 624.9 793.5 621.3 794.7 625.3 795.9 622.1 797.1 622.5 798.4 618.9 799.6 623.3 800.8 621.2 802.0 621.8 803.2 620.2 804.4 615.0 805.6 614.2 806.8 611.7 808.0 610.4 809.3 609.7 810.5 611.1 811.7 612.9 812.9 608.8 814.1 613.1 815.3 610.7 816.4 612.7 817.5 618.3 818.6 618.2 819.7 619.3 820.8 622.6 821.9 623.9 823.0 619.6 824.2 625.5 825.3 619.1 826.4 623.8 827.6 624.3 828.7 618.7 829.8 623.7 831.0 620.1 832.1 620.7 833.2 616.2 834.4 615.6 835.5 615.7 836.7 620.0 837.8 614.2 838.9 617.1 840.1 618.0 841.2 617.9 842.3 613.7 843.5 613.6 844.6 614.5 845.7 615.9 846.9 611.3 848.0 615.3 849.1 616.0 850.3 616.9 851.4 611.9 852.6 618.4 853.7 613.2 854.8 615.3 856.0 617.5 857.1 620.0 858.2 615.7 859.4 619.1 860.5 616.2 861.6 614.2 862.8 613.8 863.9 612.4 865.0 611.3 866.2 611.3 867.3 615.3 868.5 617.8 869.6 612.8 870.7 612.5 871.9 619.1 873.0 616.6 874.1 616.2 875.3 615.5 876.4 617.8 877.5 619.2 878.7 616.6 879.8 616.3 880.9 613.8 882.1 619.3 883.2 613.4 884.3 616.3 885.5 618.9 886.6 614.6 887.8 618.9 888.9 620.7 890.0 618.9 891.2 620.3 892.3 616.1 893.4 618.6 894.6 616.5 895.7 620.9 896.8 617.0 898.0 617.9 899.1 621.2 900.2 620.0 901.4 620.6 902.5 616.9 903.7 616.7 904.8 617.9 905.9 615.8 907.1 614.1 908.2 614.3 909.3 612.2 910.5 613.3 911.6 616.8 912.7 616.2 913.9 613.5 915.0 612.3 916.1 610.7 917.3 608.6 918.4 609.4 919.6 612.3 920.7 612.4 921.8 609.8 923.0 613.2 924.1 613.8 925.2 614.0 926.4 614.5 927.5 615.8 928.6 613.9 929.8 616.8 930.9 614.2 932.0 615.8 933.2 617.9 934.3 617.6 935.4 615.2 936.6 619.7 937.7 618.0 938.9 617.8 939.9 613.3 941.0 616.1 942.1 613.4 943.2 615.5 944.3 613.4 945.4 615.0 946.5 613.1 947.6 613.4 948.7 609.7 949.8 610.9 951.0 612.5 952.2 614.0 953.4 611.7 954.6 615.9 955.8 617.0 957.0 616.7 958.2 618.3 959.3 618.0 960.4 614.9 961.6 614.7 962.7 612.1 963.8 616.3 965.0 616.7 966.1 613.5 967.2 620.3 968.3 626.0 969.4 631.5 970.5 633.3 971.6 642.7 973.4 612.3 974.5 612.5 975.6 610.6 976.8 611.5 977.9 612.2 979.0 610.0M755.4 639.0 756.6 641.1 757.8 638.1 759.0 640.4 760.2 641.7 761.4 642.5 762.6 639.0 763.8 641.5 765.0 640.5 766.3 636.0 767.4 638.1 768.5 635.7 769.7 633.7 770.8 633.5 771.9 633.9 773.1 632.2 774.2 631.5 775.3 629.6 776.5 632.0 777.6 631.0 778.7 632.1 779.9 631.5 781.0 628.7 782.2 632.6 783.3 626.2 784.4 628.4 785.6 627.8 786.7 628.9 787.8 627.2 789.0 632.2 790.1 629.4 791.2 627.4 792.4 631.4 793.5 628.2 794.6 632.1 795.7 631.6 796.8 634.1 797.9 637.5 799.0 637.5 800.0 633.4 801.1 634.6 802.2 632.0 803.3 628.7 804.4 625.8 805.6 627.9 806.8 626.8 808.0 628.4 809.3 627.6 810.5 624.3 811.7 621.7 812.8 626.0 813.9 620.8 815.1 622.2 816.2 625.9 817.4 626.9 818.5 624.4 819.6 628.3 820.8 630.7 821.9 627.1 823.0 627.2 824.2 625.7 825.3 625.9 826.4 630.1 827.6 626.0 828.7 629.6 829.8 629.1 831.0 627.0 832.1 624.8 833.2 629.5 834.4 626.3 835.5 625.8 836.7 625.1 837.8 629.5 838.9 626.3 840.1 624.2 841.2 624.8 842.3 621.8 843.5 624.4 844.6 622.6 845.7 620.9 846.9 623.4 848.0 623.0 849.1 618.4 850.3 622.5 851.4 621.4 852.6 626.5 853.7 626.2 854.8 623.3 856.0 624.1 857.1 624.1 858.2 629.3 859.4 624.5 860.5 626.4 861.6 625.3 862.8 626.2 863.9 625.7 865.0 626.4 866.2 622.0 867.3 626.2 868.5 623.2 869.6 624.7 870.7 623.4 871.9 623.2 873.0 624.7 874.1 624.3 875.3 623.6 876.4 626.4 877.5 625.6 878.7 622.1 879.8 623.8 880.9 625.4 882.1 628.6 883.2 628.7 884.3 626.6 885.5 623.1 886.6 628.2 887.8 625.9 888.9 626.8 890.0 627.7 891.2 627.2 892.3 626.2 893.4 629.1 894.6 625.5 895.7 625.4 896.8 628.3 898.0 623.9 899.1 624.4 900.2 627.8 901.4 622.7 902.5 627.6 903.7 626.4 904.8 624.3 905.9 623.0 907.1 625.9 908.2 626.4 909.3 621.0 910.5 622.9 911.6 623.0 912.7 623.1 913.9 622.5 915.0 621.8 916.1 625.1 917.3 627.0 918.4 622.6 919.6 624.1 920.7 628.4 921.8 628.3 923.0 627.4 924.1 623.2 925.2 627.8 926.4 629.5 927.5 629.6 928.6 627.7 929.8 623.4 930.9 628.8 932.0 624.9 933.2 628.0 934.3 630.2 935.4 628.9 936.6 625.3 937.7 626.6 938.9 630.9 940.0 625.4 941.1 628.0 942.3 626.2 943.4 624.1 944.5 626.7 945.7 622.4 946.8 622.4 947.9 623.7 949.1 622.6 950.2 623.4 951.3 627.7 952.5 629.8 953.6 631.6 954.8 627.6 955.9 630.4 957.0 630.6 958.2 631.8 959.3 630.4 960.4 632.6 961.6 628.2 962.7 625.5 963.8 629.0 965.0 624.7 966.1 627.2 967.2 625.9 968.4 628.1 969.5 625.3 970.6 625.3 971.8 622.5 972.9 624.0 974.1 621.5 975.2 624.4 976.5 622.2 977.7 619.1 979.0 620.9M755.4 709.0 759.0 706.3 764.4 701.7 771.7 704.5 775.3 694.5 780.8 692.7 786.2 695.4 793.5 689.9 799.0 691.7 802.6 686.3 808.0 684.5 815.3 703.6 818.9 691.7 826.2 675.4 831.7 673.6 838.9 669.9 844.4 680.8 848.0 666.3 853.5 677.2 858.9 679.0 866.2 679.0 869.8 673.6 877.1 675.4 882.5 684.5 888.0 699.0 893.4 693.6 898.9 697.2 906.2 693.6 913.4 704.5 917.1 717.2 920.7 706.3 924.3 689.9 931.6 689.9 938.9 684.5 946.1 677.2 953.4 684.5 962.5 679.0 969.7 688.1 975.2 682.7 979.0 682.7M975.0 608.2 976.2 609.0 977.4 611.2 978.6 607.4 979.8 610.8 981.1 610.3 982.3 606.3 983.4 611.1 984.4 608.2 985.5 609.3 986.6 613.3 987.7 611.9 988.8 617.6 989.9 616.4 991.0 616.8 992.1 621.4 993.2 617.8 994.3 625.3 995.3 623.8 996.4 627.3 997.5 635.5 998.6 636.6 999.8 630.6 1001.0 626.8 1002.3 629.5 1003.3 623.4 1004.4 620.5 1005.5 612.0 1006.6 611.2 1007.7 605.4 1008.9 604.0 1010.1 604.0 1011.3 605.3 1012.4 605.0 1013.5 606.7 1014.6 606.5 1015.7 612.5 1016.8 612.8 1017.9 614.2 1019.0 612.1 1020.1 615.2 1021.1 613.4 1022.2 614.2 1023.4 622.0 1024.7 630.9 1025.9 636.5 1027.1 627.3 1028.3 619.6 1029.5 613.5 1030.6 613.1 1031.8 619.4 1032.9 617.4 1034.0 619.9 1035.2 615.5 1036.3 619.3 1037.5 622.8 1038.6 621.7 1039.7 620.0 1040.9 619.8 1042.0 616.9 1043.1 616.8 1044.3 616.4 1045.4 617.3 1046.5 617.0 1047.7 619.8 1048.8 614.7 1049.9 615.2 1051.1 615.1 1052.2 614.1 1053.4 614.7 1054.5 614.1 1055.6 615.5 1056.8 612.4 1057.9 618.5 1059.0 615.0 1060.2 619.0 1061.3 617.6 1062.4 617.7 1063.6 616.6 1064.7 620.0 1065.8 614.7 1067.0 616.5 1068.1 612.2 1069.2 613.0 1070.4 611.5 1071.5 605.9 1072.7 604.4 1073.8 601.4 1074.9 600.9 1076.0 600.3 1077.1 602.8 1078.2 606.9 1079.3 603.3 1080.4 603.3 1081.6 604.9 1082.8 604.3 1084.0 607.9 1085.1 608.7 1086.3 605.9 1087.4 607.4 1088.6 611.1 1089.7 613.8 1090.8 612.8 1092.0 612.3 1093.1 616.8 1094.2 608.5 1095.3 607.1 1096.4 610.0 1097.5 605.8 1098.5 601.5 1099.8 607.9 1101.0 613.8 1102.2 613.7 1103.3 611.9 1104.5 609.6 1105.6 608.7 1106.7 613.5 1107.9 610.2 1109.0 612.4 1110.1 605.9 1111.3 606.5 1112.4 605.9 1113.5 608.9 1114.7 607.3 1115.8 609.3 1116.9 611.0 1118.1 611.0 1119.2 610.0 1120.3 610.6 1121.5 616.3 1122.6 610.6 1123.8 612.3 1124.9 611.2 1126.0 611.6 1127.2 608.2 1128.3 609.2 1129.4 607.4 1130.5 609.9 1131.6 612.0 1132.7 609.5 1133.8 610.9 1134.9 606.3 1136.1 606.8 1137.3 612.1 1138.5 613.5 1139.7 613.6 1140.8 611.9 1141.9 613.1 1143.1 613.3 1144.2 614.1 1145.3 609.6 1146.5 610.1 1147.6 612.1 1148.7 607.9 1149.9 607.0 1151.0 608.1 1152.1 606.4 1153.3 610.6 1154.4 610.7 1155.6 607.2 1156.7 605.7 1157.8 605.6 1159.0 606.9 1160.1 606.1 1161.2 608.6 1162.4 609.8 1163.5 607.9 1164.6 606.9 1165.8 611.3 1166.9 606.8 1168.0 607.6 1169.2 607.9 1170.3 608.2 1171.4 606.2 1172.6 608.1 1173.7 607.2 1174.9 609.8 1176.0 608.8 1177.1 611.2 1178.3 609.9 1179.4 610.8 1180.5 609.8 1181.7 609.2 1182.8 611.8 1183.9 611.0 1185.0 613.0 1186.2 611.5 1187.3 611.3 1188.4 608.5 1189.5 612.0 1190.6 609.2 1191.7 607.5 1192.8 607.1 1193.9 610.0M975.0 616.9 976.2 617.4 977.4 619.9 978.6 617.2 979.8 615.6 981.1 620.1 982.3 618.5 983.4 615.2 984.4 615.6 985.5 616.3 986.6 617.9 987.7 621.4 988.8 622.8 989.9 621.3 991.0 619.5 992.1 621.5 993.2 621.8 994.3 624.9 995.3 626.0 996.4 633.1 997.5 637.9 998.6 640.6 999.7 632.0 1000.8 630.5 1001.9 623.8 1003.0 623.0 1004.1 616.9 1005.3 618.3 1006.5 615.6 1007.7 609.3 1008.9 608.8 1010.1 610.9 1011.3 606.1 1012.5 607.1 1013.8 608.4 1015.0 611.7 1016.2 614.1 1017.4 612.6 1018.6 616.7 1019.8 615.8 1021.0 614.0 1022.2 620.2 1023.4 619.1 1024.7 618.2 1025.9 625.9 1027.0 620.1 1028.1 624.1 1029.3 623.9 1030.4 627.0 1031.5 624.3 1032.7 623.6 1033.8 624.4 1035.0 624.4 1036.1 626.5 1037.2 624.9 1038.4 627.3 1039.5 623.7 1040.6 624.2 1041.8 623.3 1042.9 627.9 1044.0 626.8 1045.3 626.5 1046.5 624.7 1047.7 623.0 1048.9 621.0 1050.1 625.2 1051.3 622.6 1052.5 620.9 1053.7 622.9 1054.9 623.7 1056.2 629.0 1057.4 631.4 1058.6 628.0 1059.8 631.3 1061.0 627.6 1062.2 629.4 1063.4 629.9 1064.6 627.8 1065.8 628.3 1067.0 625.3 1068.1 622.7 1069.2 625.7 1070.4 626.0 1071.5 623.1 1072.7 624.2 1073.8 623.5 1074.9 621.4 1076.1 624.0 1077.2 625.1 1078.3 626.4 1079.5 628.6 1080.6 627.3 1081.7 631.8 1082.9 631.4 1084.0 632.8 1085.1 630.8 1086.3 630.2 1087.4 628.9 1088.6 630.1 1089.7 626.8 1090.8 627.9 1092.0 628.0 1093.1 626.5 1094.2 625.4 1095.4 624.5 1096.5 625.0 1097.6 627.2 1098.8 629.1 1099.9 630.8 1101.0 630.9 1102.2 628.7 1103.3 632.6 1104.5 628.0 1105.6 630.7 1106.7 626.2 1107.9 630.5 1109.0 629.7 1110.1 631.4 1111.3 630.8 1112.4 630.1 1113.5 631.7 1114.7 631.8 1115.8 631.6 1116.9 629.6 1118.1 632.4 1119.2 635.5 1120.3 631.9 1121.5 635.8 1122.6 632.1 1123.8 630.2 1124.9 626.7 1126.0 628.3 1127.2 626.0 1128.3 628.3 1129.4 629.0 1130.6 629.9 1131.7 628.9 1132.8 628.3 1134.0 627.4 1135.1 632.1 1136.2 632.1 1137.4 634.1 1138.5 632.8 1139.7 635.9 1140.8 631.3 1141.9 631.6 1143.1 631.2 1144.2 633.3 1145.3 634.9 1146.5 629.8 1147.6 632.7 1148.7 633.5 1149.9 630.0 1151.0 628.9 1152.1 632.2 1153.3 634.0 1154.4 634.3 1155.6 633.3 1156.7 631.2 1157.8 632.2 1159.0 633.8 1160.1 637.2 1161.2 634.1 1162.4 634.9 1163.5 637.9 1164.6 641.2 1165.8 637.0 1166.9 635.7 1168.0 636.1 1169.2 638.8 1170.3 638.8 1171.4 635.8 1172.6 635.7 1173.7 638.1 1174.9 638.2 1176.0 638.5 1177.1 638.7 1178.3 634.3 1179.4 637.1 1180.5 639.4 1181.7 640.3 1182.8 636.0 1183.9 639.5 1185.0 638.0 1186.2 639.6 1187.3 634.8 1188.4 637.7 1189.5 638.5 1190.6 635.9 1191.7 633.2 1192.8 633.6 1193.9 635.4M975.0 682.9 976.1 682.0 977.3 681.5 978.4 683.0 979.5 680.0 980.7 682.2 981.8 681.5 982.9 681.1 984.1 680.4 985.2 680.0 986.4 680.9 987.5 681.1 988.6 679.6 989.8 681.1 990.9 677.2 992.0 677.2 993.2 677.1 994.3 678.2 995.5 679.5 996.7 680.4 997.8 681.9 999.0 682.7 1000.2 680.3 1001.3 682.2 1002.7 677.4 1004.1 671.2 1005.3 668.2 1006.5 668.6 1007.7 665.7 1008.9 665.3 1010.1 662.7 1011.3 662.9 1012.4 661.4 1013.5 656.0 1014.6 657.7 1015.7 656.0 1016.8 652.7 1018.0 652.8 1019.2 655.3 1020.4 655.7 1021.6 658.3 1022.8 660.0 1024.1 658.5 1025.9 670.8 1027.7 648.1 1028.9 649.3 1030.1 650.0 1031.3 649.4 1032.5 648.4 1033.7 648.9 1035.0 651.5 1036.1 650.5 1037.2 648.8 1038.4 651.0 1039.5 650.6 1040.6 653.0 1041.8 650.8 1042.9 652.1 1044.0 651.8 1045.3 653.2 1046.5 655.2 1047.7 652.9 1048.9 651.9 1050.1 654.0 1051.3 649.9 1052.4 654.0 1053.5 659.0 1054.6 658.3 1055.7 664.6 1056.8 665.7 1057.8 664.9 1058.9 666.6 1060.0 668.3 1061.1 668.7 1062.2 670.0 1063.4 665.5 1064.6 663.8 1065.8 664.8 1067.1 657.6 1068.3 652.9 1069.5 646.3 1070.7 653.2 1071.9 662.3 1073.1 667.1 1074.3 658.5 1075.5 648.6 1076.7 642.2 1078.0 646.4 1079.2 647.2 1080.4 650.4 1081.6 649.9 1082.8 647.0 1084.0 645.1 1085.2 646.7 1086.4 650.8 1087.6 658.4 1088.7 653.9 1089.8 653.1 1090.9 650.0 1092.0 647.5 1093.1 642.1 1094.2 644.7 1095.4 643.4 1096.5 643.8 1097.6 640.2 1098.8 642.8 1099.9 641.0 1101.0 643.2 1102.2 643.1 1103.3 640.1 1104.5 641.4 1105.6 641.2 1106.7 642.6 1107.9 642.2 1109.0 644.3 1110.1 642.4 1111.3 643.0 1112.4 643.4 1113.5 640.8 1114.7 641.2 1115.8 642.7 1116.9 641.7 1118.1 637.7 1119.2 636.0 1120.3 638.7 1121.5 639.3 1122.6 637.7 1123.8 635.6 1124.9 636.1 1126.0 639.1 1127.2 639.2 1128.3 635.1 1129.4 635.8 1130.6 637.4 1131.7 637.1 1132.8 639.7 1134.0 638.5 1135.1 640.7 1136.2 638.4 1137.4 640.5 1138.5 643.0 1139.7 642.9 1140.8 641.3 1141.9 642.5 1143.1 646.1 1144.2 646.0 1145.3 647.1 1146.5 648.7 1147.6 650.3 1148.7 650.5 1149.9 645.6 1151.0 645.5 1152.1 642.5 1153.3 642.2 1154.4 641.5 1155.6 637.2 1156.7 637.2 1157.8 639.5 1159.0 637.8 1160.1 642.5 1161.2 642.3 1162.4 644.1 1163.5 645.9 1164.6 648.1 1165.8 646.1 1166.9 647.9 1168.0 645.6 1169.2 646.9 1170.3 646.5 1171.4 644.9 1172.6 645.9 1173.7 646.3 1174.9 647.0 1176.0 648.0 1177.1 645.3 1178.3 645.8 1179.4 646.4 1180.5 647.2 1181.7 647.0 1182.8 646.9 1183.9 643.6 1185.0 643.6 1186.2 647.7 1187.3 644.4 1188.4 646.7 1189.5 648.6 1190.6 648.3 1191.7 648.2 1192.8 651.3 1193.9 650.0M1092.9 932.8 1095.3 910.3 1097.8 885.2 1105.3 880.2 1110.2 860.1 1120.2 855.2 1127.8 845.2 1132.9 832.7 1140.4 840.2 1147.9 825.2 1155.3 850.3 1160.4 860.3 1165.3 840.2 1170.4 812.7 1175.5 820.3 1180.4 832.7 1185.5 840.2 1190.4 842.8 1193.0 832.7 1194.1 860.3M845.2 930.2 850.1 940.3 857.6 960.4 865.2 950.3 872.7 930.2 875.2 920.2 880.3 950.3 882.7 960.4" fill="none" stroke="#d3d3d3" stroke-width="1.8" stroke-linejoin="round"/>
</g>
<rect x="739.40" y="589.90" width="482.40" height="449.40" fill="none" stroke="#000" stroke-width="1.33"/>
<text x="739.40" y="1063.3" font-size="16.9" text-anchor="middle">0</text>
<text x="827.11" y="1063.3" font-size="16.9" text-anchor="middle">50</text>
<text x="914.82" y="1063.3" font-size="16.9" text-anchor="middle">100</text>
<text x="1002.53" y="1063.3" font-size="16.9" text-anchor="middle">150</text>
<text x="1090.24" y="1063.3" font-size="16.9" text-anchor="middle">200</text>
<text x="1177.95" y="1063.3" font-size="16.9" text-anchor="middle">250</text>
<text x="727.73" y="596.0" font-size="16.9" text-anchor="end">0</text>
<text x="727.73" y="670.9" font-size="16.9" text-anchor="end">50</text>
<text x="727.73" y="745.8" font-size="16.9" text-anchor="end">100</text>
<text x="727.73" y="820.7" font-size="16.9" text-anchor="end">150</text>
<text x="727.73" y="895.6" font-size="16.9" text-anchor="end">200</text>
<text x="727.73" y="970.5" font-size="16.9" text-anchor="end">250</text>
<text x="727.73" y="1045.4" font-size="16.9" text-anchor="end">300</text>
<path d="M739.40 1039.30v5.83 M827.11 1039.30v5.83 M914.82 1039.30v5.83 M1002.53 1039.30v5.83 M1090.24 1039.30v5.83 M1177.95 1039.30v5.83 M739.40 589.90h-5.83 M739.40 664.80h-5.83 M739.40 739.70h-5.83 M739.40 814.60h-5.83 M739.40 889.50h-5.83 M739.40 964.40h-5.83 M739.40 1039.30h-5.83" stroke="#000" stroke-width="1.33" fill="none"/>
<text x="980.6" y="1086.3" font-size="16.95" font-weight="bold" text-anchor="middle">Along-transect distance (km)</text>
<text transform="translate(684.4,814.6) rotate(-90)" font-size="16.95" font-weight="bold" text-anchor="middle">Depth (m)</text>
<text x="980.6" y="579.4" font-size="20.55" text-anchor="middle">Oxygen concentration (µmol L<tspan font-size="14" dy="-8">−1</tspan><tspan dy="8">)</tspan></text>
<text x="676.5" y="568.9" font-size="28.5" font-weight="bold">D</text>
<rect x="1252.30" y="589.90" width="22.20" height="449.40" fill="url(#gD)" stroke="#000" stroke-width="1.33"/>
<text x="1286.17" y="1000.4" font-size="16.9">160</text>
<text x="1286.17" y="910.6" font-size="16.9">180</text>
<text x="1286.17" y="820.7" font-size="16.9">200</text>
<text x="1286.17" y="730.8" font-size="16.9">220</text>
<text x="1286.17" y="640.9" font-size="16.9">240</text>
<path d="M1274.50 994.36h5.83 M1274.50 904.48h5.83 M1274.50 814.60h5.83 M1274.50 724.72h5.83 M1274.50 634.84h5.83" stroke="#000" stroke-width="1.33" fill="none"/>
<g clip-path="url(#clipE)">
<rect x="86.0" y="1126.6" width="482.5" height="449.4" fill="#d2f6c9"/>
<path d="M87.0 1126.6 569.0 1126.6 569.0 1576.6 86.0 1576.6 86.0 1126.6Z" fill="#c7efbc"/>
<path d="M87.0 1126.6 569.0 1126.6 569.0 1233.6 541.0 1233.6 528.0 1237.8 505.0 1243.3 483.0 1247.5 471.0 1250.9 449.0 1254.2 440.0 1257.1 408.0 1253.6 390.0 1249.1 369.0 1245.5 311.0 1255.8 278.0 1246.6 267.6 1241.6 247.0 1234.0 241.0 1228.5 235.7 1216.6 232.0 1209.7 231.0 1209.3 183.0 1209.3 117.9 1216.6 92.0 1228.6 86.0 1230.2 86.0 1126.6Z" fill="#bce8ae"/>
<path d="M87.0 1126.6 569.0 1126.6 569.0 1222.9 541.0 1222.9 492.6 1229.6 483.0 1232.5 477.0 1237.2 470.0 1241.0 457.0 1245.4 436.0 1245.1 408.0 1238.4 369.0 1232.2 353.0 1237.3 335.0 1241.7 311.0 1244.5 268.0 1231.9 255.0 1226.3 245.0 1218.5 238.8 1210.6 234.1 1201.6 232.0 1199.8 183.0 1199.1 161.3 1200.6 140.0 1203.2 86.0 1212.6 86.0 1126.6Z" fill="#b1e1a1"/>
<path d="M87.0 1126.6 569.0 1126.6 569.0 1215.4 541.0 1215.4 483.0 1223.8 472.2 1228.6 462.1 1235.6 457.0 1237.9 440.0 1238.7 407.0 1229.2 369.0 1224.6 341.4 1229.6 324.0 1235.0 311.0 1237.4 279.0 1227.9 253.0 1218.0 246.0 1211.6 238.0 1200.6 232.0 1196.4 182.0 1194.5 107.0 1200.6 86.0 1203.6 86.0 1126.6Z" fill="#a6db94"/>
<path d="M87.0 1126.6 569.0 1126.6 569.0 1209.1 534.7 1209.6 483.0 1216.9 469.0 1222.0 457.0 1228.5 440.0 1231.8 408.0 1220.2 369.0 1218.6 333.0 1225.0 311.0 1231.4 289.0 1224.8 254.0 1212.5 242.8 1200.6 232.0 1193.1 214.0 1192.9 182.0 1189.9 109.0 1196.9 86.0 1198.2 86.0 1126.6Z" fill="#9ad48a"/>
<path d="M87.0 1126.6 569.0 1126.6 569.0 1205.7 541.0 1205.7 483.0 1210.1 466.1 1214.6 457.0 1218.3 440.0 1217.8 426.0 1213.5 408.0 1210.4 369.0 1212.6 333.0 1219.0 311.0 1225.4 271.0 1213.0 254.0 1206.5 245.0 1198.6 232.0 1189.8 215.0 1189.7 182.0 1187.3 153.2 1188.6 108.0 1193.5 86.0 1194.2 86.0 1126.6Z" fill="#8ecd80"/>
<path d="M96.0 1128.5 569.0 1128.0 569.0 1202.3 541.0 1202.3 515.0 1204.9 483.0 1205.5 457.0 1211.7 440.0 1207.2 407.0 1204.0 346.6 1210.6 333.0 1213.0 311.0 1219.4 282.0 1211.6 254.0 1201.6 240.3 1191.6 232.0 1187.5 182.0 1185.9 135.8 1187.6 107.0 1190.0 86.0 1190.2 86.0 1129.3 95.3 1128.6Z" fill="#83c677"/>
<path d="M106.0 1130.5 569.0 1130.4 569.0 1198.9 541.0 1198.9 515.0 1201.8 483.0 1200.9 457.0 1207.8 440.0 1202.0 407.0 1200.0 333.0 1208.1 311.0 1214.2 289.0 1209.2 254.0 1197.6 244.0 1190.6 232.0 1186.0 182.0 1184.5 108.0 1187.5 86.0 1187.4 86.0 1132.6 105.2 1130.6Z" fill="#77bf6d"/>
<path d="M107.0 1132.5 514.0 1133.3 569.0 1132.4 569.0 1195.5 541.0 1195.5 515.0 1198.7 483.0 1196.3 457.0 1203.9 440.0 1196.8 408.0 1195.9 333.0 1204.2 311.0 1209.7 290.0 1205.0 257.0 1194.7 244.7 1188.6 232.0 1184.6 182.0 1183.1 108.0 1186.1 86.0 1185.8 86.0 1134.4 106.5 1132.6Z" fill="#68b868"/>
<path d="M105.0 1134.5 183.0 1135.1 232.0 1133.8 311.0 1134.3 369.0 1136.9 514.0 1136.9 539.0 1134.1 569.0 1134.0 569.0 1192.9 540.0 1192.9 515.0 1195.6 483.0 1192.7 457.0 1200.0 440.0 1192.8 407.3 1192.6 333.0 1200.3 311.0 1205.2 267.0 1194.3 232.0 1183.2 182.0 1181.6 108.0 1184.6 86.0 1184.2 86.0 1136.2 104.5 1134.6Z" fill="#5ab163"/>
<path d="M224.0 1135.6 311.0 1136.1 370.0 1139.9 515.0 1139.7 524.0 1137.4 540.0 1135.7 569.0 1135.6 569.0 1191.4 541.0 1191.4 515.0 1193.0 483.0 1190.8 457.0 1196.8 440.0 1190.8 407.0 1190.4 338.0 1195.8 311.0 1200.7 277.0 1194.0 232.0 1181.7 182.0 1180.2 108.0 1183.2 86.0 1182.6 86.0 1138.0 108.0 1136.1 140.0 1136.1 182.0 1137.5 223.6 1135.6Z" fill="#4bab5e"/>
<path d="M219.0 1137.5 232.0 1136.7 254.0 1137.9 311.0 1137.9 369.0 1141.6 407.0 1141.6 514.0 1140.6 540.0 1137.0 569.0 1136.9 569.0 1190.0 541.0 1190.0 515.0 1191.6 483.0 1188.8 457.0 1195.0 440.0 1188.9 407.0 1188.1 333.0 1193.0 311.0 1196.9 287.0 1193.8 254.0 1186.4 232.0 1180.3 182.0 1178.8 108.0 1181.8 86.0 1180.9 86.0 1139.7 108.0 1137.9 140.0 1137.9 183.0 1139.7 218.2 1137.6Z" fill="#3ca45a"/>
<path d="M226.0 1138.6 232.0 1138.1 254.0 1139.6 311.0 1139.7 369.0 1143.3 407.0 1143.4 440.0 1142.9 457.0 1141.6 483.0 1142.7 515.0 1141.5 540.0 1137.9 569.0 1137.8 569.0 1188.6 541.0 1188.6 515.0 1190.2 483.0 1186.9 457.0 1193.3 440.0 1186.9 407.0 1185.8 369.0 1187.2 333.0 1191.0 311.0 1194.9 290.0 1192.2 232.0 1178.9 182.0 1177.3 108.0 1180.4 86.0 1179.3 86.0 1141.0 108.0 1139.6 183.0 1141.0 225.6 1138.6Z" fill="#309e57"/>
<path d="M541.0 1138.6 569.0 1138.6 569.0 1187.2 541.0 1187.2 515.0 1188.9 483.0 1184.9 457.0 1191.6 439.0 1184.9 408.0 1183.6 369.0 1184.4 333.0 1189.0 311.0 1193.1 290.0 1190.0 232.0 1177.5 182.0 1175.9 108.0 1178.9 86.0 1177.7 86.0 1142.3 108.0 1140.7 183.0 1142.3 232.0 1139.5 254.0 1140.8 311.0 1141.3 369.0 1145.1 408.0 1145.1 440.0 1144.4 457.0 1142.6 483.0 1144.1 515.0 1142.4 540.5 1138.6Z" fill="#249954"/>
<path d="M539.0 1139.5 569.0 1139.3 569.0 1185.7 541.0 1185.7 515.0 1187.5 483.0 1183.0 457.0 1189.9 440.0 1183.1 408.0 1181.3 353.0 1184.5 333.0 1187.1 311.0 1191.2 290.0 1187.9 232.0 1176.0 214.0 1176.0 182.0 1174.1 108.0 1177.5 86.0 1176.1 86.0 1143.6 108.0 1141.9 183.0 1143.6 232.0 1140.4 254.0 1141.9 311.0 1142.9 369.0 1146.8 407.0 1146.8 440.0 1146.0 457.0 1143.6 483.0 1145.5 515.0 1143.4 538.6 1139.6Z" fill="#1a9352"/>
<path d="M538.0 1140.5 569.0 1140.1 569.0 1184.3 541.0 1184.3 515.0 1186.1 483.0 1181.1 457.0 1188.2 440.0 1181.1 408.0 1179.1 344.0 1183.8 311.0 1189.4 232.0 1174.9 182.0 1172.1 108.0 1176.1 86.0 1174.0 86.0 1144.9 107.0 1143.1 182.0 1144.9 232.0 1141.2 254.0 1143.0 311.0 1144.5 369.0 1148.5 407.0 1148.5 440.0 1147.5 457.0 1144.5 483.0 1146.9 515.0 1144.3 537.0 1140.6Z" fill="#128d51"/>
<path d="M536.0 1141.5 569.0 1140.9 569.0 1182.9 541.0 1182.9 515.0 1184.8 494.0 1181.8 483.0 1179.2 475.0 1182.3 457.0 1186.5 445.6 1182.6 439.0 1179.0 408.0 1176.8 386.0 1179.7 333.0 1183.2 311.0 1187.5 290.6 1183.6 267.0 1180.5 245.0 1175.0 183.0 1170.2 108.0 1174.4 86.0 1171.6 86.0 1146.2 107.0 1144.2 182.0 1146.2 214.0 1144.2 232.0 1142.0 254.0 1144.2 290.0 1146.1 311.0 1146.1 369.0 1150.2 407.0 1150.2 440.0 1149.0 457.0 1145.5 483.0 1148.4 515.0 1145.2 535.6 1141.6Z" fill="#0e864f"/>
<path d="M535.0 1142.5 541.0 1141.6 569.0 1141.6 569.0 1181.4 541.0 1181.4 515.0 1183.4 495.0 1180.7 483.0 1177.1 473.1 1181.6 457.0 1184.7 446.2 1181.6 439.0 1177.0 408.0 1174.4 380.0 1178.8 333.0 1181.3 311.0 1185.7 270.0 1179.8 260.8 1177.6 252.0 1174.2 183.0 1168.2 108.0 1172.4 86.0 1169.2 86.0 1147.5 107.0 1145.4 182.0 1147.5 214.0 1145.3 232.0 1142.9 253.0 1145.3 290.0 1147.8 311.0 1147.8 369.0 1151.9 407.0 1151.9 440.0 1150.5 457.0 1146.5 483.0 1149.8 515.0 1146.1 534.2 1142.6Z" fill="#117e4d"/>
<path d="M540.0 1142.5 569.0 1142.4 569.0 1179.9 541.0 1179.9 515.0 1182.4 494.0 1179.1 483.0 1174.7 478.0 1178.3 473.0 1180.4 457.0 1183.8 446.7 1180.6 439.0 1175.0 408.0 1172.0 396.0 1175.1 382.0 1177.3 369.0 1178.6 333.0 1179.3 311.0 1183.8 271.0 1178.9 259.4 1175.6 253.0 1172.0 231.0 1171.9 214.0 1169.2 183.0 1166.2 108.0 1170.4 86.0 1166.8 86.0 1148.8 107.0 1146.5 182.0 1148.8 214.0 1146.5 232.0 1143.7 253.0 1146.4 290.0 1149.4 311.0 1149.4 369.0 1153.6 407.0 1153.6 440.0 1152.0 457.0 1147.4 483.0 1151.2 515.0 1147.1 539.2 1142.6Z" fill="#14764c"/>
<path d="M538.0 1143.6 569.0 1143.2 569.0 1178.2 541.0 1178.2 515.0 1181.5 494.0 1177.7 483.0 1172.3 474.0 1178.8 457.0 1183.0 446.0 1179.0 440.0 1173.3 408.0 1169.6 394.7 1173.6 378.0 1176.4 369.0 1177.4 333.0 1176.8 327.0 1178.9 311.0 1182.0 289.0 1180.7 273.0 1178.2 261.0 1174.6 253.0 1169.6 232.0 1171.0 214.0 1167.5 182.0 1164.1 108.0 1168.4 86.0 1164.4 86.0 1153.1 88.0 1153.1 91.5 1149.6 107.0 1147.6 167.6 1149.6 182.0 1153.0 188.1 1149.6 214.0 1147.6 232.0 1144.6 253.0 1147.5 289.0 1150.9 311.0 1151.0 347.4 1154.6 408.0 1156.2 440.0 1153.6 457.0 1148.4 475.0 1151.0 483.0 1153.2 491.0 1151.1 515.0 1148.0 537.8 1143.6Z" fill="#176e4a"/>
<path d="M537.0 1144.5 569.0 1143.9 569.0 1176.5 541.0 1176.5 530.0 1178.9 515.0 1180.7 495.0 1176.6 488.0 1173.6 483.0 1169.9 477.1 1175.6 473.7 1177.6 457.0 1182.3 446.0 1177.7 440.0 1171.3 408.0 1167.2 391.0 1172.7 370.0 1176.2 347.0 1175.2 333.0 1172.9 326.0 1177.4 317.0 1179.4 311.0 1180.3 290.0 1180.0 267.0 1175.4 261.0 1172.8 257.0 1169.1 253.0 1167.3 245.0 1168.9 232.0 1170.0 214.0 1165.8 186.1 1162.6 200.7 1150.6 203.2 1149.6 215.0 1148.6 232.0 1145.4 280.0 1152.1 313.0 1152.9 324.0 1154.7 333.0 1157.4 380.0 1156.8 397.0 1158.2 408.0 1160.9 440.0 1155.4 447.0 1152.1 457.0 1149.4 475.8 1152.6 483.0 1157.1 490.3 1152.6 536.6 1144.6ZM101.0 1149.5 108.0 1148.8 130.5 1149.6 173.0 1162.6 108.0 1166.4 90.3 1162.6 100.6 1149.6Z" fill="#196648"/>
<path d="M538.0 1145.4 569.0 1144.7 569.0 1174.8 541.0 1174.8 530.0 1177.7 515.0 1179.8 495.0 1175.2 489.6 1172.6 483.0 1167.5 473.1 1176.6 457.0 1181.5 446.2 1176.6 440.0 1169.3 412.9 1165.6 411.5 1164.6 439.0 1158.9 444.4 1154.6 457.0 1150.3 472.6 1153.6 478.0 1156.6 483.0 1161.1 488.0 1156.2 496.0 1152.8 537.2 1145.6ZM230.0 1146.5 251.0 1149.4 255.0 1152.2 265.0 1154.1 289.0 1155.2 312.0 1154.7 324.0 1157.4 333.0 1161.3 346.0 1158.9 369.0 1157.6 393.0 1160.0 401.0 1162.1 406.1 1164.6 404.0 1166.2 387.0 1171.8 370.0 1175.0 347.0 1173.2 333.0 1169.0 327.0 1174.6 319.6 1177.6 311.0 1179.2 290.0 1179.2 277.0 1177.0 267.0 1174.1 263.9 1172.6 259.8 1167.6 254.0 1165.0 244.0 1167.6 232.0 1169.1 223.0 1167.2 214.0 1164.1 201.1 1162.6 214.0 1152.0 215.6 1149.6 229.5 1146.6ZM107.0 1152.0 108.0 1151.6 134.6 1162.6 108.0 1164.4 99.3 1162.6 106.6 1152.6Z" fill="#1a5f43"/>
<path d="M538.0 1146.6 569.0 1145.9 569.0 1173.1 541.0 1173.1 529.4 1176.6 515.0 1178.9 504.0 1176.7 495.0 1173.7 483.9 1165.6 483.6 1164.6 489.7 1157.6 496.0 1154.5 537.8 1146.6ZM229.0 1147.6 232.0 1147.1 247.0 1149.6 250.8 1154.6 252.8 1162.6 245.0 1165.9 232.0 1168.1 222.0 1165.7 215.0 1162.6 216.3 1155.6 218.6 1150.6 219.7 1149.6 228.8 1147.6ZM456.0 1151.6 464.2 1152.6 473.0 1156.0 478.1 1159.6 482.0 1164.6 481.8 1165.6 477.0 1169.7 472.5 1175.6 466.0 1178.4 457.0 1180.7 446.5 1175.6 440.0 1167.3 428.2 1165.6 426.9 1164.6 440.0 1161.7 445.9 1155.6 455.9 1151.6ZM310.0 1156.6 324.0 1160.2 330.3 1163.6 331.8 1165.6 327.8 1171.6 319.0 1176.2 311.0 1178.1 290.0 1178.4 269.2 1173.6 267.2 1172.6 265.9 1168.6 263.6 1165.6 254.8 1162.6 260.0 1160.3 269.0 1158.8 309.3 1156.6ZM358.0 1159.6 369.0 1158.8 380.0 1159.8 392.0 1162.0 399.8 1164.6 399.5 1165.6 387.0 1169.8 369.0 1174.0 350.0 1171.4 334.0 1165.6 334.1 1164.6 341.0 1162.1 357.5 1159.6Z" fill="#1a583e"/>
<path d="M539.0 1147.5 569.0 1147.1 569.0 1171.4 541.0 1171.4 530.0 1175.2 515.0 1178.0 498.0 1173.6 488.3 1165.6 488.1 1164.6 493.3 1157.6 498.0 1155.4 507.0 1153.0 538.6 1147.6ZM229.0 1148.4 232.0 1147.9 243.7 1150.6 249.0 1157.6 248.1 1162.6 240.7 1165.6 232.0 1167.2 225.6 1165.6 218.9 1162.6 218.1 1157.6 220.6 1152.6 223.7 1149.6 228.2 1148.6ZM457.0 1152.3 465.4 1154.6 472.0 1157.6 475.0 1159.6 478.4 1164.6 470.2 1175.6 457.0 1180.0 448.0 1175.6 440.3 1164.6 446.0 1157.6 456.1 1152.6ZM309.0 1158.6 317.0 1160.1 326.7 1164.6 327.4 1165.6 326.2 1170.6 317.0 1175.4 306.0 1177.2 289.0 1177.5 270.5 1172.6 271.5 1162.6 284.0 1160.5 308.5 1158.6ZM363.0 1160.5 369.0 1160.0 381.0 1161.5 392.0 1164.1 393.4 1164.6 393.4 1165.6 369.0 1172.7 353.0 1169.7 340.9 1165.6 341.3 1164.6 347.0 1163.0 362.2 1160.6Z" fill="#1b513a"/>
<path d="M540.0 1148.5 569.0 1148.3 569.0 1169.6 541.0 1169.6 530.0 1174.0 515.0 1177.2 499.1 1172.6 492.8 1165.6 492.6 1164.6 496.9 1157.6 500.0 1156.2 510.0 1153.5 539.4 1148.6ZM228.0 1149.5 232.0 1148.8 236.9 1149.6 241.0 1151.9 246.1 1157.6 244.1 1161.6 238.8 1164.6 232.0 1166.2 222.7 1162.6 220.7 1158.6 220.8 1156.6 224.0 1152.3 227.7 1149.6ZM457.0 1153.6 471.0 1159.1 474.9 1164.6 467.9 1175.6 457.0 1179.2 449.6 1175.6 443.1 1164.6 447.3 1158.6 456.9 1153.6ZM309.0 1160.5 313.0 1160.9 321.8 1164.6 323.3 1166.6 323.5 1170.6 312.0 1175.6 297.0 1176.6 289.0 1176.7 273.7 1172.6 277.0 1167.1 283.0 1163.8 308.1 1160.6ZM366.0 1161.5 379.0 1162.7 387.1 1164.6 387.4 1165.6 369.0 1171.0 347.9 1165.6 348.5 1164.6 351.0 1164.0 365.2 1161.6Z" fill="#1c4a35"/>
<path d="M541.0 1149.5 569.0 1149.5 569.0 1167.9 541.0 1167.9 527.4 1173.6 515.0 1176.3 502.3 1172.6 497.2 1165.6 500.5 1157.6 502.8 1156.6 514.0 1153.8 540.5 1149.6ZM230.0 1150.4 232.0 1149.6 236.0 1151.4 243.2 1157.6 239.0 1162.3 233.8 1164.6 231.0 1164.8 226.5 1162.6 222.8 1157.6 225.8 1153.6 229.7 1150.6ZM456.0 1155.2 461.0 1156.1 468.7 1159.6 471.3 1164.6 465.6 1175.6 457.0 1178.4 451.2 1175.6 445.9 1164.6 448.4 1159.6 455.2 1155.6ZM308.0 1162.6 311.0 1162.3 318.0 1165.3 320.7 1168.6 320.9 1170.6 311.0 1174.7 291.0 1176.0 277.0 1172.6 280.5 1168.6 286.0 1165.8 307.8 1162.6ZM368.0 1162.5 380.0 1164.4 381.3 1165.6 369.0 1169.2 354.9 1165.6 355.7 1164.6 367.4 1162.6Z" fill="#1a422f"/>
<path d="M232.0 1151.5 237.2 1154.6 240.3 1157.6 237.0 1160.7 232.0 1163.3 228.0 1161.0 225.1 1157.6 228.0 1154.2 231.8 1151.6ZM536.0 1151.6 541.0 1150.7 569.0 1150.7 569.0 1161.5 541.0 1161.5 535.0 1167.6 526.4 1172.6 515.0 1175.4 505.4 1172.6 501.6 1165.6 504.1 1157.6 505.0 1157.2 514.9 1154.6 526.0 1153.8 535.8 1151.6ZM456.0 1156.6 457.0 1156.1 465.5 1159.6 467.7 1164.6 463.3 1175.6 457.0 1177.7 452.7 1175.6 448.6 1164.6 450.8 1159.6 456.0 1156.6ZM369.0 1163.6 374.5 1164.6 375.2 1165.6 369.0 1167.4 361.9 1165.6 362.9 1164.6 368.9 1163.6ZM309.0 1164.5 311.0 1164.3 315.0 1166.1 318.0 1169.0 318.3 1170.6 311.0 1173.6 290.0 1175.2 280.3 1172.6 284.0 1169.4 289.0 1167.1 308.3 1164.6Z" fill="#183a28"/>
<path d="M539.0 1152.5 569.0 1152.1 569.0 1154.3 541.0 1154.3 538.8 1152.6ZM232.0 1153.5 237.4 1157.6 232.0 1161.3 227.4 1157.6 231.8 1153.6ZM515.0 1155.5 532.0 1155.9 535.9 1157.6 532.0 1161.6 528.3 1167.6 522.5 1172.6 515.0 1174.5 508.6 1172.6 506.0 1164.6 507.7 1157.6 514.6 1155.6ZM457.0 1157.4 462.4 1159.6 464.1 1164.6 461.7 1174.6 457.0 1176.9 453.8 1174.6 451.4 1164.6 453.1 1159.6 456.6 1157.6ZM309.0 1166.5 311.0 1166.3 313.0 1167.3 315.7 1169.6 315.6 1170.6 311.0 1172.5 290.0 1174.4 283.6 1172.6 290.0 1168.8 308.3 1166.6Z" fill="#163222"/>
<path d="M232.0 1155.5 234.5 1157.6 232.0 1159.3 229.7 1157.6 231.9 1155.6ZM515.0 1156.5 525.4 1157.6 518.7 1172.6 515.0 1173.7 511.7 1172.6 510.4 1164.6 511.3 1157.6 514.4 1156.6ZM456.0 1159.2 457.0 1158.7 460.1 1160.6 460.6 1164.6 459.3 1174.6 457.0 1176.2 455.4 1174.6 454.2 1165.6 455.4 1159.6ZM309.0 1168.5 311.0 1168.3 313.0 1169.6 313.0 1170.6 290.0 1173.6 286.8 1172.6 290.0 1170.8 308.3 1168.6Z" fill="#132618"/>
<path d="M88.5 1128.3h1.3v4.3h-1.3zM93.8 1128.3h1.3v6.1h-1.3zM98.6 1128.3h1.3v4.5h-1.3zM104.1 1128.3h1.3v3.3h-1.3zM109.1 1128.3h1.3v5.0h-1.3zM115.6 1128.3h1.3v2.9h-1.3zM119.6 1128.3h1.3v2.9h-1.3zM126.2 1128.3h1.3v5.2h-1.3zM128.9 1128.3h1.3v6.4h-1.3zM136.2 1128.3h1.3v5.1h-1.3zM141.8 1128.3h1.3v3.2h-1.3zM144.3 1128.3h1.3v4.6h-1.3zM147.1 1128.3h1.3v3.3h-1.3zM150.8 1128.3h1.3v2.7h-1.3zM155.7 1128.3h1.3v4.3h-1.3zM162.4 1128.3h1.3v4.6h-1.3zM168.1 1128.3h1.3v4.5h-1.3zM173.9 1128.3h1.3v4.3h-1.3zM177.8 1128.3h1.3v6.4h-1.3zM185.3 1128.3h1.3v5.8h-1.3zM191.3 1128.3h1.3v3.8h-1.3zM194.9 1128.3h1.3v3.7h-1.3zM197.8 1128.3h1.3v5.5h-1.3zM202.3 1128.3h1.3v5.8h-1.3zM206.7 1128.3h1.3v6.3h-1.3zM213.5 1128.3h1.3v2.6h-1.3zM217.0 1128.3h1.3v6.1h-1.3zM221.9 1128.3h1.3v6.3h-1.3zM226.4 1128.3h1.3v2.8h-1.3zM232.0 1128.3h1.3v5.6h-1.3zM235.9 1128.3h1.3v2.9h-1.3zM240.0 1128.3h1.3v6.3h-1.3zM246.3 1128.3h1.3v3.0h-1.3zM250.0 1128.3h1.3v3.0h-1.3zM252.8 1128.3h1.3v5.6h-1.3zM256.2 1128.3h1.3v4.7h-1.3zM261.0 1128.3h1.3v3.3h-1.3zM267.1 1128.3h1.3v3.1h-1.3zM272.8 1128.3h1.3v3.0h-1.3zM277.4 1128.3h1.3v3.4h-1.3zM281.3 1128.3h1.3v6.3h-1.3zM287.8 1128.3h1.3v3.7h-1.3zM294.7 1128.3h1.3v3.4h-1.3zM299.2 1128.3h1.3v5.9h-1.3zM304.9 1128.3h1.3v3.0h-1.3zM312.4 1128.3h1.3v3.4h-1.3zM316.2 1128.3h1.3v5.5h-1.3zM320.3 1128.3h1.3v3.7h-1.3zM323.2 1128.3h1.3v2.9h-1.3zM328.6 1128.3h1.3v3.5h-1.3zM334.1 1128.3h1.3v4.0h-1.3zM338.9 1128.3h1.3v6.3h-1.3zM343.8 1128.3h1.3v4.8h-1.3zM350.6 1128.3h1.3v3.3h-1.3zM353.9 1128.3h1.3v6.1h-1.3zM360.5 1128.3h1.3v3.5h-1.3zM363.9 1128.3h1.3v5.4h-1.3zM371.1 1128.3h1.3v3.3h-1.3zM378.4 1128.3h1.3v6.0h-1.3zM383.9 1128.3h1.3v4.2h-1.3zM386.9 1128.3h1.3v2.7h-1.3zM394.2 1128.3h1.3v3.5h-1.3zM400.2 1128.3h1.3v3.6h-1.3zM406.9 1128.3h1.3v4.9h-1.3zM410.8 1128.3h1.3v3.2h-1.3zM416.9 1128.3h1.3v2.8h-1.3zM420.6 1128.3h1.3v4.7h-1.3zM427.3 1128.3h1.3v4.9h-1.3zM431.2 1128.3h1.3v6.1h-1.3zM434.8 1128.3h1.3v2.6h-1.3zM438.6 1128.3h1.3v4.3h-1.3zM441.4 1128.3h1.3v3.2h-1.3zM445.7 1128.3h1.3v4.8h-1.3zM448.9 1128.3h1.3v4.0h-1.3zM455.9 1128.3h1.3v6.3h-1.3zM461.6 1128.3h1.3v5.2h-1.3zM467.1 1128.3h1.3v3.1h-1.3zM469.7 1128.3h1.3v2.6h-1.3zM476.8 1128.3h1.3v5.3h-1.3zM484.1 1128.3h1.3v2.6h-1.3zM489.8 1128.3h1.3v4.4h-1.3zM495.9 1128.3h1.3v3.8h-1.3zM503.4 1128.3h1.3v2.9h-1.3zM508.7 1128.3h1.3v5.4h-1.3zM515.7 1128.3h1.3v5.4h-1.3zM521.7 1128.3h1.3v5.6h-1.3zM528.8 1128.3h1.3v3.9h-1.3zM534.7 1128.3h1.3v6.0h-1.3z" fill="#fff" opacity="0.9"/>
<path d="M88.8 1223.0 92.9 1217.5 97.0 1232.7 101.2 1232.7 102.6 1220.2 110.8 1217.5 121.9 1209.2 126.0 1203.7M166.0 1200.9 168.8 1196.8 177.1 1191.3 182.6 1198.2 196.4 1199.5 201.9 1192.6 207.4 1194.0 215.7 1191.3 229.5 1192.6 240.5 1188.5 251.6 1187.1 257.1 1183.0 265.4 1184.4 273.6 1181.6 284.7 1180.2 295.7 1181.6 306.8 1180.2 320.5 1181.6 334.3 1180.2 348.1 1180.2 361.9 1181.6 375.7 1180.2 389.5 1178.8 403.3 1174.7 416.0 1171.9M102.6 1176.1 108.1 1181.6 113.6 1184.4 119.1 1178.8 127.4 1174.7 132.9 1183.0 141.2 1180.2 155.0 1176.1 168.8 1170.6 177.1 1167.8 190.9 1170.6 199.1 1165.0 207.4 1167.8 218.5 1165.0 229.5 1167.8 240.5 1166.4 251.6 1167.8 262.6 1166.4 279.2 1167.8 295.7 1170.6 306.8 1169.2 320.5 1171.9 334.3 1170.6 348.1 1171.9 361.9 1173.3 375.7 1171.9 389.5 1173.3 403.3 1171.9 416.0 1169.2M232.2 1258.9 236.4 1247.8 246.0 1236.8 248.8 1223.0 251.6 1214.7 259.8 1203.7 268.1 1198.2 279.2 1195.4 295.7 1194.0 306.8 1192.6 320.5 1191.3 334.3 1189.9 348.1 1191.3 361.9 1188.5 375.7 1187.1 389.5 1185.7 403.3 1181.6 416.0 1178.8M257.7 1240.6 274.1 1220.2 287.7 1203.8 300.0 1198.1M264.5 1262.4 280.9 1240.6 298.6 1221.5 300.0 1222.9M132.9 1316.8 135.7 1307.2 139.8 1314.1 143.9 1316.8 150.8 1318.2 157.7 1311.3 163.3 1297.5 168.8 1286.5 174.3 1282.3 178.4 1281.0M139.8 1347.2 146.7 1345.8 149.5 1351.3 155.0 1344.4 166.0 1336.2 174.3 1325.1 177.1 1327.9 182.6 1330.6 189.5 1338.9 193.6 1325.1 196.4 1319.6 204.7 1319.6 212.9 1314.1 218.5 1305.8 226.7 1298.9M171.5 1362.4 174.3 1370.7 188.1 1377.6 196.4 1369.3 204.7 1363.8 208.8 1355.5 215.7 1347.2 229.5 1336.2 235.0 1325.1 243.3 1319.6 248.8 1308.6 251.6 1297.5M145.3 1416.2 149.5 1424.5 155.0 1432.8 159.1 1432.8 163.3 1419.0 168.8 1413.4 174.3 1416.2 179.8 1419.0 185.3 1413.4 188.1 1419.0 196.4 1410.7 204.7 1407.9 215.7 1405.2 224.0 1402.4 226.7 1391.4 232.2 1374.8 236.4 1363.8 240.5 1355.5 246.0 1344.4 251.6 1325.1 257.1 1311.3 262.6 1304.4 272.3 1304.4M148.1 1449.3 152.2 1463.1 160.5 1460.4 168.8 1452.1 174.3 1460.4 182.6 1463.1 190.9 1452.1 195.0 1449.3 201.9 1460.4 208.8 1465.9 215.7 1463.1 221.2 1460.4 226.7 1454.8 229.5 1449.3 235.0 1443.8 240.5 1435.5 248.8 1424.5 254.3 1413.4 259.8 1402.4 265.4 1385.8 276.4 1374.8 284.7 1363.8 290.2 1352.7 299.9 1340.3M290.2 1493.5 295.7 1485.2 301.2 1474.2 304.0 1476.9M156.4 1518.3 160.5 1523.8 166.0 1526.6M300.0 1198.1 311.0 1196.7 327.6 1189.8 341.4 1184.3 355.2 1181.6 368.9 1185.7 382.7 1181.6 396.5 1177.4 404.8 1170.5 415.8 1167.8 424.1 1176.1 437.9 1174.7 454.4 1171.9 465.5 1171.9 479.3 1170.5 493.1 1167.8 504.1 1165.0 520.6 1162.3 534.4 1158.1 541.3 1154.0M300.0 1222.9 308.3 1220.2 316.5 1207.8 335.9 1200.9 344.1 1198.1 355.2 1200.9 363.4 1209.2 371.7 1202.3 382.7 1199.5 393.8 1200.9 404.8 1206.4 413.1 1194.0 424.1 1200.9 432.4 1209.2 443.4 1196.7 454.4 1195.4 465.5 1198.1 479.3 1195.4 493.1 1195.4 498.6 1189.8 509.6 1184.3 520.6 1185.7 531.7 1176.1 541.3 1165.0M306.9 1264.3 316.5 1245.0 333.1 1242.3 341.4 1242.3 355.2 1236.7 366.2 1231.2 380.0 1229.8 385.5 1238.1 396.5 1234.0 410.3 1232.6 413.1 1224.3 421.3 1235.4 432.4 1242.3 440.7 1231.2 448.9 1214.7 460.0 1228.5 471.0 1225.7 482.0 1221.6 493.1 1222.9 504.1 1209.2 512.4 1200.9 520.6 1207.8 531.7 1198.1 541.3 1195.4M300.0 1338.8 311.0 1319.5 322.1 1311.2 333.1 1291.9 346.9 1301.6 357.9 1300.2 368.9 1283.6 374.5 1291.9M407.6 1289.1 410.3 1276.7 415.8 1283.6 422.7 1297.4 432.4 1280.9 443.4 1256.0 448.9 1249.2 460.0 1253.3 471.0 1256.0 482.0 1267.1 493.1 1269.8 504.1 1261.6 512.4 1264.3 520.6 1256.0 531.7 1245.0 539.9 1231.2M327.6 1418.8 335.9 1424.3 341.4 1427.1 349.6 1432.6 357.9 1416.0 368.9 1407.8 374.5 1416.0 378.6 1416.0 378.6 1457.4M393.8 1416.0 395.1 1399.5 399.3 1400.9 404.8 1413.3 410.3 1402.2 415.8 1402.2 426.9 1402.2 435.1 1380.2 443.4 1366.4 448.9 1352.6 454.4 1352.6 457.2 1360.9M484.8 1385.7 490.3 1382.9 495.8 1394.0 504.1 1374.7 512.4 1363.6 517.9 1370.5 526.1 1367.8 531.7 1347.1 537.2 1347.1 541.3 1349.8M88.6 1133.3 91.6 1134.5 94.6 1134.5 97.6 1136.1 100.6 1135.6 103.6 1135.2 106.6 1132.6 109.6 1134.2 112.6 1134.3 115.6 1134.5 118.6 1135.4 121.6 1135.0 124.6 1135.8 127.6 1136.5 130.6 1135.9 133.6 1135.9 136.6 1136.1 139.6 1135.2 142.6 1134.6 145.6 1135.6 148.6 1135.1 151.6 1133.8 154.6 1133.6 157.6 1133.3 160.6 1133.2 163.6 1133.2 166.6 1133.4 169.6 1133.4 172.6 1133.9 175.6 1134.3 178.6 1134.1 181.6 1135.6 184.6 1133.0 187.6 1133.2 190.6 1134.8 193.7 1135.9 196.7 1137.0 199.7 1134.6 202.7 1135.0 205.7 1134.6 208.7 1134.7 211.7 1135.4 214.7 1135.7 217.7 1134.6 220.7 1134.4 223.7 1133.8 226.7 1133.9 229.7 1134.5 232.7 1134.8 235.7 1137.1 238.7 1136.8 241.7 1138.6 244.7 1137.2 247.7 1139.2 250.7 1137.9 253.7 1136.4 256.7 1136.7 259.7 1137.2 262.7 1136.8 265.7 1135.1 268.7 1136.7 271.7 1134.4 274.7 1135.3 277.7 1135.7 280.7 1135.6 283.7 1133.8 286.7 1135.6 289.7 1135.7 292.7 1133.5 295.7 1133.9 298.7 1134.9 301.7 1133.4 304.7 1134.1 307.7 1134.5 310.7 1135.4 313.7 1134.9 316.7 1136.0 319.7 1133.5 322.7 1135.5 325.7 1135.3 328.8 1136.2 331.8 1137.4 334.8 1135.5 337.8 1138.1 340.8 1138.0 343.8 1135.5 346.8 1136.6 349.8 1135.7 352.8 1135.8 355.8 1135.6 358.8 1136.1 361.8 1135.8 364.8 1133.2 367.8 1134.6 370.8 1134.5 373.8 1135.9 376.8 1136.8 379.8 1138.1 382.8 1137.6 385.8 1135.9 388.8 1136.7 391.8 1136.0 394.8 1135.5 397.8 1135.2 400.8 1136.3 403.8 1135.4 406.8 1134.4 409.8 1134.5 412.8 1134.0 415.8 1133.4 418.8 1135.8 421.8 1136.1 424.8 1135.3 427.8 1133.2 430.8 1133.2 433.8 1133.8 436.8 1133.1 439.8 1134.2 442.8 1134.2 445.8 1134.4 448.8 1135.1 451.8 1135.3 454.8 1136.2 457.8 1136.4 460.8 1137.6 463.9 1137.5 466.9 1136.4 469.9 1134.9 472.9 1135.1 475.9 1137.0 478.9 1136.5 481.9 1135.3 484.9 1136.6 487.9 1136.4 490.9 1137.3 493.9 1137.1 496.9 1135.8 499.9 1137.1 502.9 1136.0 505.9 1134.4 508.9 1135.3 511.9 1133.0 514.9 1133.5 517.9 1133.9 520.9 1133.9 523.9 1133.3 526.9 1134.2 529.9 1133.8 532.9 1132.7 535.9 1131.8 538.9 1133.3M88.6 1137.5 91.6 1138.7 94.6 1140.0 97.6 1139.2 100.6 1139.6 103.6 1138.1 106.6 1138.4 109.6 1138.4 112.6 1137.4 115.6 1138.8 118.6 1139.4 121.6 1141.0 124.6 1141.8 127.6 1141.9 130.6 1142.4 133.6 1140.1 136.6 1140.7 139.6 1139.6 142.6 1140.3 145.6 1139.6 148.6 1139.8 151.6 1136.7 154.6 1138.8 157.6 1139.4 160.6 1137.1 163.6 1136.4 166.6 1138.4 169.6 1138.8 172.6 1138.0 175.6 1138.4 178.6 1138.3 181.6 1139.5 184.6 1138.7 187.6 1138.5 190.6 1138.0 193.7 1139.5 196.7 1140.4 199.7 1139.2 202.7 1137.7 205.7 1138.1 208.7 1140.9 211.7 1139.3 214.7 1140.1 217.7 1138.1 220.7 1139.3 223.7 1139.3 226.7 1139.1 229.7 1139.7 232.7 1140.4 235.7 1142.2 238.7 1143.1 241.7 1142.4 244.7 1142.4 247.7 1144.0 250.7 1143.4 253.7 1140.3 256.7 1140.5 259.7 1141.7 262.7 1140.9 265.7 1140.5 268.7 1140.4 271.7 1139.8 274.7 1140.0 277.7 1139.5 280.7 1140.4 283.7 1139.2 286.7 1138.6 289.7 1140.4 292.7 1137.8 295.7 1139.5 298.7 1138.5 301.7 1137.1 304.7 1137.1 307.7 1138.2 310.7 1140.6 313.7 1139.0 316.7 1139.1 319.7 1138.1 322.7 1138.9 325.7 1139.3 328.8 1139.3 331.8 1142.4 334.8 1141.2 337.8 1142.9 340.8 1142.0 343.8 1141.7 346.8 1142.5 349.8 1140.8 352.8 1140.2 355.8 1140.8 358.8 1141.5 361.8 1139.4 364.8 1138.9 367.8 1141.0 370.8 1139.6 373.8 1140.8 376.8 1142.0 379.8 1142.3 382.8 1141.9 385.8 1142.3 388.8 1142.1 391.8 1140.5 394.8 1139.8 397.8 1139.5 400.8 1139.9 403.8 1140.1 406.8 1139.7 409.8 1140.4 412.8 1138.2 415.8 1139.2 418.8 1139.8 421.8 1140.0 424.8 1140.5 427.8 1137.4 430.8 1137.2 433.8 1139.0 436.8 1136.5 439.8 1137.5 442.8 1138.9 445.8 1138.3 448.8 1138.3 451.8 1139.6 454.8 1141.0 457.8 1141.0 460.8 1141.3 463.9 1142.6 466.9 1141.6 469.9 1139.1 472.9 1140.2 475.9 1140.8 478.9 1140.2 481.9 1141.1 484.9 1140.6 487.9 1142.0 490.9 1142.0 493.9 1140.0 496.9 1141.5 499.9 1140.6 502.9 1140.5 505.9 1139.8 508.9 1139.4 511.9 1138.3 514.9 1137.4 517.9 1138.5 520.9 1136.9 523.9 1137.5 526.9 1139.3 529.9 1137.9 532.9 1136.9 535.9 1136.0 538.9 1137.3M88.6 1142.7 91.6 1144.4 94.6 1144.4 97.6 1144.9 100.6 1144.5 103.6 1143.7 106.6 1142.2 109.6 1142.9 112.6 1143.7 115.6 1142.8 118.6 1144.1 121.6 1145.8 124.6 1145.6 127.6 1145.8 130.6 1146.8 133.6 1144.8 136.6 1144.9 139.6 1145.6 142.6 1144.3 145.6 1143.8 148.6 1143.3 151.6 1140.9 154.6 1143.2 157.6 1143.5 160.6 1142.4 163.6 1141.5 166.6 1142.4 169.6 1142.0 172.6 1142.7 175.6 1144.3 178.6 1142.4 181.6 1143.8 184.6 1142.0 187.6 1143.7 190.6 1142.4 193.7 1144.0 196.7 1145.3 199.7 1144.0 202.7 1143.5 205.7 1142.2 208.7 1145.2 211.7 1143.3 214.7 1143.8 217.7 1142.5 220.7 1142.6 223.7 1143.8 226.7 1143.7 229.7 1143.6 232.7 1144.5 235.7 1146.7 238.7 1147.8 241.7 1148.9 244.7 1148.9 247.7 1148.8 250.7 1146.8 253.7 1144.7 256.7 1144.7 259.7 1146.1 262.7 1146.6 265.7 1145.1 268.7 1145.3 271.7 1144.9 274.7 1144.2 277.7 1145.3 280.7 1145.3 283.7 1143.4 286.7 1143.2 289.7 1144.5 292.7 1142.3 295.7 1143.3 298.7 1143.6 301.7 1142.1 304.7 1141.4 307.7 1144.3 310.7 1145.2 313.7 1143.8 316.7 1144.7 319.7 1141.6 322.7 1144.2 325.7 1143.4 328.8 1144.5 331.8 1146.1 334.8 1145.8 337.8 1147.0 340.8 1146.9 343.8 1144.7 346.8 1146.6 349.8 1145.6 352.8 1144.6 355.8 1145.0 358.8 1146.3 361.8 1144.9 364.8 1142.0 367.8 1145.1 370.8 1144.3 373.8 1145.1 376.8 1147.1 379.8 1146.0 382.8 1145.4 385.8 1146.2 388.8 1147.0 391.8 1145.3 394.8 1145.7 397.8 1144.9 400.8 1144.3 403.8 1144.9 406.8 1143.6 409.8 1144.8 412.8 1143.4 415.8 1143.2 418.8 1144.4 421.8 1145.3 424.8 1145.4 427.8 1143.3 430.8 1142.2 433.8 1143.1 436.8 1141.0 439.8 1141.2 442.8 1142.1 445.8 1141.2 448.8 1143.0 451.8 1143.7 454.8 1145.8 457.8 1146.1 460.8 1146.7 463.9 1147.1 466.9 1145.5 469.9 1143.3 472.9 1144.6 475.9 1146.8 478.9 1145.1 481.9 1144.7 484.9 1146.9 487.9 1146.3 490.9 1145.5 493.9 1145.2 496.9 1145.2 499.9 1145.6 502.9 1143.8 505.9 1142.6 508.9 1143.6 511.9 1142.8 514.9 1140.6 517.9 1142.2 520.9 1141.1 523.9 1140.6 526.9 1142.1 529.9 1141.7 532.9 1140.3 535.9 1140.0 538.9 1140.8M88.6 1146.8 91.6 1148.5 94.6 1147.8 97.6 1148.5 100.6 1149.8 103.6 1147.8 106.6 1146.7 109.6 1147.2 112.6 1147.1 115.6 1146.6 118.6 1148.6 121.6 1150.6 124.6 1150.6 127.6 1150.1 130.6 1151.2 133.6 1148.6 136.6 1149.7 139.6 1149.7 142.6 1148.2 145.6 1147.9 148.6 1149.0 151.6 1145.6 154.6 1147.7 157.6 1147.4 160.6 1147.6 163.6 1144.8 166.6 1146.6 169.6 1146.4 172.6 1148.0 175.6 1148.4 178.6 1147.5 181.6 1147.5 184.6 1147.3 187.6 1148.6 190.6 1147.4 193.7 1147.9 196.7 1149.3 199.7 1147.7 202.7 1146.8 205.7 1146.0 208.7 1148.3 211.7 1149.0 214.7 1149.7 217.7 1147.2 220.7 1148.9 223.7 1147.7 226.7 1148.3 229.7 1149.7 232.7 1150.7 235.7 1150.8 238.7 1151.9 241.7 1153.5 244.7 1154.4 247.7 1153.0 250.7 1152.2 253.7 1150.4 256.7 1149.3 259.7 1150.7 262.7 1151.0 265.7 1150.9 268.7 1151.5 271.7 1148.2 274.7 1150.4 277.7 1149.9 280.7 1149.7 283.7 1146.8 286.7 1148.6 289.7 1148.6 292.7 1146.2 295.7 1146.8 298.7 1147.4 301.7 1145.8 304.7 1145.5 307.7 1147.2 310.7 1150.2 313.7 1148.2 316.7 1149.1 319.7 1146.7 322.7 1148.0 325.7 1146.7 328.8 1149.5 331.8 1149.8 334.8 1150.4 337.8 1153.0 340.8 1151.9 343.8 1149.4 346.8 1150.8 349.8 1150.6 352.8 1149.6 355.8 1150.2 358.8 1150.7 361.8 1148.4 364.8 1147.8 367.8 1149.5 370.8 1148.2 373.8 1150.5 376.8 1151.3 379.8 1151.1 382.8 1151.9 385.8 1150.0 388.8 1150.9 391.8 1149.5 394.8 1148.6 397.8 1149.2 400.8 1149.1 403.8 1147.6 406.8 1147.0 409.8 1148.7 412.8 1147.5 415.8 1145.9 418.8 1148.7 421.8 1150.1 424.8 1148.4 427.8 1146.9 430.8 1146.3 433.8 1147.4 436.8 1145.3 439.8 1146.8 442.8 1147.4 445.8 1145.7 448.8 1147.4 451.8 1148.0 454.8 1151.1 457.8 1149.5 460.8 1150.4 463.9 1153.1 466.9 1149.1 469.9 1148.9 472.9 1148.3 475.9 1151.0 478.9 1149.3 481.9 1150.7 484.9 1151.0 487.9 1150.8 490.9 1150.9 493.9 1150.8 496.9 1149.4 499.9 1150.3 502.9 1148.7 505.9 1147.2 508.9 1149.4 511.9 1146.6 514.9 1146.2 517.9 1146.0 520.9 1146.1 523.9 1145.3 526.9 1147.6 529.9 1145.4 532.9 1144.9 535.9 1145.2 538.9 1145.1M88.6 1152.0 91.6 1153.6 94.6 1153.1 97.6 1154.5 100.6 1154.9 103.6 1151.9 106.6 1150.3 109.6 1153.6 112.6 1151.4 115.6 1151.1 118.6 1153.4 121.6 1153.8 124.6 1155.4 127.6 1156.7 130.6 1156.5 133.6 1154.7 136.6 1155.1 139.6 1155.0 142.6 1154.5 145.6 1153.5 148.6 1152.9 151.6 1151.3 154.6 1152.4 157.6 1152.8 160.6 1151.0 163.6 1150.0 166.6 1151.4 169.6 1152.3 172.6 1152.7 175.6 1152.2 178.6 1153.2 181.6 1152.3 184.6 1150.5 187.6 1152.6 190.6 1151.2 193.7 1153.6 196.7 1155.3 199.7 1152.1 202.7 1152.4 205.7 1150.9 208.7 1153.7 211.7 1152.9 214.7 1154.0 217.7 1152.8 220.7 1152.0 223.7 1151.4 226.7 1151.8 229.7 1153.3 232.7 1153.7 235.7 1156.0 238.7 1157.8 241.7 1158.8 244.7 1159.6 247.7 1160.0 250.7 1158.4 253.7 1154.1 256.7 1154.2 259.7 1155.3 262.7 1156.1 265.7 1155.4 268.7 1155.6 271.7 1153.2 274.7 1155.3 277.7 1153.6 280.7 1153.4 283.7 1151.7 286.7 1152.7 289.7 1153.0 292.7 1150.0 295.7 1152.3 298.7 1150.1 301.7 1149.2 304.7 1150.1 307.7 1152.4 310.7 1153.7 313.7 1151.4 316.7 1152.5 319.7 1151.7 322.7 1152.4 325.7 1152.7 328.8 1154.1 331.8 1156.4 334.8 1154.2 337.8 1156.7 340.8 1155.3 343.8 1154.8 346.8 1155.7 349.8 1153.5 352.8 1153.9 355.8 1153.1 358.8 1154.2 361.8 1152.4 364.8 1151.9 367.8 1153.3 370.8 1152.5 373.8 1154.5 376.8 1156.9 379.8 1156.3 382.8 1156.1 385.8 1156.3 388.8 1156.1 391.8 1154.4 394.8 1153.3 397.8 1153.9 400.8 1154.8 403.8 1153.0 406.8 1152.7 409.8 1152.9 412.8 1151.1 415.8 1150.5 418.8 1152.8 421.8 1153.9 424.8 1154.3 427.8 1151.8 430.8 1150.6 433.8 1151.4 436.8 1150.0 439.8 1151.0 442.8 1151.8 445.8 1150.3 448.8 1152.4 451.8 1152.7 454.8 1154.4 457.8 1155.3 460.8 1157.2 463.9 1157.0 466.9 1154.1 469.9 1152.2 472.9 1153.6 475.9 1156.4 478.9 1154.3 481.9 1155.5 484.9 1154.8 487.9 1154.7 490.9 1155.1 493.9 1154.5 496.9 1155.0 499.9 1155.3 502.9 1154.2 505.9 1152.6 508.9 1152.2 511.9 1150.7 514.9 1149.9 517.9 1151.0 520.9 1149.9 523.9 1150.1 526.9 1152.4 529.9 1149.7 532.9 1149.8 535.9 1149.1 538.9 1150.3M88.6 1157.8 91.6 1159.3 94.6 1158.8 97.6 1158.8 100.6 1160.9 103.6 1157.0 106.6 1155.3 109.6 1158.5 112.6 1156.5 115.6 1155.8 118.6 1160.5 121.6 1160.6 124.6 1161.2 127.6 1161.1 130.6 1161.1 133.6 1158.5 136.6 1158.9 139.6 1161.2 142.6 1158.0 145.6 1158.2 148.6 1157.7 151.6 1154.5 154.6 1156.7 157.6 1157.5 160.6 1156.8 163.6 1154.5 166.6 1157.3 169.6 1155.3 172.6 1156.5 175.6 1158.7 178.6 1156.6 181.6 1157.7 184.6 1156.3 187.6 1156.8 190.6 1156.8 193.7 1157.9 196.7 1159.9 199.7 1159.2 202.7 1156.3 205.7 1157.2 208.7 1158.5 211.7 1159.5 214.7 1159.1 217.7 1157.7 220.7 1156.8 223.7 1156.4 226.7 1157.9 229.7 1158.0 232.7 1159.3 235.7 1163.0 238.7 1163.7 241.7 1163.2 244.7 1165.4 247.7 1164.9 250.7 1163.0 253.7 1158.9 256.7 1160.0 259.7 1162.2 262.7 1161.3 265.7 1160.0 268.7 1160.2 271.7 1158.0 274.7 1159.6 277.7 1160.2 280.7 1157.7 283.7 1155.2 286.7 1158.0 289.7 1159.5 292.7 1156.4 295.7 1156.1 298.7 1155.7 301.7 1155.7 304.7 1154.8 307.7 1157.7 310.7 1159.2 313.7 1156.4 316.7 1157.9 319.7 1156.6 322.7 1158.0 325.7 1156.8 328.8 1158.6 331.8 1160.9 334.8 1160.3 337.8 1162.9 340.8 1162.4 343.8 1159.5 346.8 1161.7 349.8 1160.6 352.8 1159.7 355.8 1158.4 358.8 1160.7 361.8 1158.7 364.8 1155.5 367.8 1158.2 370.8 1157.4 373.8 1159.8 376.8 1163.5 379.8 1161.3 382.8 1161.8 385.8 1160.0 388.8 1159.8 391.8 1160.9 394.8 1159.8 397.8 1159.5 400.8 1159.8 403.8 1158.1 406.8 1157.6 409.8 1157.0 412.8 1156.6 415.8 1156.0 418.8 1158.2 421.8 1159.0 424.8 1158.3 427.8 1155.9 430.8 1155.3 433.8 1155.6 436.8 1153.5 439.8 1155.4 442.8 1157.5 445.8 1156.2 448.8 1158.2 451.8 1159.2 454.8 1159.9 457.8 1161.2 460.8 1161.1 463.9 1161.7 466.9 1159.5 469.9 1158.0 472.9 1158.5 475.9 1161.4 478.9 1159.2 481.9 1160.8 484.9 1160.7 487.9 1160.4 490.9 1160.4 493.9 1160.7 496.9 1160.5 499.9 1160.0 502.9 1158.3 505.9 1157.6 508.9 1157.3 511.9 1155.2 514.9 1155.4 517.9 1156.6 520.9 1154.4 523.9 1155.2 526.9 1156.4 529.9 1156.5 532.9 1154.0 535.9 1153.7 538.9 1155.3M88.6 1163.5 91.6 1164.1 94.6 1165.1 97.6 1165.9 100.6 1165.7 103.6 1163.0 106.6 1161.2 109.6 1163.4 112.6 1162.3 115.6 1162.2 118.6 1166.3 121.6 1165.9 124.6 1167.0 127.6 1166.8 130.6 1167.5 133.6 1165.5 136.6 1164.7 139.6 1165.4 142.6 1164.4 145.6 1164.2 148.6 1163.2 151.6 1161.0 154.6 1163.2 157.6 1162.8 160.6 1162.2 163.6 1160.4 166.6 1163.1 169.6 1162.9 172.6 1162.5 175.6 1164.0 178.6 1162.5 181.6 1164.8 184.6 1161.8 187.6 1163.0 190.6 1163.2 193.7 1164.3 196.7 1165.9 199.7 1164.8 202.7 1162.9 205.7 1161.2 208.7 1164.1 211.7 1164.0 214.7 1163.6 217.7 1163.9 220.7 1162.7 223.7 1162.6 226.7 1162.9 229.7 1164.6 232.7 1165.8 235.7 1168.8 238.7 1169.5 241.7 1170.4 244.7 1170.0 247.7 1172.2 250.7 1170.0 253.7 1164.8 256.7 1166.2 259.7 1167.8 262.7 1168.9 265.7 1166.0 268.7 1166.0 271.7 1164.6 274.7 1165.8 277.7 1166.1 280.7 1165.0 283.7 1161.0 286.7 1162.6 289.7 1164.4 292.7 1161.7 295.7 1161.6 298.7 1161.3 301.7 1159.3 304.7 1160.6 307.7 1162.0 310.7 1166.3 313.7 1163.1 316.7 1164.1 319.7 1160.8 322.7 1162.6 325.7 1162.2 328.8 1165.2 331.8 1166.8 334.8 1166.0 337.8 1170.0 340.8 1168.1 343.8 1166.1 346.8 1166.9 349.8 1165.1 352.8 1165.6 355.8 1164.1 358.8 1165.7 361.8 1164.0 364.8 1161.4 367.8 1165.0 370.8 1164.6 373.8 1167.4 376.8 1169.1 379.8 1166.9 382.8 1166.1 385.8 1166.6 388.8 1166.4 391.8 1165.5 394.8 1165.8 397.8 1163.7 400.8 1165.9 403.8 1164.7 406.8 1161.9 409.8 1164.4 412.8 1161.9 415.8 1161.0 418.8 1164.1 421.8 1163.6 424.8 1164.4 427.8 1161.1 430.8 1161.8 433.8 1162.2 436.8 1158.2 439.8 1160.4 442.8 1161.9 445.8 1160.1 448.8 1162.6 451.8 1163.8 454.8 1166.7 457.8 1165.8 460.8 1166.8 463.9 1168.0 466.9 1165.3 469.9 1163.3 472.9 1164.1 475.9 1167.5 478.9 1164.9 481.9 1166.1 484.9 1167.0 487.9 1165.7 490.9 1166.8 493.9 1165.6 496.9 1165.5 499.9 1166.0 502.9 1164.4 505.9 1162.9 508.9 1163.0 511.9 1161.5 514.9 1161.0 517.9 1161.7 520.9 1161.0 523.9 1159.5 526.9 1163.2 529.9 1161.5 532.9 1159.2 535.9 1160.4 538.9 1161.7M88.6 1168.2 91.6 1171.1 94.6 1170.2 97.6 1170.7 100.6 1172.5 103.6 1168.9 106.6 1167.3 109.6 1169.6 112.6 1167.5 115.6 1167.7 118.6 1172.2 121.6 1171.6 124.6 1174.0 127.6 1174.3 130.6 1173.8 133.6 1171.2 136.6 1171.5 139.6 1172.9 142.6 1170.1 145.6 1169.7 148.6 1170.5 151.6 1166.6 154.6 1167.6 157.6 1169.3 160.6 1168.2 163.6 1165.3 166.6 1169.1 169.6 1168.4 172.6 1168.9 175.6 1169.0 178.6 1168.0 181.6 1170.2 184.6 1168.2 187.6 1168.5 190.6 1168.0 193.7 1170.8 196.7 1172.1 199.7 1170.4 202.7 1168.6 205.7 1167.5 208.7 1170.2 211.7 1170.3 214.7 1170.2 217.7 1169.4 220.7 1168.4 223.7 1168.6 226.7 1168.2 229.7 1170.3 232.7 1172.1 235.7 1173.9 238.7 1174.5 241.7 1176.9 244.7 1176.6 247.7 1177.7 250.7 1175.2 253.7 1170.9 256.7 1172.4 259.7 1174.3 262.7 1174.8 265.7 1173.0 268.7 1172.9 271.7 1169.7 274.7 1171.5 277.7 1170.9 280.7 1171.0 283.7 1166.0 286.7 1169.3 289.7 1170.0 292.7 1166.2 295.7 1167.3 298.7 1168.0 301.7 1165.0 304.7 1165.9 307.7 1168.6 310.7 1170.7 313.7 1168.1 316.7 1170.7 319.7 1167.8 322.7 1169.3 325.7 1168.7 328.8 1169.4 331.8 1173.1 334.8 1172.8 337.8 1174.6 340.8 1173.8 343.8 1173.0 346.8 1173.2 349.8 1172.0 352.8 1169.9 355.8 1171.0 358.8 1171.0 361.8 1169.4 364.8 1167.0 367.8 1170.9 370.8 1170.0 373.8 1172.7 376.8 1175.1 379.8 1173.4 382.8 1173.6 385.8 1172.2 388.8 1172.8 391.8 1172.2 394.8 1170.6 397.8 1169.1 400.8 1170.4 403.8 1169.8 406.8 1167.7 409.8 1169.8 412.8 1167.7 415.8 1168.1 418.8 1171.2 421.8 1170.8 424.8 1169.9 427.8 1166.0 430.8 1166.7 433.8 1167.6 436.8 1165.3 439.8 1165.5 442.8 1167.0 445.8 1167.2 448.8 1169.2 451.8 1170.0 454.8 1172.7 457.8 1171.3 460.8 1173.7 463.9 1175.0 466.9 1171.5 469.9 1168.2 472.9 1169.6 475.9 1173.3 478.9 1172.2 481.9 1170.9 484.9 1171.7 487.9 1171.4 490.9 1172.8 493.9 1171.4 496.9 1171.1 499.9 1172.7 502.9 1170.1 505.9 1168.2 508.9 1170.1 511.9 1165.3 514.9 1165.3 517.9 1167.7 520.9 1165.8 523.9 1164.6 526.9 1168.1 529.9 1166.4 532.9 1166.2 535.9 1164.4 538.9 1166.9M126.0 1203.7 136.0 1206.4 147.0 1208.4 157.0 1205.4 166.0 1200.9M178.4 1280.9 190.0 1275.4 200.0 1271.8 204.8 1270.6 209.1 1278.5 212.1 1269.4 218.2 1268.2 226.6 1267.6 231.5 1264.5 232.3 1258.9M226.7 1298.9 232.7 1294.2 235.1 1284.5 237.5 1280.9 243.6 1279.7 246.0 1276.1 248.4 1267.6 250.9 1248.2 253.3 1244.6 256.9 1239.7 257.7 1240.6M251.6 1297.5 250.9 1285.7 256.9 1274.8 263.0 1262.7 264.5 1262.4M272.3 1304.4 277.5 1289.4 282.4 1283.3 286.0 1282.1 288.4 1285.7 292.1 1277.3 298.1 1268.8 306.6 1265.2 308.1 1262.4M143.5 1369.1 151.0 1379.1 161.0 1374.1 171.5 1362.5M374.5 1291.9 385.0 1297.4 395.0 1299.4 407.6 1289.1M457.2 1360.9 470.0 1371.5 484.8 1385.7M304.0 1476.9 310.0 1461.5 318.0 1443.5 327.4 1419.0" fill="none" stroke="#d3d3d3" stroke-width="1.8" stroke-linejoin="round"/>
</g>
<rect x="86.00" y="1126.60" width="482.50" height="449.40" fill="none" stroke="#000" stroke-width="1.33"/>
<text x="86.00" y="1600.0" font-size="16.9" text-anchor="middle">0</text>
<text x="139.61" y="1600.0" font-size="16.9" text-anchor="middle">25</text>
<text x="193.22" y="1600.0" font-size="16.9" text-anchor="middle">50</text>
<text x="246.83" y="1600.0" font-size="16.9" text-anchor="middle">75</text>
<text x="300.44" y="1600.0" font-size="16.9" text-anchor="middle">100</text>
<text x="354.06" y="1600.0" font-size="16.9" text-anchor="middle">125</text>
<text x="407.67" y="1600.0" font-size="16.9" text-anchor="middle">150</text>
<text x="461.28" y="1600.0" font-size="16.9" text-anchor="middle">175</text>
<text x="514.89" y="1600.0" font-size="16.9" text-anchor="middle">200</text>
<text x="568.50" y="1600.0" font-size="16.9" text-anchor="middle">225</text>
<text x="74.33" y="1132.7" font-size="16.9" text-anchor="end">0</text>
<text x="74.33" y="1196.9" font-size="16.9" text-anchor="end">50</text>
<text x="74.33" y="1261.1" font-size="16.9" text-anchor="end">100</text>
<text x="74.33" y="1325.3" font-size="16.9" text-anchor="end">150</text>
<text x="74.33" y="1389.5" font-size="16.9" text-anchor="end">200</text>
<text x="74.33" y="1453.7" font-size="16.9" text-anchor="end">250</text>
<text x="74.33" y="1517.9" font-size="16.9" text-anchor="end">300</text>
<text x="74.33" y="1582.1" font-size="16.9" text-anchor="end">350</text>
<path d="M86.00 1576.00v5.83 M139.61 1576.00v5.83 M193.22 1576.00v5.83 M246.83 1576.00v5.83 M300.44 1576.00v5.83 M354.06 1576.00v5.83 M407.67 1576.00v5.83 M461.28 1576.00v5.83 M514.89 1576.00v5.83 M568.50 1576.00v5.83 M86.00 1126.60h-5.83 M86.00 1190.80h-5.83 M86.00 1255.00h-5.83 M86.00 1319.20h-5.83 M86.00 1383.40h-5.83 M86.00 1447.60h-5.83 M86.00 1511.80h-5.83 M86.00 1576.00h-5.83" stroke="#000" stroke-width="1.33" fill="none"/>
<text x="327.2" y="1623.0" font-size="16.95" font-weight="bold" text-anchor="middle">Along-transect distance (km)</text>
<text transform="translate(31.0,1351.3) rotate(-90)" font-size="16.95" font-weight="bold" text-anchor="middle">Depth (m)</text>
<text x="327.2" y="1116.1" font-size="20.55" text-anchor="middle">Chlorophyll-a concentration (µg L<tspan font-size="14" dy="-8">−1</tspan><tspan dy="8">)</tspan></text>
<text x="0.3" y="1107.0" font-size="28.5" font-weight="bold">E</text>
<rect x="598.60" y="1126.60" width="22.70" height="449.40" fill="url(#gE)" stroke="#000" stroke-width="1.33"/>
<text x="632.97" y="1582.1" font-size="16.9">0.0</text>
<text x="632.97" y="1517.9" font-size="16.9">0.2</text>
<text x="632.97" y="1453.7" font-size="16.9">0.4</text>
<text x="632.97" y="1389.5" font-size="16.9">0.6</text>
<text x="632.97" y="1325.3" font-size="16.9">0.8</text>
<text x="632.97" y="1261.1" font-size="16.9">1.0</text>
<text x="632.97" y="1196.9" font-size="16.9">1.2</text>
<text x="632.97" y="1132.7" font-size="16.9">1.4</text>
<path d="M621.30 1576.00h5.83 M621.30 1511.80h5.83 M621.30 1447.60h5.83 M621.30 1383.40h5.83 M621.30 1319.20h5.83 M621.30 1255.00h5.83 M621.30 1190.80h5.83 M621.30 1126.60h5.83" stroke="#000" stroke-width="1.33" fill="none"/>
<g clip-path="url(#clipF)">
<rect x="734.3" y="1126.6" width="482.3" height="449.4" fill="#d2f6c9"/>
<path d="M735.3 1126.6 1217.3 1126.6 1217.3 1576.6 734.3 1576.6 734.3 1126.6Z" fill="#c7efbc"/>
<path d="M735.3 1126.6 1217.3 1126.6 1217.3 1268.0 1188.3 1267.9 1137.3 1259.1 1032.3 1258.7 1013.3 1254.4 997.3 1248.7 962.3 1246.2 940.0 1240.6 927.3 1238.9 903.2 1240.6 891.3 1243.1 839.3 1246.2 787.3 1246.2 750.3 1243.1 734.3 1243.0 734.3 1126.6Z" fill="#bce8ae"/>
<path d="M735.3 1126.6 1217.3 1126.6 1217.3 1252.5 1188.3 1252.5 1137.3 1246.7 1032.3 1246.6 997.3 1238.9 927.3 1233.3 839.3 1238.1 787.3 1238.9 750.3 1236.0 734.3 1236.0 734.3 1126.6Z" fill="#b1e1a1"/>
<path d="M735.3 1126.6 1217.3 1126.6 1217.3 1246.4 1188.3 1246.4 1137.3 1240.2 1032.3 1240.2 997.3 1232.0 927.3 1227.9 892.3 1230.1 787.3 1233.7 750.3 1230.7 734.3 1230.7 734.3 1126.6Z" fill="#a6db94"/>
<path d="M735.3 1126.6 1217.3 1126.6 1217.3 1240.4 1188.3 1240.4 1137.3 1233.8 1032.3 1233.7 997.3 1227.6 927.3 1224.0 891.3 1226.4 787.3 1229.3 750.3 1226.3 734.3 1226.3 734.3 1126.6Z" fill="#9ad48a"/>
<path d="M735.3 1126.6 1217.3 1126.6 1217.3 1234.5 1188.3 1234.5 1137.3 1229.1 1032.3 1229.1 997.3 1224.3 927.3 1220.1 892.3 1223.4 787.3 1227.0 750.3 1224.1 734.3 1224.0 734.3 1126.6Z" fill="#8ecd80"/>
<path d="M735.3 1135.3 1217.3 1135.3 1217.3 1230.8 1188.3 1230.8 1137.3 1225.4 1032.3 1225.4 997.3 1220.9 962.3 1217.7 927.3 1216.2 892.3 1220.4 787.3 1224.7 750.3 1221.8 734.3 1221.8 734.3 1135.3Z" fill="#83c677"/>
<path d="M735.3 1146.1 1217.3 1146.1 1217.3 1227.1 1188.3 1227.1 1137.3 1221.8 1032.3 1221.7 975.1 1215.6 927.3 1213.6 884.3 1218.0 787.3 1222.5 750.3 1219.5 734.3 1219.5 734.3 1146.1Z" fill="#77bf6d"/>
<path d="M735.3 1147.3 1217.3 1147.3 1217.3 1223.5 1188.3 1223.5 1137.3 1218.1 1032.3 1218.1 1007.8 1215.6 927.3 1212.4 864.3 1217.2 787.3 1220.2 750.3 1217.2 734.3 1217.2 734.3 1147.3Z" fill="#68b868"/>
<path d="M735.3 1148.3 927.3 1148.9 1217.3 1148.3 1217.3 1219.8 1188.3 1219.8 1138.3 1215.3 1032.3 1215.3 927.3 1211.2 847.3 1216.7 787.3 1218.3 750.3 1215.3 734.3 1215.3 734.3 1148.3Z" fill="#5ab163"/>
<path d="M735.3 1149.2 892.3 1149.2 927.3 1150.1 997.3 1149.2 1217.3 1149.2 1217.3 1216.8 1188.3 1216.8 1137.3 1214.1 1032.3 1214.1 927.3 1210.0 840.3 1215.8 787.3 1217.1 750.3 1214.1 734.3 1214.1 734.3 1149.2Z" fill="#4bab5e"/>
<path d="M735.3 1150.2 892.3 1150.2 927.3 1151.4 997.3 1150.2 1217.3 1150.2 1217.3 1215.1 1188.3 1215.1 1138.3 1212.9 1103.3 1212.4 1032.3 1212.9 927.3 1208.8 840.3 1214.6 787.3 1215.9 750.3 1212.9 734.3 1212.9 734.3 1150.2Z" fill="#3ca45a"/>
<path d="M735.3 1151.1 892.3 1151.1 927.3 1152.6 997.3 1151.1 1102.3 1151.8 1217.3 1151.1 1217.3 1213.5 1188.3 1213.5 1102.3 1211.0 1032.3 1211.7 927.3 1207.6 840.3 1213.4 787.3 1214.7 750.3 1211.7 734.3 1211.7 734.3 1151.1Z" fill="#309e57"/>
<path d="M735.3 1152.1 892.3 1152.1 927.3 1153.8 997.3 1152.1 1102.3 1152.8 1217.3 1152.1 1217.3 1211.9 1102.3 1209.6 1032.3 1210.5 927.3 1206.4 840.3 1212.2 787.3 1213.5 750.3 1210.5 734.3 1210.5 734.3 1152.1Z" fill="#249954"/>
<path d="M735.3 1153.0 892.3 1153.0 927.3 1155.1 997.3 1153.0 1102.3 1153.9 1138.3 1153.0 1217.3 1153.0 1217.3 1210.2 1102.3 1208.2 1032.3 1209.3 927.3 1205.2 840.3 1211.0 787.3 1212.3 750.3 1209.3 734.3 1209.3 734.3 1153.0Z" fill="#1a9352"/>
<path d="M735.3 1154.0 892.3 1154.0 927.3 1156.5 997.3 1154.0 1102.3 1155.0 1138.3 1154.0 1217.3 1154.0 1217.3 1208.6 1138.3 1208.1 1102.3 1206.8 1067.3 1206.9 1032.3 1208.1 927.3 1203.9 840.3 1209.8 787.3 1211.1 750.3 1208.1 734.3 1208.1 734.3 1154.0Z" fill="#128d51"/>
<path d="M735.3 1154.9 892.3 1155.0 927.3 1157.9 997.3 1154.9 1102.3 1156.4 1137.3 1155.0 1217.3 1154.9 1217.3 1207.0 1138.3 1206.9 1102.3 1205.4 1067.3 1205.5 1032.3 1206.9 927.3 1202.6 892.3 1205.7 840.3 1208.7 787.3 1209.9 750.3 1206.9 734.3 1206.9 734.3 1154.9Z" fill="#0e864f"/>
<path d="M735.3 1156.0 891.3 1156.3 927.3 1159.3 997.3 1156.0 1102.3 1157.8 1137.3 1156.0 1217.3 1156.0 1217.3 1205.7 1137.3 1205.7 1102.3 1203.9 1032.3 1205.7 927.3 1201.3 892.3 1204.6 839.3 1207.7 787.3 1208.8 750.3 1205.8 734.3 1205.8 734.3 1156.0Z" fill="#117e4d"/>
<path d="M735.3 1157.0 891.3 1157.6 927.3 1160.7 997.3 1157.0 1032.3 1157.0 1102.3 1159.2 1137.3 1157.0 1217.3 1157.0 1217.3 1204.5 1137.3 1204.5 1102.3 1202.4 1032.3 1204.5 927.3 1200.0 892.3 1203.6 839.3 1206.6 787.3 1207.7 750.3 1204.8 734.3 1204.7 734.3 1157.0Z" fill="#14764c"/>
<path d="M777.3 1157.6 891.3 1159.0 927.3 1162.0 997.3 1158.1 1032.3 1158.1 1102.3 1160.5 1137.3 1158.1 1217.3 1158.1 1217.3 1203.3 1137.3 1203.3 1102.3 1200.9 1032.3 1203.3 994.3 1202.4 927.3 1198.6 892.3 1202.5 839.3 1205.5 787.3 1206.6 750.3 1203.7 734.3 1203.7 734.3 1158.1 776.7 1157.6Z" fill="#176e4a"/>
<path d="M771.3 1158.6 884.3 1160.2 927.3 1163.4 962.3 1162.0 997.3 1159.1 1032.3 1159.1 1102.3 1161.9 1137.3 1159.1 1217.3 1159.1 1217.3 1202.2 1137.3 1202.1 1102.3 1199.4 1032.3 1202.2 997.3 1201.4 927.3 1197.3 892.3 1201.4 839.3 1204.4 787.3 1205.6 750.3 1202.6 734.3 1202.6 734.3 1159.1 771.2 1158.6Z" fill="#196648"/>
<path d="M768.3 1159.6 787.3 1159.1 875.3 1161.2 892.3 1161.9 927.3 1165.2 962.3 1163.4 997.3 1160.2 1032.3 1160.2 1102.3 1163.3 1137.3 1160.2 1217.3 1160.2 1217.3 1201.0 1137.3 1200.9 1102.3 1197.9 1032.3 1201.0 997.3 1200.3 927.3 1196.0 892.3 1200.3 839.3 1203.3 787.3 1204.5 750.3 1201.5 734.3 1201.5 734.3 1160.2 768.1 1159.6Z" fill="#1a5f43"/>
<path d="M766.3 1160.6 787.3 1160.0 871.3 1162.3 896.2 1163.6 927.3 1167.1 962.3 1165.3 997.3 1161.2 1032.3 1161.2 1102.3 1165.3 1137.3 1161.2 1217.3 1161.2 1217.3 1199.8 1137.3 1199.8 1102.3 1196.5 1032.3 1199.8 997.3 1199.3 927.3 1194.7 892.3 1199.2 839.3 1202.3 787.3 1203.4 750.3 1200.4 734.3 1200.4 734.3 1161.2 766.1 1160.6Z" fill="#1a583e"/>
<path d="M765.3 1161.6 787.3 1160.8 869.3 1163.4 892.3 1164.9 927.3 1169.1 962.3 1167.7 980.3 1164.0 997.3 1162.3 1033.3 1162.3 1102.3 1167.7 1122.3 1163.7 1137.3 1162.3 1217.3 1162.3 1217.3 1198.6 1137.3 1198.6 1102.3 1195.0 1032.3 1198.6 997.3 1198.2 927.3 1193.4 892.3 1198.2 839.3 1201.2 787.3 1202.3 750.3 1199.4 734.3 1199.3 734.3 1162.3 764.8 1161.6Z" fill="#1b513a"/>
<path d="M764.3 1162.6 787.3 1161.7 846.9 1163.6 892.3 1166.9 927.3 1171.0 962.3 1170.2 987.6 1164.6 997.3 1163.3 1037.2 1163.6 1067.3 1167.5 1102.3 1170.1 1137.3 1163.3 1217.3 1163.3 1217.3 1197.4 1137.3 1197.4 1111.1 1194.6 1106.0 1193.6 1102.3 1190.8 1092.4 1193.6 1033.3 1197.4 997.3 1197.1 939.4 1192.6 927.3 1189.5 922.8 1192.6 894.3 1196.8 839.3 1200.1 787.3 1201.2 750.3 1198.3 734.3 1198.3 734.3 1163.3 763.8 1162.6Z" fill="#1c4a35"/>
<path d="M784.3 1162.6 838.3 1164.6 892.3 1168.8 927.3 1173.0 962.3 1172.6 997.3 1165.0 1032.3 1165.0 1066.3 1169.9 1102.3 1172.6 1138.3 1165.0 1217.3 1165.0 1217.3 1196.2 1138.3 1196.2 1122.4 1194.6 1117.0 1193.6 1109.4 1186.6 1102.3 1181.8 1068.3 1191.2 1063.5 1193.6 1032.3 1196.2 997.3 1196.0 966.6 1193.6 962.3 1188.8 955.3 1186.1 943.3 1183.3 927.3 1181.1 912.3 1192.6 892.3 1196.0 839.3 1199.0 787.3 1200.2 750.3 1197.2 734.3 1197.2 734.3 1164.7 750.3 1164.7 784.3 1162.6Z" fill="#1a422f"/>
<path d="M781.3 1163.6 812.8 1164.6 892.3 1170.8 923.6 1174.6 911.7 1182.6 901.9 1192.6 892.3 1194.9 839.3 1197.9 787.3 1199.1 750.3 1196.1 734.3 1196.1 734.3 1167.0 750.3 1167.0 781.1 1163.6ZM996.3 1168.5 1032.3 1168.2 1059.3 1171.7 1095.4 1174.6 1067.3 1182.4 1056.3 1187.5 1047.0 1193.6 1032.3 1195.0 997.3 1194.9 983.0 1193.6 965.9 1174.6 996.0 1168.6ZM1136.3 1168.6 1217.3 1168.2 1217.3 1195.0 1138.3 1195.0 1128.0 1193.6 1118.3 1183.3 1106.2 1174.6 1136.3 1168.6Z" fill="#183a28"/>
<path d="M781.3 1165.6 787.3 1164.6 817.3 1167.8 892.3 1172.7 907.3 1174.6 900.3 1180.7 891.3 1191.4 840.3 1193.6 833.4 1196.6 805.5 1197.6 787.3 1198.0 760.3 1195.4 734.3 1195.0 734.3 1169.4 750.3 1169.4 781.2 1165.6ZM997.3 1171.5 1032.3 1171.5 1062.6 1174.6 1045.3 1181.7 1032.3 1191.4 998.3 1191.4 997.3 1191.3 982.2 1174.6 997.0 1171.6ZM1137.3 1171.6 1217.3 1171.5 1217.3 1191.4 1138.3 1191.4 1130.2 1181.6 1122.6 1174.6 1137.3 1171.6Z" fill="#163222"/>
<path d="M783.3 1168.6 787.3 1168.1 835.9 1171.6 787.3 1195.1 766.3 1193.1 760.3 1190.9 756.7 1187.6 754.1 1181.6 752.5 1171.6 783.0 1168.6Z" fill="#132618"/>
<path d="M750.2 1154.8 751.5 1156.6 752.7 1158.0 753.9 1160.0 755.1 1159.8 756.3 1162.0 757.5 1157.2 758.6 1159.9 759.8 1162.8 760.9 1160.6 762.1 1162.0 763.2 1156.6 764.3 1158.7 765.5 1157.1 766.6 1158.8 767.8 1158.4 769.0 1154.1 770.2 1154.8 771.4 1154.6 772.7 1158.2 773.9 1156.6 775.1 1153.1 776.3 1157.7 777.5 1153.8 778.7 1157.5 779.9 1154.7 781.1 1154.3 782.3 1160.3 783.6 1156.3 784.8 1156.6 786.0 1162.0 787.2 1161.6 788.4 1158.0 789.6 1162.0 790.8 1158.8 792.0 1159.2 793.2 1155.6 794.4 1160.0 795.7 1157.9 796.9 1158.5 798.1 1156.9 799.3 1151.7 800.5 1150.9 801.7 1148.4 802.9 1147.1 804.1 1146.4 805.3 1147.8 806.6 1149.6 807.8 1145.5 809.0 1149.8 810.2 1147.4 811.3 1149.4 812.4 1155.0 813.5 1154.9 814.6 1156.0 815.6 1159.3 816.8 1160.6 817.9 1156.3 819.0 1162.2 820.2 1155.8 821.3 1160.5 822.5 1161.0 823.6 1155.4 824.7 1160.4 825.9 1156.8 827.0 1157.4 828.1 1152.9 829.3 1152.3 830.4 1152.4 831.5 1156.7 832.7 1150.9 833.8 1153.8 834.9 1154.7 836.1 1154.6 837.2 1150.4 838.3 1150.3 839.5 1151.2 840.6 1152.6 841.8 1148.0 842.9 1152.0 844.0 1152.7 845.2 1153.6 846.3 1148.6 847.4 1155.1 848.6 1149.9 849.7 1152.0 850.8 1154.2 852.0 1156.7 853.1 1152.4 854.2 1155.8 855.4 1152.9 856.5 1150.9 857.6 1150.5 858.8 1149.1 859.9 1148.0 861.1 1148.0 862.2 1152.0 863.3 1154.5 864.5 1149.5 865.6 1149.2 866.7 1155.8 867.9 1153.3 869.0 1152.9 870.1 1152.2 871.3 1154.5 872.4 1155.9 873.5 1153.3 874.7 1153.0 875.8 1150.5 876.9 1156.0 878.1 1150.1 879.2 1153.0 880.4 1155.6 881.5 1151.3 882.6 1155.6 883.8 1157.4 884.9 1155.6 886.0 1157.0 887.2 1152.8 888.3 1155.3 889.4 1153.2 890.6 1157.6 891.7 1153.7 892.8 1154.6 894.0 1157.9 895.1 1156.7 896.2 1157.3 897.4 1153.6 898.5 1153.4 899.7 1154.6 900.8 1152.5 901.9 1150.8 903.1 1151.0 904.2 1148.9 905.3 1150.0 906.5 1153.5 907.6 1152.9 908.7 1150.2 909.9 1149.0 911.0 1147.4 912.1 1145.3 913.3 1146.1 914.4 1149.0 915.5 1149.1 916.7 1146.5 917.8 1149.9 919.0 1150.5 920.1 1150.7 921.2 1151.2 922.4 1152.5 923.5 1150.6 924.6 1153.5 925.8 1150.9 926.9 1152.5 928.0 1154.6 929.2 1154.3 930.3 1151.9 931.4 1156.4 932.6 1154.7 933.7 1154.5 934.8 1150.0 935.9 1152.8 937.0 1150.1 938.1 1152.2 939.2 1150.1 940.3 1151.7 941.3 1149.8 942.4 1150.1 943.5 1146.4 944.6 1147.6 945.8 1149.2 947.0 1150.7 948.2 1148.4 949.5 1152.6 950.7 1153.7 951.9 1153.4 953.0 1155.0 954.1 1154.7 955.3 1151.6 956.4 1151.4 957.6 1148.8 958.7 1153.0 959.8 1153.4 961.0 1150.2 962.1 1157.0 963.1 1162.7 964.2 1168.2 965.3 1170.0 966.4 1179.4 968.2 1149.0 969.4 1149.2 970.5 1147.3 971.6 1148.2 972.7 1148.9 973.9 1146.7M750.2 1175.7 751.5 1177.8 752.7 1174.8 753.9 1177.1 755.1 1178.4 756.3 1179.2 757.5 1175.7 758.7 1178.2 759.9 1177.2 761.1 1172.7 762.3 1174.8 763.4 1172.4 764.6 1170.4 765.7 1170.2 766.8 1170.6 768.0 1168.9 769.1 1168.2 770.2 1166.3 771.4 1168.7 772.5 1167.7 773.6 1168.8 774.8 1168.2 775.9 1165.4 777.0 1169.3 778.2 1162.9 779.3 1165.1 780.4 1164.5 781.6 1165.6 782.7 1163.9 783.9 1168.9 785.0 1166.1 786.1 1164.1 787.3 1168.1 788.4 1164.9 789.5 1168.8 790.6 1168.3 791.7 1170.8 792.8 1174.2 793.8 1174.2 794.9 1170.1 796.0 1171.3 797.1 1168.7 798.2 1165.4 799.3 1162.5 800.5 1164.6 801.7 1163.5 802.9 1165.1 804.1 1164.3 805.3 1161.0 806.6 1158.4 807.7 1162.7 808.8 1157.5 810.0 1158.9 811.1 1162.6 812.2 1163.6 813.4 1161.1 814.5 1165.0 815.6 1167.4 816.8 1163.8 817.9 1163.9 819.0 1162.4 820.2 1162.6 821.3 1166.8 822.5 1162.7 823.6 1166.3 824.7 1165.8 825.9 1163.7 827.0 1161.5 828.1 1166.2 829.3 1163.0 830.4 1162.5 831.5 1161.8 832.7 1166.2 833.8 1163.0 834.9 1160.9 836.1 1161.5 837.2 1158.5 838.3 1161.1 839.5 1159.3 840.6 1157.6 841.8 1160.1 842.9 1159.7 844.0 1155.1 845.2 1159.2 846.3 1158.1 847.4 1163.2 848.6 1162.9 849.7 1160.0 850.8 1160.8 852.0 1160.8 853.1 1166.0 854.2 1161.2 855.4 1163.1 856.5 1162.0 857.6 1162.9 858.8 1162.4 859.9 1163.1 861.1 1158.7 862.2 1162.9 863.3 1159.9 864.5 1161.4 865.6 1160.1 866.7 1159.9 867.9 1161.4 869.0 1161.0 870.1 1160.3 871.3 1163.1 872.4 1162.3 873.5 1158.8 874.7 1160.5 875.8 1162.1 876.9 1165.3 878.1 1165.4 879.2 1163.3 880.4 1159.8 881.5 1164.9 882.6 1162.6 883.8 1163.5 884.9 1164.4 886.0 1163.9 887.2 1162.9 888.3 1165.8 889.4 1162.2 890.6 1162.1 891.7 1165.0 892.8 1160.6 894.0 1161.1 895.1 1164.5 896.2 1159.4 897.4 1164.3 898.5 1163.1 899.7 1161.0 900.8 1159.7 901.9 1162.6 903.1 1163.1 904.2 1157.7 905.3 1159.6 906.5 1159.7 907.6 1159.8 908.7 1159.2 909.9 1158.5 911.0 1161.8 912.1 1163.7 913.3 1159.3 914.4 1160.8 915.5 1165.1 916.7 1165.0 917.8 1164.1 919.0 1159.9 920.1 1164.5 921.2 1166.2 922.4 1166.3 923.5 1164.4 924.6 1160.1 925.8 1165.5 926.9 1161.6 928.0 1164.7 929.2 1166.9 930.3 1165.6 931.4 1162.0 932.6 1163.3 933.7 1167.6 934.8 1162.1 936.0 1164.7 937.1 1162.9 938.3 1160.8 939.4 1163.4 940.5 1159.1 941.7 1159.1 942.8 1160.4 943.9 1159.3 945.1 1160.1 946.2 1164.4 947.3 1166.5 948.5 1168.3 949.6 1164.3 950.7 1167.1 951.9 1167.3 953.0 1168.5 954.1 1167.1 955.3 1169.3 956.4 1164.9 957.6 1162.2 958.7 1165.7 959.8 1161.4 961.0 1163.9 962.1 1162.6 963.2 1164.8 964.4 1162.0 965.5 1162.0 966.6 1159.2 967.8 1160.7 968.9 1158.2 970.0 1161.1 971.3 1158.9 972.6 1155.8 973.9 1157.6M750.2 1245.7 753.9 1243.0 759.3 1238.4 766.6 1241.2 770.2 1231.2 775.7 1229.4 781.1 1232.1 788.4 1226.6 793.8 1228.4 797.5 1223.0 802.9 1221.2 810.2 1240.3 813.8 1228.4 821.1 1212.1 826.5 1210.3 833.8 1206.6 839.3 1217.5 842.9 1203.0 848.3 1213.9 853.8 1215.7 861.1 1215.7 864.7 1210.3 872.0 1212.1 877.4 1221.2 882.9 1235.7 888.3 1230.3 893.8 1233.9 901.0 1230.3 908.3 1241.2 911.9 1253.9 915.5 1243.0 919.2 1226.6 926.4 1226.6 933.7 1221.2 941.0 1213.9 948.2 1221.2 957.3 1215.7 964.6 1224.8 970.0 1219.4 973.9 1219.4M969.9 1144.9 971.1 1145.7 972.3 1147.9 973.5 1144.1 974.7 1147.5 975.9 1147.0 977.1 1143.0 978.2 1147.8 979.3 1144.9 980.4 1146.0 981.5 1150.0 982.6 1148.6 983.7 1154.3 984.7 1153.1 985.8 1153.5 986.9 1158.1 988.0 1154.5 989.1 1162.0 990.2 1160.5 991.3 1164.0 992.4 1172.2 993.5 1173.3 994.7 1167.3 995.9 1163.5 997.1 1166.2 998.2 1160.1 999.3 1157.2 1000.4 1148.7 1001.5 1147.9 1002.5 1142.1 1003.8 1140.7 1005.0 1140.7 1006.2 1142.0 1007.3 1141.7 1008.4 1143.4 1009.5 1143.2 1010.5 1149.2 1011.6 1149.5 1012.7 1150.9 1013.8 1148.8 1014.9 1151.9 1016.0 1150.1 1017.1 1150.9 1018.3 1158.7 1019.5 1167.6 1020.7 1173.2 1021.9 1164.0 1023.1 1156.3 1024.3 1150.2 1025.5 1149.8 1026.6 1156.1 1027.8 1154.1 1028.9 1156.6 1030.0 1152.2 1031.2 1156.0 1032.3 1159.5 1033.4 1158.4 1034.6 1156.7 1035.7 1156.5 1036.8 1153.6 1038.0 1153.5 1039.1 1153.1 1040.2 1154.0 1041.4 1153.7 1042.5 1156.5 1043.6 1151.4 1044.8 1151.9 1045.9 1151.8 1047.1 1150.8 1048.2 1151.4 1049.3 1150.8 1050.5 1152.2 1051.6 1149.1 1052.7 1155.2 1053.9 1151.7 1055.0 1155.7 1056.1 1154.3 1057.3 1154.4 1058.4 1153.3 1059.5 1156.7 1060.7 1151.4 1061.8 1153.2 1062.9 1148.9 1064.1 1149.7 1065.2 1148.2 1066.4 1142.6 1067.5 1141.1 1068.6 1138.1 1069.8 1137.6 1070.8 1137.0 1071.9 1139.5 1073.0 1143.6 1074.1 1140.0 1075.2 1140.0 1076.4 1141.6 1077.6 1141.0 1078.8 1144.6 1080.0 1145.4 1081.1 1142.6 1082.2 1144.1 1083.4 1147.8 1084.5 1150.5 1085.7 1149.5 1086.8 1149.0 1087.9 1153.5 1089.0 1145.2 1090.1 1143.8 1091.2 1146.7 1092.3 1142.5 1093.4 1138.2 1094.6 1144.6 1095.8 1150.5 1097.0 1150.4 1098.1 1148.6 1099.3 1146.3 1100.4 1145.4 1101.5 1150.2 1102.7 1146.9 1103.8 1149.1 1105.0 1142.6 1106.1 1143.2 1107.2 1142.6 1108.4 1145.6 1109.5 1144.0 1110.6 1146.0 1111.8 1147.7 1112.9 1147.7 1114.0 1146.7 1115.2 1147.3 1116.3 1153.0 1117.4 1147.3 1118.6 1149.0 1119.7 1147.9 1120.8 1148.3 1122.0 1144.9 1123.1 1145.9 1124.3 1144.1 1125.3 1146.6 1126.4 1148.7 1127.5 1146.2 1128.6 1147.6 1129.7 1143.0 1130.9 1143.5 1132.1 1148.8 1133.3 1150.2 1134.5 1150.3 1135.6 1148.6 1136.7 1149.8 1137.9 1150.0 1139.0 1150.8 1140.1 1146.3 1141.3 1146.8 1142.4 1148.8 1143.6 1144.6 1144.7 1143.7 1145.8 1144.8 1147.0 1143.1 1148.1 1147.3 1149.2 1147.4 1150.4 1143.9 1151.5 1142.4 1152.6 1142.3 1153.8 1143.6 1154.9 1142.8 1156.0 1145.3 1157.2 1146.5 1158.3 1144.6 1159.4 1143.6 1160.6 1148.0 1161.7 1143.5 1162.9 1144.3 1164.0 1144.6 1165.1 1144.9 1166.3 1142.9 1167.4 1144.8 1168.5 1143.9 1169.7 1146.5 1170.8 1145.5 1171.9 1147.9 1173.1 1146.6 1174.2 1147.5 1175.3 1146.5 1176.5 1145.9 1177.6 1148.5 1178.7 1147.7 1179.9 1149.7 1181.0 1148.2 1182.1 1148.0 1183.2 1145.2 1184.3 1148.7 1185.4 1145.9 1186.5 1144.2 1187.6 1143.8 1188.7 1146.7M969.9 1153.6 971.1 1154.1 972.3 1156.6 973.5 1153.9 974.7 1152.3 975.9 1156.8 977.1 1155.2 978.2 1151.9 979.3 1152.3 980.4 1153.0 981.5 1154.6 982.6 1158.1 983.7 1159.5 984.7 1158.0 985.8 1156.2 986.9 1158.2 988.0 1158.5 989.1 1161.6 990.2 1162.7 991.3 1169.8 992.4 1174.6 993.5 1177.3 994.6 1168.7 995.6 1167.2 996.7 1160.5 997.8 1159.7 998.9 1153.6 1000.1 1155.0 1001.3 1152.3 1002.5 1146.0 1003.8 1145.5 1005.0 1147.6 1006.2 1142.8 1007.4 1143.8 1008.6 1145.1 1009.8 1148.4 1011.0 1150.8 1012.2 1149.3 1013.4 1153.4 1014.7 1152.5 1015.9 1150.7 1017.1 1156.9 1018.3 1155.8 1019.5 1154.9 1020.7 1162.6 1021.8 1156.8 1023.0 1160.8 1024.1 1160.6 1025.3 1163.7 1026.4 1161.0 1027.5 1160.3 1028.7 1161.1 1029.8 1161.1 1030.9 1163.2 1032.1 1161.6 1033.2 1164.0 1034.3 1160.4 1035.5 1160.9 1036.6 1160.0 1037.7 1164.6 1038.9 1163.5 1040.1 1163.2 1041.3 1161.4 1042.5 1159.7 1043.7 1157.7 1044.9 1161.9 1046.1 1159.3 1047.4 1157.6 1048.6 1159.6 1049.8 1160.4 1051.0 1165.7 1052.2 1168.1 1053.4 1164.7 1054.6 1168.0 1055.8 1164.3 1057.0 1166.1 1058.3 1166.6 1059.5 1164.5 1060.7 1165.0 1061.8 1162.0 1062.9 1159.4 1064.1 1162.4 1065.2 1162.7 1066.4 1159.8 1067.5 1160.9 1068.6 1160.2 1069.8 1158.1 1070.9 1160.7 1072.0 1161.8 1073.2 1163.1 1074.3 1165.3 1075.4 1164.0 1076.6 1168.5 1077.7 1168.1 1078.8 1169.5 1080.0 1167.5 1081.1 1166.9 1082.2 1165.6 1083.4 1166.8 1084.5 1163.5 1085.7 1164.6 1086.8 1164.7 1087.9 1163.2 1089.1 1162.1 1090.2 1161.2 1091.3 1161.7 1092.5 1163.9 1093.6 1165.8 1094.7 1167.5 1095.9 1167.6 1097.0 1165.4 1098.1 1169.3 1099.3 1164.7 1100.4 1167.4 1101.5 1162.9 1102.7 1167.2 1103.8 1166.4 1105.0 1168.1 1106.1 1167.5 1107.2 1166.8 1108.4 1168.4 1109.5 1168.5 1110.6 1168.3 1111.8 1166.3 1112.9 1169.1 1114.0 1172.2 1115.2 1168.6 1116.3 1172.5 1117.4 1168.8 1118.6 1166.9 1119.7 1163.4 1120.8 1165.0 1122.0 1162.7 1123.1 1165.0 1124.3 1165.7 1125.4 1166.6 1126.5 1165.6 1127.7 1165.0 1128.8 1164.1 1129.9 1168.8 1131.1 1168.8 1132.2 1170.8 1133.3 1169.5 1134.5 1172.6 1135.6 1168.0 1136.7 1168.3 1137.9 1167.9 1139.0 1170.0 1140.1 1171.6 1141.3 1166.5 1142.4 1169.4 1143.6 1170.2 1144.7 1166.7 1145.8 1165.6 1147.0 1168.9 1148.1 1170.7 1149.2 1171.0 1150.4 1170.0 1151.5 1167.9 1152.6 1168.9 1153.8 1170.5 1154.9 1173.9 1156.0 1170.8 1157.2 1171.6 1158.3 1174.6 1159.4 1177.9 1160.6 1173.7 1161.7 1172.4 1162.9 1172.8 1164.0 1175.5 1165.1 1175.5 1166.3 1172.5 1167.4 1172.4 1168.5 1174.8 1169.7 1174.9 1170.8 1175.2 1171.9 1175.4 1173.1 1171.0 1174.2 1173.8 1175.3 1176.1 1176.5 1177.0 1177.6 1172.7 1178.7 1176.2 1179.9 1174.7 1181.0 1176.3 1182.1 1171.5 1183.2 1174.4 1184.3 1175.2 1185.4 1172.6 1186.5 1169.9 1187.6 1170.3 1188.7 1172.1M969.9 1219.6 971.0 1218.7 972.1 1218.2 973.3 1219.7 974.4 1216.7 975.5 1218.9 976.7 1218.2 977.8 1217.8 978.9 1217.1 980.1 1216.7 981.2 1217.6 982.3 1217.8 983.5 1216.3 984.6 1217.8 985.7 1213.9 986.9 1213.9 988.0 1213.8 989.2 1214.9 990.4 1216.2 991.5 1217.1 992.7 1218.6 993.9 1219.4 995.0 1217.0 996.2 1218.9 997.6 1214.1 998.9 1207.9 1000.1 1204.9 1001.3 1205.3 1002.5 1202.4 1003.8 1202.0 1005.0 1199.4 1006.2 1199.6 1007.3 1198.1 1008.4 1192.7 1009.5 1194.4 1010.5 1192.7 1011.6 1189.4 1012.8 1189.5 1014.1 1192.0 1015.3 1192.4 1016.5 1195.0 1017.7 1196.7 1018.9 1195.2 1020.7 1207.5 1022.5 1184.8 1023.7 1186.0 1025.0 1186.7 1026.2 1186.1 1027.4 1185.1 1028.6 1185.6 1029.8 1188.2 1030.9 1187.2 1032.1 1185.5 1033.2 1187.7 1034.3 1187.3 1035.5 1189.7 1036.6 1187.5 1037.7 1188.8 1038.9 1188.5 1040.1 1189.9 1041.3 1191.9 1042.5 1189.6 1043.7 1188.6 1044.9 1190.7 1046.1 1186.6 1047.2 1190.7 1048.3 1195.7 1049.4 1195.0 1050.5 1201.3 1051.6 1202.4 1052.7 1201.6 1053.8 1203.3 1054.9 1205.0 1056.0 1205.4 1057.0 1206.7 1058.3 1202.2 1059.5 1200.5 1060.7 1201.5 1061.9 1194.3 1063.1 1189.6 1064.3 1183.0 1065.5 1189.9 1066.7 1199.0 1067.9 1203.8 1069.2 1195.2 1070.4 1185.3 1071.6 1178.9 1072.8 1183.1 1074.0 1183.9 1075.2 1187.1 1076.4 1186.6 1077.6 1183.7 1078.8 1181.8 1080.1 1183.4 1081.3 1187.5 1082.5 1195.1 1083.6 1190.6 1084.7 1189.8 1085.7 1186.7 1086.8 1184.2 1087.9 1178.8 1089.1 1181.4 1090.2 1180.1 1091.3 1180.5 1092.5 1176.9 1093.6 1179.5 1094.7 1177.7 1095.9 1179.9 1097.0 1179.8 1098.1 1176.8 1099.3 1178.1 1100.4 1177.9 1101.5 1179.3 1102.7 1178.9 1103.8 1181.0 1105.0 1179.1 1106.1 1179.7 1107.2 1180.1 1108.4 1177.5 1109.5 1177.9 1110.6 1179.4 1111.8 1178.4 1112.9 1174.4 1114.0 1172.7 1115.2 1175.4 1116.3 1176.0 1117.4 1174.4 1118.6 1172.3 1119.7 1172.8 1120.8 1175.8 1122.0 1175.9 1123.1 1171.8 1124.3 1172.5 1125.4 1174.1 1126.5 1173.8 1127.7 1176.4 1128.8 1175.2 1129.9 1177.4 1131.1 1175.1 1132.2 1177.2 1133.3 1179.7 1134.5 1179.6 1135.6 1178.0 1136.7 1179.2 1137.9 1182.8 1139.0 1182.7 1140.1 1183.8 1141.3 1185.4 1142.4 1187.0 1143.6 1187.2 1144.7 1182.3 1145.8 1182.2 1147.0 1179.2 1148.1 1178.9 1149.2 1178.2 1150.4 1173.9 1151.5 1173.9 1152.6 1176.2 1153.8 1174.5 1154.9 1179.2 1156.0 1179.0 1157.2 1180.8 1158.3 1182.6 1159.4 1184.8 1160.6 1182.8 1161.7 1184.6 1162.9 1182.3 1164.0 1183.6 1165.1 1183.2 1166.3 1181.6 1167.4 1182.6 1168.5 1183.0 1169.7 1183.7 1170.8 1184.7 1171.9 1182.0 1173.1 1182.5 1174.2 1183.1 1175.3 1183.9 1176.5 1183.7 1177.6 1183.6 1178.7 1180.3 1179.9 1180.3 1181.0 1184.4 1182.1 1181.1 1183.2 1183.4 1184.3 1185.3 1185.4 1185.0 1186.5 1184.9 1187.6 1188.0 1188.7 1186.7M1087.7 1469.5 1090.1 1447.0 1092.6 1421.9 1100.1 1416.9 1105.1 1396.8 1115.1 1391.9 1122.6 1381.9 1127.7 1369.4 1135.2 1376.9 1142.8 1361.9 1150.1 1387.0 1155.2 1397.0 1160.1 1376.9 1165.2 1349.4 1170.3 1357.0 1175.2 1369.4 1180.3 1376.9 1185.2 1379.5 1187.8 1369.4 1188.9 1397.0M840.1 1466.9 845.0 1477.0 852.5 1497.1 860.0 1487.0 867.6 1466.9 870.0 1456.9 875.1 1487.0 877.6 1497.1" fill="none" stroke="#d3d3d3" stroke-width="1.8" stroke-linejoin="round"/>
</g>
<rect x="734.30" y="1126.60" width="482.30" height="449.40" fill="none" stroke="#000" stroke-width="1.33"/>
<text x="734.30" y="1600.0" font-size="16.9" text-anchor="middle">0</text>
<text x="821.99" y="1600.0" font-size="16.9" text-anchor="middle">50</text>
<text x="909.68" y="1600.0" font-size="16.9" text-anchor="middle">100</text>
<text x="997.37" y="1600.0" font-size="16.9" text-anchor="middle">150</text>
<text x="1085.06" y="1600.0" font-size="16.9" text-anchor="middle">200</text>
<text x="1172.75" y="1600.0" font-size="16.9" text-anchor="middle">250</text>
<text x="722.63" y="1132.7" font-size="16.9" text-anchor="end">0</text>
<text x="722.63" y="1207.6" font-size="16.9" text-anchor="end">50</text>
<text x="722.63" y="1282.5" font-size="16.9" text-anchor="end">100</text>
<text x="722.63" y="1357.4" font-size="16.9" text-anchor="end">150</text>
<text x="722.63" y="1432.3" font-size="16.9" text-anchor="end">200</text>
<text x="722.63" y="1507.2" font-size="16.9" text-anchor="end">250</text>
<text x="722.63" y="1582.1" font-size="16.9" text-anchor="end">300</text>
<path d="M734.30 1576.00v5.83 M821.99 1576.00v5.83 M909.68 1576.00v5.83 M997.37 1576.00v5.83 M1085.06 1576.00v5.83 M1172.75 1576.00v5.83 M734.30 1126.60h-5.83 M734.30 1201.50h-5.83 M734.30 1276.40h-5.83 M734.30 1351.30h-5.83 M734.30 1426.20h-5.83 M734.30 1501.10h-5.83 M734.30 1576.00h-5.83" stroke="#000" stroke-width="1.33" fill="none"/>
<text x="975.4" y="1623.0" font-size="16.95" font-weight="bold" text-anchor="middle">Along-transect distance (km)</text>
<text transform="translate(679.3,1351.3) rotate(-90)" font-size="16.95" font-weight="bold" text-anchor="middle">Depth (m)</text>
<text x="975.4" y="1116.1" font-size="20.55" text-anchor="middle">Chlorophyll-a concentration (µg L<tspan font-size="14" dy="-8">−1</tspan><tspan dy="8">)</tspan></text>
<text x="676.5" y="1107.0" font-size="28.5" font-weight="bold">F</text>
<rect x="1246.90" y="1126.60" width="22.50" height="449.40" fill="url(#gF)" stroke="#000" stroke-width="1.33"/>
<text x="1281.07" y="1582.1" font-size="16.9">0.0</text>
<text x="1281.07" y="1517.9" font-size="16.9">0.2</text>
<text x="1281.07" y="1453.7" font-size="16.9">0.4</text>
<text x="1281.07" y="1389.5" font-size="16.9">0.6</text>
<text x="1281.07" y="1325.3" font-size="16.9">0.8</text>
<text x="1281.07" y="1261.1" font-size="16.9">1.0</text>
<text x="1281.07" y="1196.9" font-size="16.9">1.2</text>
<text x="1281.07" y="1132.7" font-size="16.9">1.4</text>
<path d="M1269.40 1576.00h5.83 M1269.40 1511.80h5.83 M1269.40 1447.60h5.83 M1269.40 1383.40h5.83 M1269.40 1319.20h5.83 M1269.40 1255.00h5.83 M1269.40 1190.80h5.83 M1269.40 1126.60h5.83" stroke="#000" stroke-width="1.33" fill="none"/>
<text x="139.5" y="489.6" font-size="17" font-weight="bold">Bonavista</text>
<text x="780.5" y="488.4" font-size="17" font-weight="bold">Halifax Line</text>
</svg></body></html>
